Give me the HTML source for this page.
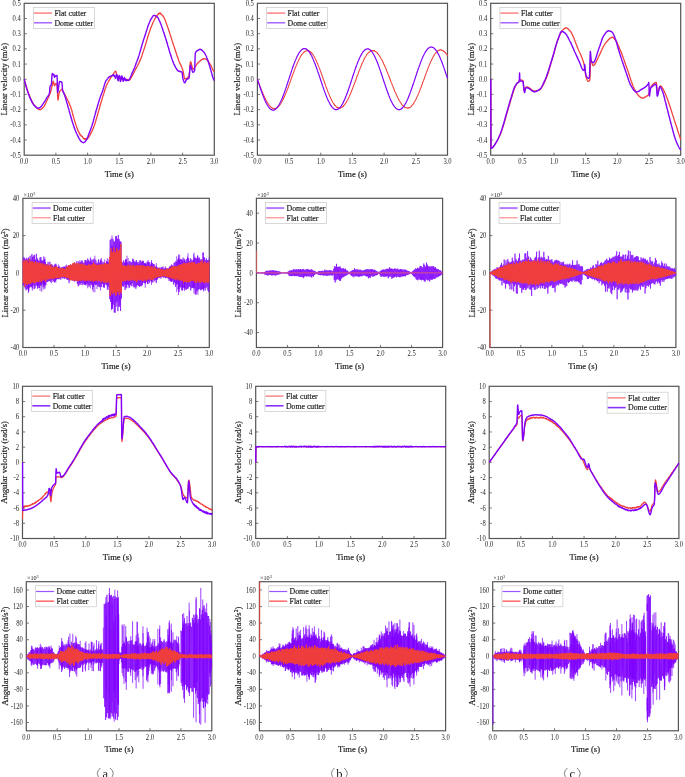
<!DOCTYPE html>
<html><head><meta charset="utf-8"><style>
html,body{margin:0;padding:0;background:#fff;}
svg{display:block;will-change:transform;}
text{font-family:"Liberation Serif", serif;fill:#1e1e1e;}
.tk{font-size:6.6px;}
.al{font-size:8.6px;stroke:#1e1e1e;stroke-width:0.18px;}
.lg{font-size:7.8px;stroke:#1e1e1e;stroke-width:0.18px;}
.mu{font-size:6.2px;}
.pl{font-size:12.5px;}
</style></head><body>
<svg width="685" height="777" viewBox="0 0 685 777">
<defs><clipPath id="c00"><rect x="23.50" y="2.60" width="191.50" height="153.30"/></clipPath><clipPath id="c01"><rect x="256.70" y="2.60" width="191.50" height="153.30"/></clipPath><clipPath id="c02"><rect x="490.00" y="2.60" width="191.40" height="153.30"/></clipPath><clipPath id="c10"><rect x="22.20" y="197.60" width="187.80" height="150.60"/></clipPath><clipPath id="c11"><rect x="255.70" y="197.60" width="187.60" height="150.60"/></clipPath><clipPath id="c12"><rect x="489.10" y="197.60" width="187.50" height="150.60"/></clipPath><clipPath id="c20"><rect x="21.80" y="385.60" width="191.10" height="153.60"/></clipPath><clipPath id="c21"><rect x="255.00" y="385.60" width="191.40" height="153.60"/></clipPath><clipPath id="c22"><rect x="488.50" y="385.60" width="191.10" height="153.60"/></clipPath><clipPath id="c30"><rect x="25.60" y="581.00" width="186.90" height="150.50"/></clipPath><clipPath id="c31"><rect x="258.70" y="581.00" width="187.60" height="150.50"/></clipPath><clipPath id="c32"><rect x="492.00" y="581.00" width="187.10" height="150.50"/></clipPath></defs>
<rect width="685" height="777" fill="#fff"/>
<g>
<rect x="24.20" y="3.30" width="190.10" height="151.90" fill="none" stroke="#555" stroke-width="1.2"/>
<path d="M55.88 155.20V152.60M87.57 155.20V152.60M119.25 155.20V152.60M150.93 155.20V152.60M182.62 155.20V152.60M24.20 140.01H26.80M24.20 124.82H26.80M24.20 109.63H26.80M24.20 94.44H26.80M24.20 79.25H26.80M24.20 64.06H26.80M24.20 48.87H26.80M24.20 33.68H26.80M24.20 18.49H26.80" stroke="#555" stroke-width="0.8" fill="none"/>
<text transform="translate(24.20 163.90) scale(1 1.10)" class="tk" text-anchor="middle">0.0</text>
<text transform="translate(55.88 163.90) scale(1 1.10)" class="tk" text-anchor="middle">0.5</text>
<text transform="translate(87.57 163.90) scale(1 1.10)" class="tk" text-anchor="middle">1.0</text>
<text transform="translate(119.25 163.90) scale(1 1.10)" class="tk" text-anchor="middle">1.5</text>
<text transform="translate(150.93 163.90) scale(1 1.10)" class="tk" text-anchor="middle">2.0</text>
<text transform="translate(182.62 163.90) scale(1 1.10)" class="tk" text-anchor="middle">2.5</text>
<text transform="translate(214.30 163.90) scale(1 1.10)" class="tk" text-anchor="middle">3.0</text>
<text transform="translate(20.70 157.80) scale(1 1.10)" class="tk" text-anchor="end">-0.5</text>
<text transform="translate(20.70 142.61) scale(1 1.10)" class="tk" text-anchor="end">-0.4</text>
<text transform="translate(20.70 127.42) scale(1 1.10)" class="tk" text-anchor="end">-0.3</text>
<text transform="translate(20.70 112.23) scale(1 1.10)" class="tk" text-anchor="end">-0.2</text>
<text transform="translate(20.70 97.04) scale(1 1.10)" class="tk" text-anchor="end">-0.1</text>
<text transform="translate(20.70 81.85) scale(1 1.10)" class="tk" text-anchor="end">0.0</text>
<text transform="translate(20.70 66.66) scale(1 1.10)" class="tk" text-anchor="end">0.1</text>
<text transform="translate(20.70 51.47) scale(1 1.10)" class="tk" text-anchor="end">0.2</text>
<text transform="translate(20.70 36.28) scale(1 1.10)" class="tk" text-anchor="end">0.3</text>
<text transform="translate(20.70 21.09) scale(1 1.10)" class="tk" text-anchor="end">0.4</text>
<text transform="translate(20.70 5.90) scale(1 1.10)" class="tk" text-anchor="end">0.5</text>
<text x="119.25" y="176.80" class="al" text-anchor="middle">Time (s)</text>
<text transform="translate(7.10 79.25) rotate(-90)" class="al" text-anchor="middle">Linear velocity (m/s)</text>
<g clip-path="url(#c00)">
<path d="M24.20 79.25L24.45 80.32L24.71 81.00L24.96 82.15L25.21 82.85L25.47 83.77L25.72 84.75L25.97 85.48L26.23 86.35L26.48 87.01L26.73 88.03L26.99 88.75L27.24 89.46L27.50 90.34L27.75 90.94L28.00 91.72L28.26 92.35L28.51 93.14L28.76 93.78L29.02 94.48L29.27 95.29L29.52 95.80L29.78 96.49L30.03 97.24L30.28 97.82L30.54 98.30L30.79 98.79L31.04 99.25L31.30 99.75L31.55 100.52L31.80 100.90L32.06 101.29L32.31 101.93L32.56 102.45L32.82 102.86L33.07 103.39L33.32 103.54L33.58 104.08L33.83 104.42L34.09 104.64L34.34 105.12L34.59 105.47L34.85 105.68L35.10 105.88L35.35 106.34L35.61 106.53L35.86 106.82L36.11 107.17L36.37 107.26L36.62 107.73L36.87 107.94L37.13 108.21L37.38 108.27L37.63 108.66L37.89 108.68L38.14 108.83L38.39 109.23L38.65 109.37L38.90 109.50L39.15 109.48L39.41 109.49L39.66 109.46L39.91 109.67L40.17 109.68L40.42 109.67L40.68 109.41L40.93 109.27L41.18 109.24L41.44 109.11L41.69 108.96L41.94 108.49L42.20 108.36L42.45 108.23L42.70 107.84L42.96 107.63L43.21 107.21L43.46 107.13L43.72 106.89L43.97 106.50L44.22 106.14L44.48 105.65L44.73 105.08L44.98 104.77L45.24 104.11L45.49 103.80L45.74 103.05L46.00 102.75L46.25 102.02L46.51 101.54L46.76 100.99L47.01 100.57L47.27 99.89L47.52 99.42L47.77 98.77L48.03 98.30L48.28 97.79L48.53 97.13L48.79 96.70L49.04 96.02L49.29 95.51L49.55 94.84L49.80 94.10L50.05 93.54L50.31 92.74L50.56 92.04L50.81 91.10L51.07 90.30L51.32 89.20L51.57 88.35L51.83 86.99L52.08 85.86L52.33 84.70L52.59 83.58L52.84 82.39L53.10 81.43L53.35 81.24L53.60 82.17L53.86 83.48L54.11 84.85L54.36 85.64L54.62 85.74L54.87 85.38L55.12 84.70L55.38 84.01L55.63 83.75L55.88 83.57L56.14 83.37L56.39 83.31L56.64 83.29L56.90 84.31L57.15 87.81L57.40 92.04L57.66 96.37L57.91 100.07L58.16 99.78L58.42 97.94L58.67 95.61L58.92 93.91L59.18 92.99L59.43 92.26L59.69 91.57L59.94 91.22L60.19 90.74L60.45 90.36L60.70 90.11L60.95 89.88L61.21 89.49L61.46 89.51L61.71 89.48L61.97 89.56L62.22 90.11L62.47 90.33L62.73 90.74L62.98 91.38L63.23 91.62L63.49 92.23L63.74 92.47L63.99 92.95L64.25 93.33L64.50 93.96L64.75 94.28L65.01 94.92L65.26 95.30L65.52 95.80L65.77 96.24L66.02 96.67L66.28 97.19L66.53 97.85L66.78 98.13L67.04 98.88L67.29 99.32L67.54 99.72L67.80 100.33L68.05 100.78L68.30 101.32L68.56 101.91L68.81 102.33L69.06 103.04L69.32 103.78L69.57 104.17L69.82 104.93L70.08 105.47L70.33 106.04L70.58 106.92L70.84 107.34L71.09 108.14L71.34 109.13L71.60 109.74L71.85 110.79L72.11 111.63L72.36 112.64L72.61 113.55L72.87 114.45L73.12 115.56L73.37 116.31L73.63 117.41L73.88 118.33L74.13 119.28L74.39 120.06L74.64 120.92L74.89 121.80L75.15 122.50L75.40 123.37L75.65 124.07L75.91 124.90L76.16 125.60L76.41 126.30L76.67 126.92L76.92 127.78L77.17 128.32L77.43 128.94L77.68 129.86L77.93 130.37L78.19 131.29L78.44 131.58L78.70 132.22L78.95 132.05L79.20 132.71L79.46 133.74L79.71 134.02L79.96 133.90L80.22 135.21L80.47 134.59L80.72 135.34L80.98 135.21L81.23 136.20L81.48 135.95L81.74 136.05L81.99 136.20L82.24 136.59L82.50 136.84L82.75 137.47L83.00 137.57L83.26 138.38L83.51 138.58L83.76 138.60L84.02 138.65L84.27 139.06L84.53 139.35L84.78 138.40L85.03 138.65L85.29 139.03L85.54 138.76L85.79 139.36L86.05 138.92L86.30 138.86L86.55 138.79L86.81 138.44L87.06 139.08L87.31 138.82L87.57 138.52L87.82 138.17L88.07 138.06L88.33 137.86L88.58 137.38L88.83 137.09L89.09 136.58L89.34 136.18L89.59 135.77L89.85 135.37L90.10 134.90L90.35 134.53L90.61 133.86L90.86 133.27L91.12 133.01L91.37 132.28L91.62 131.79L91.88 131.53L92.13 130.93L92.38 130.24L92.64 129.60L92.89 129.08L93.14 128.45L93.40 127.97L93.65 127.19L93.90 126.42L94.16 125.99L94.41 125.21L94.66 124.35L94.92 123.60L95.17 122.93L95.42 122.01L95.68 121.35L95.93 120.49L96.18 119.44L96.44 118.78L96.69 117.87L96.94 117.00L97.20 116.01L97.45 115.10L97.71 114.02L97.96 113.06L98.21 112.16L98.47 111.53L98.72 110.54L98.97 109.76L99.23 108.72L99.48 107.97L99.73 106.89L99.99 106.05L100.24 105.20L100.49 104.41L100.75 103.54L101.00 102.64L101.25 101.75L101.51 100.93L101.76 100.18L102.01 99.17L102.27 98.44L102.52 97.36L102.77 96.63L103.03 95.86L103.28 95.07L103.54 94.17L103.79 93.41L104.04 92.77L104.30 91.87L104.55 91.05L104.80 90.10L105.06 89.32L105.31 88.60L105.56 87.84L105.82 87.39L106.07 86.41L106.32 85.88L106.58 85.19L106.83 84.80L107.08 84.08L107.34 83.57L107.59 83.07L107.84 82.63L108.10 82.25L108.35 81.86L108.60 81.25L108.86 80.81L109.11 80.55L109.36 80.10L109.62 79.50L109.87 79.29L110.13 78.89L110.38 78.29L110.63 78.02L110.89 77.50L111.14 77.12L111.39 76.82L111.65 76.46L111.90 76.08L112.15 75.74L112.41 75.29L112.66 75.12L112.91 74.63L113.17 74.46L113.42 73.95L113.67 73.48L113.93 73.02L114.18 72.71L114.43 72.29L114.69 72.02L114.94 71.68L115.19 71.30L115.45 71.38L115.70 71.07L115.95 71.60L116.21 72.65L116.46 73.94L116.72 74.74L116.97 75.06L117.22 75.57L117.48 75.95L117.73 76.35L117.98 76.58L118.24 76.94L118.49 77.04L118.74 77.30L119.00 77.56L119.25 77.71L119.50 77.79L119.76 78.22L120.01 78.31L120.26 78.52L120.52 78.54L120.77 78.86L121.02 78.96L121.28 79.13L121.53 78.99L121.78 79.16L122.04 79.18L122.29 79.28L122.55 79.18L122.80 79.13L123.05 79.24L123.31 79.29L123.56 79.22L123.81 79.40L124.07 79.22L124.32 79.19L124.57 79.34L124.83 79.24L125.08 79.18L125.33 79.19L125.59 79.38L125.84 79.40L126.09 79.33L126.35 79.27L126.60 79.46L126.85 79.38L127.11 79.49L127.36 79.63L127.61 79.67L127.87 79.73L128.12 79.99L128.37 79.81L128.63 79.99L128.88 79.85L129.14 79.89L129.39 79.89L129.64 79.99L129.90 79.67L130.15 79.40L130.40 78.78L130.66 78.55L130.91 78.02L131.16 77.54L131.42 77.16L131.67 76.58L131.92 76.22L132.18 75.72L132.43 75.32L132.68 74.90L132.94 74.31L133.19 73.86L133.44 73.40L133.70 72.91L133.95 72.50L134.20 71.94L134.46 71.41L134.71 70.99L134.96 70.29L135.22 69.77L135.47 69.38L135.73 68.83L135.98 68.49L136.23 68.03L136.49 67.43L136.74 67.15L136.99 66.64L137.25 66.14L137.50 65.82L137.75 65.33L138.01 64.67L138.26 64.17L138.51 63.90L138.77 63.17L139.02 62.84L139.27 62.18L139.53 61.65L139.78 61.15L140.03 60.68L140.29 59.81L140.54 59.24L140.79 58.76L141.05 57.98L141.30 57.26L141.56 56.74L141.81 55.80L142.06 55.19L142.32 54.50L142.57 53.67L142.82 52.88L143.08 52.10L143.33 51.34L143.58 50.39L143.84 49.71L144.09 48.98L144.34 48.23L144.60 47.47L144.85 46.70L145.10 45.68L145.36 44.96L145.61 44.17L145.86 43.48L146.12 42.51L146.37 41.63L146.62 40.72L146.88 39.95L147.13 39.26L147.38 38.19L147.64 37.39L147.89 36.60L148.15 35.83L148.40 34.96L148.65 34.30L148.91 33.30L149.16 32.62L149.41 31.91L149.67 31.20L149.92 30.44L150.17 29.50L150.43 29.01L150.68 28.30L150.93 27.58L151.19 26.83L151.44 26.25L151.69 25.79L151.95 24.97L152.20 24.43L152.45 23.80L152.71 23.35L152.96 22.65L153.21 21.99L153.47 21.51L153.72 20.95L153.97 20.54L154.23 19.91L154.48 19.52L154.74 19.00L154.99 18.65L155.24 18.18L155.50 17.67L155.75 17.32L156.00 16.96L156.26 17.07L156.51 15.85L156.76 15.84L157.02 15.62L157.27 15.16L157.52 15.02L157.78 14.59L158.03 14.19L158.28 14.25L158.54 13.58L158.79 13.70L159.04 13.68L159.30 12.84L159.55 12.99L159.80 13.71L160.06 13.76L160.31 13.87L160.57 12.85L160.82 13.95L161.07 14.28L161.33 14.47L161.58 14.51L161.83 14.75L162.09 15.12L162.34 15.27L162.59 15.87L162.85 15.88L163.10 15.91L163.35 16.12L163.61 17.09L163.86 17.44L164.11 17.73L164.37 18.43L164.62 18.83L164.87 19.54L165.13 20.08L165.38 20.70L165.63 21.37L165.89 22.03L166.14 22.72L166.39 23.42L166.65 24.11L166.90 25.00L167.16 25.59L167.41 26.17L167.66 27.00L167.92 27.73L168.17 28.46L168.42 29.12L168.68 29.94L168.93 30.83L169.18 31.46L169.44 32.27L169.69 33.18L169.94 33.75L170.20 34.68L170.45 35.39L170.70 36.27L170.96 36.93L171.21 37.76L171.46 38.48L171.72 39.40L171.97 40.18L172.22 40.86L172.48 41.74L172.73 42.44L172.98 43.25L173.24 44.06L173.49 44.66L173.75 45.67L174.00 46.28L174.25 47.11L174.51 47.81L174.76 48.79L175.01 49.44L175.27 50.34L175.52 50.98L175.77 51.80L176.03 52.59L176.28 53.32L176.53 54.03L176.79 55.01L177.04 55.81L177.29 56.34L177.55 57.05L177.80 57.83L178.05 58.46L178.31 59.33L178.56 59.94L178.81 60.65L179.07 61.38L179.32 61.97L179.58 62.57L179.83 63.14L180.08 63.59L180.34 64.11L180.59 64.52L180.84 65.10L181.10 65.79L181.35 66.47L181.60 66.94L181.86 67.43L182.11 68.15L182.36 69.01L182.62 69.55L182.87 70.34L183.12 71.21L183.38 72.45L183.63 73.94L183.88 75.27L184.14 76.83L184.39 78.00L184.64 78.74L184.90 78.97L185.15 79.02L185.40 78.80L185.66 78.82L185.91 78.61L186.17 78.62L186.42 78.57L186.67 78.46L186.93 78.11L187.18 77.84L187.43 77.68L187.69 77.35L187.94 76.97L188.19 76.77L188.45 76.49L188.70 76.14L188.95 75.75L189.21 74.31L189.46 71.79L189.71 68.64L189.97 65.62L190.22 63.23L190.47 61.76L190.73 62.01L190.98 62.47L191.23 63.10L191.49 64.23L191.74 65.38L191.99 66.53L192.25 67.33L192.50 68.37L192.76 68.94L193.01 69.00L193.26 68.97L193.52 69.06L193.77 68.70L194.02 68.44L194.28 68.27L194.53 67.76L194.78 67.50L195.04 67.06L195.29 66.69L195.54 66.28L195.80 65.85L196.05 65.35L196.30 65.06L196.56 64.63L196.81 64.27L197.06 63.77L197.32 63.54L197.57 63.19L197.82 62.91L198.08 62.79L198.33 62.65L198.59 62.37L198.84 61.98L199.09 61.72L199.35 61.65L199.60 61.40L199.85 61.22L200.11 60.78L200.36 60.78L200.61 60.44L200.87 60.19L201.12 60.02L201.37 60.03L201.63 59.84L201.88 59.41L202.13 59.33L202.39 59.32L202.64 58.99L202.89 58.88L203.15 58.79L203.40 58.96L203.65 58.75L203.91 58.71L204.16 58.83L204.41 58.70L204.67 58.86L204.92 58.81L205.18 58.87L205.43 59.00L205.68 59.05L205.94 59.16L206.19 59.54L206.44 59.69L206.70 59.72L206.95 59.95L207.20 60.19L207.46 60.28L207.71 60.65L207.96 60.96L208.22 61.08L208.47 61.44L208.72 62.00L208.98 62.37L209.23 62.61L209.48 63.22L209.74 63.63L209.99 63.91L210.24 64.34L210.50 64.69L210.75 65.21L211.00 65.57L211.26 66.21L211.51 66.78L211.77 67.33L212.02 67.76L212.27 68.50L212.53 69.10L212.78 69.45L213.03 70.09L213.29 70.60L213.54 70.79L213.79 71.32L214.05 71.58L214.30 71.72" fill="none" stroke="#f0403c" stroke-width="1.30" stroke-linejoin="round"/>
<path d="M24.20 79.18L24.45 80.21L24.71 81.38L24.96 82.15L25.21 83.27L25.47 84.26L25.72 85.03L25.97 85.90L26.23 86.86L26.48 87.84L26.73 88.66L26.99 89.35L27.24 90.23L27.50 91.08L27.75 91.76L28.00 92.57L28.26 93.39L28.51 94.02L28.76 94.63L29.02 95.25L29.27 95.95L29.52 96.64L29.78 97.38L30.03 97.94L30.28 98.39L30.54 99.12L30.79 99.54L31.04 100.15L31.30 100.51L31.55 101.04L31.80 101.59L32.06 102.30L32.31 102.72L32.56 103.22L32.82 103.59L33.07 103.92L33.32 104.31L33.58 104.65L33.83 105.02L34.09 105.17L34.34 105.58L34.59 105.77L34.85 106.10L35.10 106.27L35.35 106.58L35.61 106.71L35.86 107.00L36.11 107.12L36.37 107.28L36.62 107.44L36.87 107.79L37.13 107.85L37.38 108.09L37.63 108.15L37.89 108.06L38.14 108.25L38.39 108.13L38.65 108.15L38.90 107.99L39.15 107.85L39.41 107.77L39.66 107.68L39.91 107.71L40.17 107.45L40.42 107.25L40.68 107.26L40.93 106.77L41.18 106.57L41.44 106.24L41.69 105.91L41.94 105.50L42.20 105.23L42.45 104.78L42.70 104.33L42.96 103.96L43.21 103.56L43.46 103.33L43.72 102.74L43.97 102.51L44.22 102.09L44.48 101.55L44.73 101.23L44.98 101.02L45.24 100.58L45.49 99.93L45.74 99.60L46.00 99.09L46.25 98.90L46.51 98.25L46.76 97.79L47.01 97.62L47.27 97.06L47.52 96.68L47.77 96.30L48.03 96.11L48.28 95.78L48.53 95.44L48.79 94.80L49.04 94.23L49.29 93.48L49.55 92.57L49.80 88.80L50.05 86.36L50.31 85.72L50.56 85.66L50.81 85.54L51.07 85.11L51.32 84.71L51.57 81.88L51.83 77.58L52.08 74.03L52.33 73.60L52.59 74.09L52.84 74.60L53.10 74.81L53.35 74.63L53.60 74.40L53.86 74.18L54.11 75.76L54.36 77.18L54.62 77.24L54.87 76.87L55.12 76.41L55.38 75.92L55.63 75.80L55.88 75.79L56.14 75.71L56.39 75.55L56.64 75.57L56.90 75.43L57.15 77.35L57.40 86.41L57.66 92.45L57.91 91.55L58.16 90.30L58.42 88.39L58.67 86.83L58.92 84.80L59.18 83.00L59.43 81.66L59.69 81.41L59.94 81.39L60.19 81.69L60.45 81.66L60.70 81.58L60.95 81.68L61.21 81.85L61.46 82.09L61.71 82.04L61.97 82.65L62.22 85.82L62.47 89.20L62.73 90.61L62.98 91.41L63.23 92.19L63.49 92.57L63.74 93.17L63.99 93.70L64.25 94.28L64.50 94.99L64.75 95.80L65.01 96.38L65.26 97.16L65.52 98.04L65.77 98.93L66.02 99.89L66.28 100.67L66.53 101.55L66.78 102.50L67.04 103.17L67.29 104.05L67.54 104.98L67.80 105.83L68.05 106.82L68.30 107.79L68.56 108.44L68.81 109.45L69.06 110.41L69.32 111.28L69.57 112.34L69.82 113.22L70.08 114.19L70.33 114.88L70.58 115.81L70.84 116.67L71.09 117.78L71.34 118.67L71.60 119.22L71.85 120.29L72.11 121.10L72.36 121.98L72.61 122.61L72.87 123.55L73.12 124.20L73.37 124.94L73.63 125.91L73.88 126.45L74.13 127.38L74.39 127.96L74.64 128.71L74.89 129.49L75.15 129.94L75.40 130.63L75.65 131.20L75.91 131.73L76.16 132.39L76.41 132.86L76.67 133.59L76.92 134.07L77.17 134.49L77.43 135.22L77.68 135.53L77.93 136.14L78.19 136.69L78.44 137.07L78.70 137.51L78.95 138.29L79.20 138.80L79.46 139.03L79.71 139.46L79.96 139.95L80.22 140.36L80.47 140.78L80.72 141.04L80.98 141.30L81.23 141.32L81.48 141.67L81.74 141.85L81.99 142.01L82.24 142.15L82.50 142.34L82.75 142.53L83.00 142.55L83.26 142.63L83.51 142.61L83.76 142.73L84.02 142.58L84.27 142.34L84.53 142.22L84.78 141.94L85.03 141.73L85.29 141.50L85.54 141.00L85.79 140.75L86.05 140.27L86.30 140.14L86.55 139.66L86.81 139.07L87.06 138.59L87.31 138.00L87.57 137.39L87.82 136.79L88.07 136.27L88.33 135.48L88.58 134.73L88.83 134.07L89.09 133.34L89.34 132.81L89.59 131.96L89.85 131.39L90.10 130.75L90.35 130.05L90.61 129.56L90.86 128.72L91.12 128.07L91.37 127.30L91.62 126.78L91.88 125.92L92.13 125.24L92.38 124.30L92.64 123.40L92.89 122.62L93.14 121.86L93.40 120.97L93.65 119.89L93.90 119.09L94.16 117.90L94.41 117.08L94.66 116.04L94.92 115.13L95.17 114.11L95.42 113.37L95.68 112.26L95.93 111.53L96.18 110.38L96.44 109.61L96.69 108.75L96.94 107.97L97.20 107.00L97.45 106.18L97.71 105.19L97.96 104.40L98.21 103.67L98.47 102.64L98.72 101.91L98.97 101.01L99.23 100.17L99.48 99.35L99.73 98.76L99.99 97.94L100.24 97.09L100.49 96.35L100.75 95.72L101.00 94.98L101.25 94.40L101.51 93.78L101.76 93.06L102.01 92.53L102.27 91.88L102.52 91.13L102.77 90.41L103.03 89.67L103.28 88.76L103.54 87.89L103.79 86.94L104.04 86.18L104.30 85.24L104.55 84.20L104.80 83.60L105.06 82.89L105.31 82.20L105.56 81.49L105.82 81.03L106.07 80.60L106.32 80.16L106.58 79.92L106.83 79.68L107.08 79.31L107.34 78.95L107.59 78.70L107.84 78.35L108.10 77.94L108.35 77.85L108.60 77.47L108.86 77.39L109.11 77.01L109.36 76.74L109.62 76.76L109.87 76.41L110.13 76.50L110.38 76.24L110.63 76.24L110.89 75.93L111.14 75.97L111.39 75.92L111.65 75.66L111.90 75.72L112.15 75.50L112.41 75.48L112.66 75.43L112.91 75.63L113.17 74.70L113.42 74.77L113.67 75.82L113.93 75.69L114.18 75.33L114.43 75.45L114.69 76.78L114.94 77.00L115.19 77.20L115.45 78.41L115.70 76.80L115.95 76.94L116.21 75.48L116.46 74.59L116.72 74.26L116.97 75.09L117.22 77.03L117.48 79.12L117.73 79.62L117.98 80.16L118.24 80.85L118.49 78.10L118.74 76.33L119.00 75.87L119.25 75.53L119.50 75.98L119.76 76.97L120.01 78.60L120.26 81.29L120.52 81.50L120.77 80.80L121.02 78.48L121.28 77.37L121.53 75.84L121.78 76.94L122.04 76.21L122.29 77.22L122.55 79.31L122.80 79.76L123.05 80.85L123.31 81.26L123.56 80.35L123.81 78.34L124.07 78.80L124.32 77.55L124.57 77.99L124.83 78.17L125.08 80.04L125.33 79.36L125.59 80.44L125.84 80.32L126.09 80.52L126.35 79.54L126.60 80.38L126.85 80.51L127.11 80.42L127.36 80.34L127.61 80.32L127.87 80.41L128.12 80.53L128.37 80.22L128.63 80.06L128.88 79.99L129.14 79.74L129.39 79.22L129.64 78.84L129.90 78.25L130.15 77.73L130.40 77.23L130.66 76.57L130.91 76.03L131.16 75.32L131.42 74.92L131.67 74.21L131.92 73.43L132.18 72.85L132.43 72.46L132.68 71.77L132.94 71.19L133.19 70.56L133.44 70.19L133.70 69.58L133.95 69.07L134.20 68.27L134.46 67.84L134.71 67.24L134.96 66.61L135.22 65.95L135.47 65.21L135.73 64.43L135.98 63.94L136.23 63.09L136.49 62.42L136.74 61.83L136.99 61.05L137.25 60.45L137.50 59.86L137.75 58.93L138.01 58.37L138.26 57.67L138.51 56.60L138.77 55.92L139.02 55.20L139.27 54.39L139.53 53.42L139.78 52.74L140.03 51.76L140.29 50.86L140.54 50.09L140.79 49.26L141.05 48.46L141.30 47.54L141.56 46.50L141.81 45.78L142.06 44.85L142.32 44.10L142.57 43.05L142.82 42.39L143.08 41.59L143.33 40.54L143.58 39.71L143.84 39.17L144.09 38.38L144.34 37.38L144.60 36.84L144.85 35.93L145.10 35.19L145.36 34.39L145.61 33.56L145.86 32.93L146.12 32.05L146.37 31.34L146.62 30.45L146.88 29.75L147.13 28.83L147.38 28.04L147.64 27.30L147.89 26.37L148.15 25.86L148.40 24.94L148.65 24.48L148.91 23.52L149.16 23.06L149.41 22.45L149.67 21.77L149.92 21.07L150.17 20.74L150.43 20.09L150.68 19.61L150.93 19.31L151.19 18.98L151.44 18.30L151.69 17.98L151.95 17.63L152.20 17.12L152.45 16.93L152.71 16.49L152.96 16.03L153.21 15.79L153.47 15.58L153.72 15.53L153.97 15.59L154.23 15.34L154.48 15.38L154.74 15.45L154.99 15.63L155.24 15.68L155.50 15.79L155.75 15.84L156.00 16.18L156.26 16.24L156.51 16.52L156.76 16.45L157.02 16.77L157.27 16.93L157.52 17.31L157.78 17.56L158.03 17.88L158.28 18.19L158.54 18.81L158.79 19.39L159.04 19.89L159.30 20.52L159.55 20.99L159.80 21.50L160.06 22.08L160.31 22.84L160.57 23.44L160.82 24.01L161.07 24.71L161.33 25.31L161.58 26.13L161.83 26.82L162.09 27.44L162.34 28.31L162.59 29.11L162.85 29.75L163.10 30.75L163.35 31.49L163.61 32.05L163.86 32.84L164.11 33.54L164.37 34.59L164.62 35.14L164.87 36.12L165.13 36.81L165.38 37.46L165.63 38.31L165.89 39.12L166.14 40.08L166.39 40.77L166.65 41.52L166.90 42.58L167.16 43.29L167.41 44.01L167.66 45.14L167.92 45.93L168.17 46.73L168.42 47.52L168.68 48.55L168.93 49.24L169.18 50.35L169.44 51.13L169.69 51.93L169.94 52.75L170.20 53.57L170.45 54.25L170.70 55.15L170.96 55.74L171.21 56.72L171.46 57.53L171.72 58.15L171.97 58.88L172.22 59.88L172.48 60.60L172.73 61.07L172.98 61.88L173.24 62.40L173.49 63.01L173.75 63.79L174.00 64.24L174.25 64.77L174.51 65.14L174.76 65.79L175.01 66.25L175.27 66.64L175.52 67.16L175.77 67.55L176.03 68.10L176.28 68.41L176.53 68.89L176.79 69.39L177.04 69.69L177.29 70.00L177.55 70.15L177.80 70.62L178.05 70.78L178.31 71.07L178.56 71.21L178.81 71.32L179.07 71.29L179.32 71.43L179.58 71.28L179.83 71.30L180.08 71.56L180.34 71.56L180.59 71.68L180.84 71.54L181.10 71.67L181.35 71.85L181.60 71.91L181.86 72.13L182.11 72.18L182.36 74.05L182.62 77.08L182.87 78.26L183.12 79.17L183.38 80.25L183.63 80.87L183.88 81.62L184.14 82.26L184.39 82.53L184.64 82.72L184.90 82.69L185.15 82.46L185.40 81.92L185.66 81.29L185.91 80.55L186.17 79.88L186.42 79.46L186.67 79.50L186.93 79.25L187.18 79.01L187.43 78.97L187.69 78.98L187.94 78.78L188.19 78.87L188.45 78.63L188.70 78.49L188.95 78.24L189.21 76.85L189.46 74.44L189.71 71.14L189.97 67.81L190.22 65.73L190.47 65.16L190.73 65.61L190.98 66.59L191.23 67.64L191.49 68.66L191.74 69.36L191.99 70.07L192.25 70.89L192.50 71.53L192.76 72.13L193.01 72.28L193.26 72.19L193.52 72.10L193.77 71.90L194.02 71.44L194.28 70.93L194.53 70.62L194.78 68.11L195.04 59.20L195.29 53.34L195.54 52.81L195.80 52.05L196.05 51.73L196.30 51.55L196.56 51.06L196.81 50.91L197.06 50.86L197.32 50.78L197.57 50.42L197.82 50.36L198.08 50.25L198.33 50.07L198.59 49.91L198.84 49.90L199.09 49.77L199.35 49.42L199.60 49.34L199.85 49.32L200.11 49.21L200.36 49.23L200.61 49.42L200.87 49.65L201.12 49.58L201.37 49.72L201.63 50.04L201.88 50.16L202.13 50.30L202.39 50.56L202.64 51.03L202.89 51.03L203.15 51.43L203.40 51.63L203.65 52.02L203.91 52.25L204.16 52.49L204.41 52.84L204.67 53.22L204.92 53.61L205.18 54.02L205.43 54.47L205.68 55.02L205.94 55.51L206.19 55.93L206.44 56.63L206.70 57.42L206.95 58.09L207.20 58.60L207.46 59.28L207.71 60.06L207.96 60.77L208.22 61.57L208.47 62.55L208.72 63.31L208.98 63.96L209.23 64.76L209.48 65.57L209.74 66.38L209.99 67.22L210.24 68.12L210.50 68.99L210.75 69.78L211.00 70.89L211.26 71.83L211.51 72.62L211.77 73.56L212.02 74.61L212.27 75.42L212.53 76.40L212.78 77.06L213.03 77.94L213.29 78.64L213.54 79.14L213.79 79.76L214.05 80.28L214.30 80.71" fill="none" stroke="#7f00ff" stroke-width="1.40" stroke-linejoin="round"/>
</g>
<rect x="33.40" y="7.40" width="61" height="21" fill="#fff" stroke="#c8c8c8" stroke-width="0.7"/>
<line x1="34.00" y1="13.10" x2="52.00" y2="13.10" stroke="#ff8a8a" stroke-width="1.60"/>
<text x="54.40" y="15.80" class="lg">Flat cutter</text>
<line x1="34.00" y1="22.80" x2="52.00" y2="22.80" stroke="#9a4dff" stroke-width="1.30"/>
<text x="54.40" y="25.50" class="lg">Dome cutter</text>
</g>
<g>
<rect x="257.40" y="3.30" width="190.10" height="151.90" fill="none" stroke="#555" stroke-width="1.2"/>
<path d="M289.08 155.20V152.60M320.77 155.20V152.60M352.45 155.20V152.60M384.13 155.20V152.60M415.82 155.20V152.60M257.40 140.01H260.00M257.40 124.82H260.00M257.40 109.63H260.00M257.40 94.44H260.00M257.40 79.25H260.00M257.40 64.06H260.00M257.40 48.87H260.00M257.40 33.68H260.00M257.40 18.49H260.00" stroke="#555" stroke-width="0.8" fill="none"/>
<text transform="translate(257.40 163.90) scale(1 1.10)" class="tk" text-anchor="middle">0.0</text>
<text transform="translate(289.08 163.90) scale(1 1.10)" class="tk" text-anchor="middle">0.5</text>
<text transform="translate(320.77 163.90) scale(1 1.10)" class="tk" text-anchor="middle">1.0</text>
<text transform="translate(352.45 163.90) scale(1 1.10)" class="tk" text-anchor="middle">1.5</text>
<text transform="translate(384.13 163.90) scale(1 1.10)" class="tk" text-anchor="middle">2.0</text>
<text transform="translate(415.82 163.90) scale(1 1.10)" class="tk" text-anchor="middle">2.5</text>
<text transform="translate(447.50 163.90) scale(1 1.10)" class="tk" text-anchor="middle">3.0</text>
<text transform="translate(253.90 157.80) scale(1 1.10)" class="tk" text-anchor="end">-0.5</text>
<text transform="translate(253.90 142.61) scale(1 1.10)" class="tk" text-anchor="end">-0.4</text>
<text transform="translate(253.90 127.42) scale(1 1.10)" class="tk" text-anchor="end">-0.3</text>
<text transform="translate(253.90 112.23) scale(1 1.10)" class="tk" text-anchor="end">-0.2</text>
<text transform="translate(253.90 97.04) scale(1 1.10)" class="tk" text-anchor="end">-0.1</text>
<text transform="translate(253.90 81.85) scale(1 1.10)" class="tk" text-anchor="end">0.0</text>
<text transform="translate(253.90 66.66) scale(1 1.10)" class="tk" text-anchor="end">0.1</text>
<text transform="translate(253.90 51.47) scale(1 1.10)" class="tk" text-anchor="end">0.2</text>
<text transform="translate(253.90 36.28) scale(1 1.10)" class="tk" text-anchor="end">0.3</text>
<text transform="translate(253.90 21.09) scale(1 1.10)" class="tk" text-anchor="end">0.4</text>
<text transform="translate(253.90 5.90) scale(1 1.10)" class="tk" text-anchor="end">0.5</text>
<text x="352.45" y="176.80" class="al" text-anchor="middle">Time (s)</text>
<text transform="translate(240.30 79.25) rotate(-90)" class="al" text-anchor="middle">Linear velocity (m/s)</text>
<g clip-path="url(#c01)">
<path d="M257.40 79.00L257.65 79.77L257.91 80.79L258.16 81.34L258.41 81.73L258.67 82.61L258.92 83.32L259.17 83.80L259.43 84.82L259.68 85.11L259.93 85.95L260.19 86.68L260.44 87.29L260.70 88.04L260.95 88.78L261.20 89.55L261.46 89.79L261.71 90.64L261.96 91.29L262.22 91.67L262.47 92.11L262.72 93.30L262.98 93.49L263.23 94.09L263.48 95.02L263.74 95.41L263.99 95.91L264.24 96.65L264.50 96.75L264.75 97.69L265.00 98.02L265.26 98.37L265.51 99.22L265.76 99.87L266.02 99.92L266.27 100.65L266.52 100.92L266.78 101.63L267.03 102.06L267.29 102.18L267.54 102.96L267.79 103.26L268.05 103.66L268.30 104.12L268.55 104.25L268.81 104.79L269.06 105.20L269.31 105.05L269.57 105.81L269.82 105.83L270.07 106.16L270.33 106.22L270.58 106.80L270.83 106.79L271.09 107.35L271.34 107.20L271.59 107.56L271.85 107.64L272.10 107.92L272.35 107.81L272.61 107.93L272.86 108.38L273.11 108.48L273.37 108.45L273.62 108.72L273.88 108.34L274.13 108.76L274.38 108.37L274.51 108.85L274.76 108.63L275.02 108.60L275.27 108.77L275.52 108.60L275.78 108.53L276.03 107.99L276.28 108.07L276.54 107.78L276.79 107.70L277.04 107.55L277.30 107.76L277.55 107.13L277.80 107.02L278.06 106.92L278.31 106.89L278.56 106.70L278.82 106.28L279.07 105.69L279.32 105.59L279.58 105.37L279.83 104.64L280.09 104.67L280.34 104.12L280.59 103.88L280.85 103.53L281.10 103.13L281.35 102.62L281.61 102.21L281.86 101.55L282.11 101.27L282.37 100.57L282.62 100.30L282.87 99.84L283.13 99.48L283.38 98.73L283.63 97.97L283.89 97.74L284.14 96.99L284.39 96.75L284.65 95.97L284.90 95.38L285.15 95.11L285.41 94.20L285.66 93.56L285.91 92.95L286.17 92.40L286.42 91.54L286.68 91.17L286.93 90.75L287.18 89.88L287.44 89.33L287.69 88.79L287.94 88.06L288.20 87.32L288.45 86.68L288.70 86.01L288.96 84.98L289.21 84.43L289.46 83.65L289.72 82.91L289.97 82.40L290.22 81.55L290.48 81.03L290.73 80.30L290.98 79.32L291.24 78.82L291.49 78.09L291.74 77.58L292.00 76.51L292.25 75.86L292.51 75.37L292.76 74.61L293.01 74.08L293.27 73.19L293.52 72.43L293.77 72.19L294.03 71.10L294.28 70.38L294.53 69.79L294.79 69.17L295.04 68.45L295.29 67.99L295.55 67.59L295.80 66.47L296.05 66.02L296.31 65.55L296.56 65.08L296.81 64.55L297.07 63.44L297.32 63.09L297.57 62.73L297.83 61.67L298.08 61.44L298.33 60.65L298.59 60.48L298.84 60.06L299.10 59.31L299.35 58.50L299.60 58.05L299.86 57.79L300.11 57.59L300.36 56.78L300.62 56.60L300.87 56.03L301.12 55.54L301.38 55.41L301.63 54.79L301.88 54.47L302.14 54.36L302.39 53.86L302.64 53.72L302.90 53.25L303.15 52.75L303.40 52.65L303.66 52.65L303.91 52.22L304.16 52.24L304.42 51.45L304.67 51.46L304.93 51.55L305.18 51.34L305.43 51.12L305.69 51.05L305.94 51.07L306.19 50.86L306.45 50.70L306.70 50.65L306.95 50.67L307.21 50.44L307.46 50.64L307.71 50.62L307.97 50.75L308.22 50.61L308.47 50.40L308.73 50.79L308.98 51.08L309.23 51.06L309.49 51.20L309.74 51.20L309.99 51.34L310.25 51.75L310.50 51.57L310.75 52.26L311.01 52.50L311.26 52.81L311.52 52.58L311.77 52.86L312.02 53.63L312.28 53.65L312.53 53.91L312.78 54.33L313.04 54.86L313.29 54.94L313.54 55.53L313.80 56.05L314.05 56.51L314.30 56.53L314.56 57.46L314.81 57.70L315.06 58.19L315.32 58.76L315.57 59.10L315.82 59.98L316.08 60.11L316.33 60.85L316.58 61.18L316.84 62.02L317.09 62.76L317.34 63.34L317.60 63.49L317.85 64.39L318.11 65.17L318.36 65.38L318.61 66.14L318.87 66.96L319.12 67.63L319.37 68.12L319.63 68.89L319.88 69.58L320.13 70.07L320.39 70.93L320.64 71.58L320.89 72.34L321.15 72.93L321.40 73.52L321.65 74.29L321.91 75.29L322.16 75.56L322.41 76.25L322.67 76.88L322.92 78.10L323.17 78.90L323.43 79.17L323.68 79.90L323.94 80.58L324.19 81.54L324.44 82.18L324.70 83.10L324.95 83.44L325.20 84.55L325.46 85.01L325.71 85.92L325.96 86.61L326.22 87.37L326.47 87.81L326.72 88.56L326.98 89.21L327.23 89.66L327.48 90.51L327.74 91.42L327.99 92.06L328.24 92.17L328.50 93.19L328.75 93.61L329.00 94.12L329.26 94.73L329.51 95.72L329.76 96.40L330.02 96.72L330.27 97.20L330.53 97.83L330.78 98.57L331.03 99.05L331.29 99.16L331.54 99.76L331.79 100.65L332.05 100.90L332.30 101.47L332.55 102.00L332.81 102.35L333.06 102.84L333.31 103.14L333.57 103.34L333.82 103.70L334.07 104.55L334.33 104.31L334.58 105.06L334.83 105.49L335.09 105.40L335.34 105.58L335.59 106.06L335.85 106.27L336.10 106.59L336.35 106.79L336.61 107.30L336.86 106.99L337.12 107.66L337.37 107.27L337.62 107.94L337.88 107.69L338.13 108.02L338.38 107.67L338.64 108.00L338.89 108.18L339.14 108.18L339.40 108.29L339.65 107.89L339.90 108.02L340.16 108.10L340.41 107.70L340.66 108.11L340.92 107.76L341.17 107.55L341.42 107.42L341.68 107.53L341.93 107.02L342.18 106.96L342.44 106.81L342.69 106.58L342.94 106.64L343.20 106.32L343.45 106.26L343.71 105.87L343.96 105.35L344.21 105.07L344.47 104.64L344.72 104.38L344.97 104.26L345.23 103.98L345.48 103.35L345.73 103.00L345.99 102.88L346.24 102.56L346.49 101.61L346.75 101.17L347.00 101.13L347.25 100.51L347.51 100.00L347.76 99.64L348.01 99.22L348.27 98.29L348.52 98.31L348.77 97.78L349.03 96.91L349.28 96.39L349.54 95.72L349.79 95.33L350.04 94.53L350.30 94.14L350.55 93.76L350.80 92.92L351.06 92.50L351.31 91.49L351.56 91.29L351.82 90.20L352.07 89.61L352.32 89.27L352.58 88.36L352.83 87.60L353.08 86.92L353.34 86.67L353.59 85.54L353.84 84.89L354.10 84.74L354.35 83.96L354.60 83.03L354.86 82.24L355.11 81.96L355.36 81.22L355.62 80.46L355.87 79.69L356.13 79.00L356.38 78.58L356.63 77.61L356.89 76.66L357.14 75.97L357.39 75.60L357.65 75.00L357.90 74.25L358.15 73.64L358.41 72.70L358.66 72.08L358.91 71.35L359.17 70.75L359.42 70.03L359.67 69.72L359.93 68.66L360.18 68.06L360.43 67.73L360.69 66.91L360.94 66.25L361.19 66.02L361.45 65.37L361.70 64.37L361.95 63.74L362.21 63.37L362.46 62.84L362.72 62.15L362.97 61.74L363.22 61.26L363.48 60.81L363.73 59.94L363.98 59.68L364.24 58.83L364.49 58.35L364.74 57.87L365.00 57.44L365.25 57.40L365.50 56.71L365.76 56.36L366.01 55.93L366.26 55.39L366.52 54.91L366.77 54.62L367.02 54.67L367.28 54.02L367.53 53.74L367.78 53.34L368.04 53.33L368.29 53.02L368.55 52.56L368.80 52.39L369.05 52.09L369.31 51.97L369.56 51.78L369.81 51.58L370.07 51.61L370.32 51.48L370.57 50.80L370.83 50.87L371.08 50.56L371.33 50.67L371.59 50.86L371.84 50.72L372.09 50.61L372.35 50.30L372.60 50.73L372.85 50.62L373.11 50.45L373.36 50.78L373.61 50.38L373.87 50.54L374.12 50.98L374.37 50.63L374.63 50.80L374.88 51.14L375.14 51.41L375.39 51.49L375.64 51.33L375.90 51.66L376.15 52.11L376.40 52.11L376.66 52.25L376.91 52.37L377.16 52.78L377.42 53.45L377.67 53.20L377.92 53.80L378.18 54.32L378.43 54.52L378.68 54.60L378.94 55.17L379.19 55.21L379.44 55.81L379.70 56.05L379.95 56.81L380.20 57.22L380.46 57.57L380.71 57.77L380.96 58.47L381.22 59.03L381.47 59.13L381.73 59.69L381.98 59.96L382.23 60.42L382.49 61.29L382.74 61.41L382.99 62.26L383.25 62.49L383.50 63.37L383.75 63.97L384.01 64.63L384.26 64.87L384.51 65.44L384.77 66.02L385.02 66.79L385.27 67.43L385.53 67.63L385.78 68.36L386.03 68.80L386.29 69.53L386.54 70.45L386.79 71.19L387.05 71.85L387.30 71.93L387.56 72.77L387.81 73.69L388.06 74.12L388.32 74.67L388.57 75.58L388.82 76.28L389.08 76.50L389.33 77.37L389.58 77.80L389.84 78.48L390.09 79.34L390.34 79.83L390.60 80.82L390.85 81.21L391.10 81.75L391.36 82.67L391.61 83.10L391.86 83.63L392.12 84.84L392.37 84.99L392.62 85.60L392.88 86.45L393.13 86.79L393.38 87.89L393.64 88.09L393.89 88.69L394.15 89.86L394.40 90.20L394.65 91.05L394.91 91.63L395.16 92.12L395.41 92.29L395.67 93.23L395.92 93.46L396.17 93.99L396.43 95.04L396.68 95.27L396.93 96.07L397.19 96.47L397.44 97.15L397.69 97.58L397.95 98.28L398.20 98.47L398.45 99.19L398.71 99.64L398.96 99.96L399.21 100.37L399.47 100.76L399.72 101.32L399.98 101.47L400.23 102.03L400.48 102.55L400.74 102.73L400.99 103.04L401.24 103.34L401.50 104.10L401.75 104.48L402.00 104.78L402.26 105.01L402.51 105.24L402.76 105.19L403.02 105.96L403.27 105.97L403.52 106.33L403.78 106.22L404.03 106.81L404.28 106.65L404.54 107.32L404.79 107.34L405.04 107.39L405.30 107.60L405.55 107.47L405.80 107.75L406.06 107.59L406.31 107.79L406.57 107.86L406.82 107.84L407.07 108.03L407.33 107.84L407.58 107.83L407.83 108.00L408.09 108.37L408.34 108.17L408.59 107.93L408.85 107.72L409.10 107.58L409.35 107.65L409.61 107.66L409.86 107.62L410.11 107.24L410.37 107.30L410.62 107.08L410.87 106.90L411.13 106.36L411.38 106.20L411.63 105.76L411.89 105.74L412.14 105.13L412.39 105.08L412.65 104.58L412.90 104.43L413.16 103.90L413.41 103.43L413.66 103.31L413.92 102.92L414.17 102.58L414.42 101.91L414.68 101.70L414.93 101.14L415.18 100.54L415.44 100.27L415.69 99.94L415.94 99.22L416.20 98.96L416.45 98.48L416.70 97.49L416.96 97.07L417.21 96.55L417.46 96.18L417.72 95.54L417.97 95.00L418.22 94.11L418.48 93.64L418.73 92.96L418.99 92.69L419.24 92.02L419.49 91.16L419.75 90.86L420.00 89.77L420.25 89.05L420.51 88.60L420.76 88.11L421.01 87.61L421.27 86.67L421.52 85.77L421.77 85.36L422.03 84.32L422.28 84.11L422.53 83.12L422.79 82.29L423.04 81.62L423.29 81.33L423.55 80.67L423.80 79.54L424.05 79.32L424.31 78.54L424.56 77.51L424.81 76.65L425.07 76.01L425.32 75.48L425.58 74.64L425.83 73.93L426.08 73.30L426.34 72.97L426.59 71.78L426.84 71.63L427.10 70.67L427.35 70.18L427.60 69.37L427.86 68.97L428.11 67.86L428.36 67.26L428.62 66.77L428.87 66.13L429.12 65.40L429.38 64.77L429.63 64.03L429.88 63.68L430.14 63.28L430.39 62.72L430.64 61.87L430.90 61.65L431.15 61.09L431.40 60.16L431.66 59.50L431.91 59.41L432.17 58.97L432.42 58.30L432.67 58.00L432.93 57.24L433.18 56.80L433.43 56.09L433.69 55.83L433.94 55.74L434.19 54.84L434.45 54.47L434.70 54.03L434.95 53.95L435.21 53.66L435.46 53.28L435.71 53.17L435.97 52.75L436.22 52.44L436.47 52.14L436.73 51.83L436.98 51.33L437.23 51.12L437.49 51.23L437.74 50.78L438.00 50.73L438.25 50.71L438.50 50.54L438.76 50.20L439.01 50.10L439.26 49.93L439.52 50.17L439.77 50.14L440.02 49.75L440.28 49.80L440.53 49.72L440.78 50.01L441.04 49.84L441.29 50.22L441.54 49.92L441.80 50.21L442.05 50.29L442.30 50.57L442.56 50.56L442.81 50.81L443.06 50.75L443.32 50.56L443.57 50.93L443.82 51.37L444.08 51.33L444.33 51.75L444.59 51.66L444.84 52.23L445.09 52.34L445.35 52.96L445.60 52.73L445.85 53.22L446.11 53.79L446.36 53.91L446.61 54.31L446.87 54.60L447.12 54.85L447.37 55.39L447.50 55.93" fill="none" stroke="#f0403c" stroke-width="1.05" stroke-linejoin="round"/>
<path d="M257.40 79.36L257.65 80.03L257.91 80.93L258.16 81.49L258.41 82.40L258.67 83.12L258.92 83.99L259.17 84.61L259.43 85.55L259.68 86.23L259.93 87.08L260.19 87.73L260.44 88.46L260.70 89.29L260.95 90.08L261.20 90.66L261.46 91.52L261.71 92.23L261.96 92.75L262.22 93.55L262.47 94.26L262.72 95.00L262.98 95.60L263.23 96.13L263.48 96.86L263.74 97.50L263.99 98.12L264.24 98.85L264.50 99.30L264.75 99.86L265.00 100.50L265.26 101.09L265.51 101.70L265.76 102.15L266.02 102.59L266.27 103.25L266.52 103.63L266.78 104.15L267.03 104.55L267.29 104.93L267.54 105.46L267.79 105.89L268.05 106.14L268.30 106.57L268.55 106.90L268.81 107.19L269.06 107.52L269.31 108.00L269.57 108.26L269.82 108.40L270.07 108.73L270.33 108.79L270.58 109.20L270.83 109.30L271.09 109.53L271.34 109.55L271.59 109.70L271.85 109.80L272.10 110.04L272.35 109.98L272.61 110.05L272.86 110.19L273.11 110.18L273.37 110.05L273.62 110.00L273.88 110.07L274.13 109.83L274.38 109.81L274.64 109.82L274.89 109.70L275.14 109.39L275.40 109.18L275.65 109.16L275.90 108.92L276.16 108.60L276.41 108.42L276.66 108.05L276.92 107.92L277.17 107.58L277.42 107.30L277.68 106.82L277.93 106.60L278.18 106.16L278.44 105.80L278.69 105.35L278.94 105.00L279.20 104.55L279.45 104.10L279.71 103.49L279.96 103.05L280.21 102.50L280.47 102.06L280.72 101.55L280.97 100.91L281.23 100.49L281.48 99.87L281.73 99.28L281.99 98.70L282.24 98.17L282.49 97.46L282.75 96.70L283.00 96.07L283.25 95.54L283.51 94.78L283.76 94.20L284.01 93.45L284.27 92.72L284.52 92.10L284.77 91.25L285.03 90.55L285.28 89.82L285.53 89.11L285.79 88.48L286.04 87.71L286.30 86.95L286.55 86.15L286.80 85.23L287.06 84.53L287.31 83.81L287.56 83.13L287.82 82.22L288.07 81.49L288.32 80.78L288.58 79.87L288.83 79.19L289.08 78.37L289.34 77.57L289.59 76.82L289.84 76.00L290.10 75.14L290.35 74.55L290.60 73.80L290.86 73.00L291.11 72.12L291.36 71.43L291.62 70.71L291.87 69.79L292.12 69.22L292.38 68.32L292.63 67.80L292.89 66.91L293.14 66.37L293.39 65.49L293.65 64.87L293.90 64.25L294.15 63.61L294.41 62.88L294.66 62.26L294.91 61.51L295.17 60.96L295.42 60.25L295.67 59.77L295.93 59.14L296.18 58.46L296.43 57.99L296.69 57.26L296.94 56.93L297.19 56.35L297.45 55.75L297.70 55.33L297.95 54.88L298.21 54.38L298.46 53.99L298.72 53.45L298.97 53.01L299.22 52.62L299.48 52.22L299.73 51.90L299.98 51.63L300.24 51.33L300.49 50.96L300.74 50.70L301.00 50.48L301.25 50.15L301.50 49.77L301.76 49.69L302.01 49.34L302.26 49.33L302.52 49.24L302.77 48.98L303.02 48.97L303.28 48.65L303.53 48.80L303.78 48.55L304.04 48.67L304.29 48.52L304.42 48.54L304.67 48.49L304.92 48.49L305.18 48.71L305.43 48.78L305.69 48.71L305.94 48.94L306.19 48.97L306.45 49.27L306.70 49.25L306.95 49.54L307.21 49.81L307.46 49.94L307.71 50.20L307.97 50.49L308.22 50.73L308.47 51.05L308.73 51.21L308.98 51.70L309.23 51.94L309.49 52.40L309.74 52.72L309.99 53.12L310.25 53.58L310.50 53.80L310.75 54.42L311.01 54.73L311.26 55.33L311.52 55.67L311.77 56.23L312.02 56.66L312.28 57.35L312.53 57.76L312.78 58.36L313.04 59.01L313.29 59.48L313.54 60.20L313.80 60.71L314.05 61.43L314.30 62.01L314.56 62.70L314.81 63.28L315.06 63.84L315.32 64.56L315.57 65.33L315.82 66.01L316.08 66.54L316.33 67.25L316.58 67.95L316.84 68.76L317.09 69.37L317.34 70.22L317.60 70.86L317.85 71.72L318.11 72.32L318.36 73.23L318.61 73.84L318.87 74.52L319.12 75.31L319.37 76.22L319.63 76.83L319.88 77.61L320.13 78.55L320.39 79.17L320.64 79.99L320.89 80.73L321.15 81.47L321.40 82.33L321.65 82.89L321.91 83.72L322.16 84.49L322.41 85.30L322.67 86.05L322.92 86.62L323.17 87.38L323.43 88.14L323.68 88.89L323.94 89.71L324.19 90.42L324.44 91.17L324.70 91.74L324.95 92.44L325.20 93.05L325.46 93.91L325.71 94.57L325.96 95.24L326.22 95.83L326.47 96.50L326.72 97.04L326.98 97.72L327.23 98.20L327.48 98.89L327.74 99.47L327.99 100.00L328.24 100.60L328.50 101.10L328.75 101.52L329.00 101.98L329.26 102.54L329.51 102.99L329.76 103.62L330.02 103.98L330.27 104.47L330.53 104.93L330.78 105.30L331.03 105.71L331.29 106.00L331.54 106.40L331.79 106.79L332.05 106.98L332.30 107.35L332.55 107.69L332.81 107.78L333.06 107.99L333.31 108.32L333.57 108.63L333.82 108.73L334.07 108.83L334.33 109.18L334.58 109.19L334.83 109.30L335.09 109.31L335.34 109.48L335.59 109.67L335.85 109.58L336.10 109.69L336.29 109.73L336.54 109.50L336.80 109.64L337.05 109.46L337.31 109.47L337.56 109.47L337.81 109.24L338.07 109.20L338.32 108.95L338.57 108.85L338.83 108.70L339.08 108.45L339.33 108.17L339.59 108.03L339.84 107.62L340.09 107.39L340.35 107.20L340.60 106.81L340.85 106.38L341.11 106.17L341.36 105.85L341.61 105.28L341.87 105.06L342.12 104.42L342.37 104.21L342.63 103.67L342.88 103.12L343.14 102.61L343.39 102.17L343.64 101.65L343.90 101.14L344.15 100.60L344.40 99.94L344.66 99.40L344.91 98.79L345.16 98.35L345.42 97.58L345.67 97.08L345.92 96.31L346.18 95.80L346.43 95.09L346.68 94.44L346.94 93.82L347.19 93.03L347.44 92.43L347.70 91.78L347.95 91.02L348.20 90.27L348.46 89.56L348.71 88.88L348.96 87.93L349.22 87.42L349.47 86.54L349.73 85.89L349.98 84.93L350.23 84.22L350.49 83.52L350.74 82.75L350.99 82.07L351.25 81.14L351.50 80.35L351.75 79.67L352.01 78.78L352.26 78.19L352.51 77.25L352.77 76.42L353.02 75.80L353.27 74.93L353.53 74.33L353.78 73.37L354.03 72.71L354.29 71.97L354.54 71.20L354.79 70.35L355.05 69.72L355.30 68.89L355.55 68.14L355.81 67.63L356.06 66.76L356.32 66.02L356.57 65.31L356.82 64.82L357.08 64.15L357.33 63.45L357.58 62.81L357.84 62.04L358.09 61.48L358.34 60.89L358.60 60.16L358.85 59.68L359.10 59.11L359.36 58.47L359.61 57.94L359.86 57.25L360.12 56.80L360.37 56.27L360.62 55.78L360.88 55.43L361.13 54.96L361.38 54.30L361.64 53.98L361.89 53.47L362.15 53.17L362.40 52.86L362.65 52.29L362.91 52.00L363.16 51.65L363.41 51.42L363.67 51.15L363.92 50.68L364.17 50.46L364.43 50.26L364.68 50.17L364.93 49.92L365.19 49.70L365.44 49.61L365.69 49.33L365.95 49.30L366.20 49.06L366.45 48.97L366.71 49.06L366.96 48.99L367.21 48.91L367.47 48.79L367.72 48.84L367.97 49.01L368.23 48.95L368.48 48.92L368.74 49.05L368.99 49.24L369.24 49.43L369.50 49.48L369.75 49.59L370.00 49.91L370.26 49.99L370.51 50.20L370.76 50.52L371.02 50.76L371.27 51.12L371.52 51.31L371.78 51.67L372.03 51.95L372.28 52.35L372.54 52.77L372.79 52.96L373.04 53.54L373.30 53.96L373.55 54.26L373.80 54.62L374.06 55.19L374.31 55.72L374.56 56.10L374.82 56.60L375.07 57.17L375.33 57.83L375.58 58.31L375.83 58.89L376.09 59.44L376.34 60.05L376.59 60.59L376.85 61.22L377.10 61.75L377.35 62.60L377.61 63.05L377.86 63.86L378.11 64.48L378.37 65.19L378.62 65.82L378.87 66.52L379.13 67.17L379.38 67.81L379.63 68.66L379.89 69.38L380.14 70.04L380.39 70.92L380.65 71.66L380.90 72.27L381.16 73.04L381.41 73.74L381.66 74.62L381.92 75.25L382.17 76.04L382.42 76.96L382.68 77.54L382.93 78.48L383.18 79.17L383.44 79.85L383.69 80.76L383.94 81.48L384.20 82.29L384.45 82.96L384.70 83.70L384.96 84.41L385.21 85.17L385.46 86.01L385.72 86.73L385.97 87.39L386.22 88.16L386.48 88.96L386.73 89.58L386.98 90.29L387.24 91.16L387.49 91.72L387.75 92.50L388.00 93.31L388.25 93.78L388.51 94.52L388.76 95.14L389.01 95.93L389.27 96.50L389.52 97.02L389.77 97.80L390.03 98.44L390.28 99.00L390.53 99.44L390.79 100.19L391.04 100.67L391.29 101.14L391.55 101.59L391.80 102.21L392.05 102.60L392.31 103.09L392.56 103.68L392.81 104.16L393.07 104.56L393.32 104.94L393.57 105.43L393.83 105.82L394.08 105.99L394.34 106.51L394.59 106.86L394.84 107.13L395.10 107.38L395.35 107.75L395.60 107.83L395.86 108.28L396.11 108.42L396.36 108.64L396.62 108.84L396.87 108.96L397.12 109.07L397.38 109.19L397.63 109.28L397.88 109.34L398.14 109.61L398.39 109.69L398.64 109.66L398.90 109.58L398.96 109.61L399.21 109.70L399.47 109.59L399.72 109.52L399.98 109.55L400.23 109.34L400.48 109.19L400.74 109.14L400.99 109.12L401.24 108.98L401.50 108.62L401.75 108.55L402.00 108.18L402.26 108.08L402.51 107.70L402.76 107.45L403.02 107.30L403.27 106.83L403.52 106.61L403.78 106.23L404.03 106.02L404.28 105.60L404.54 105.09L404.79 104.85L405.04 104.35L405.30 103.80L405.55 103.37L405.80 103.03L406.06 102.58L406.31 101.86L406.57 101.48L406.82 100.86L407.07 100.45L407.33 99.72L407.58 99.33L407.83 98.71L408.09 98.14L408.34 97.50L408.59 96.93L408.85 96.34L409.10 95.52L409.35 94.94L409.61 94.24L409.86 93.64L410.11 93.00L410.37 92.26L410.62 91.66L410.87 90.77L411.13 90.10L411.38 89.38L411.63 88.64L411.89 88.03L412.14 87.32L412.39 86.50L412.65 85.83L412.90 85.00L413.16 84.30L413.41 83.41L413.66 82.72L413.92 81.89L414.17 81.29L414.42 80.50L414.68 79.77L414.93 79.01L415.18 78.16L415.44 77.29L415.69 76.56L415.94 75.87L416.20 75.11L416.45 74.35L416.70 73.44L416.96 72.69L417.21 72.08L417.46 71.17L417.72 70.52L417.97 69.76L418.22 69.11L418.48 68.20L418.73 67.63L418.99 66.82L419.24 66.18L419.49 65.35L419.75 64.77L420.00 64.11L420.25 63.41L420.51 62.76L420.76 62.06L421.01 61.38L421.27 60.78L421.52 60.01L421.77 59.52L422.03 58.79L422.28 58.27L422.53 57.68L422.79 57.02L423.04 56.49L423.29 56.06L423.55 55.51L423.80 54.95L424.05 54.49L424.31 53.93L424.56 53.48L424.81 53.00L425.07 52.64L425.32 52.04L425.58 51.81L425.83 51.22L426.08 50.91L426.34 50.70L426.59 50.18L426.84 49.88L427.10 49.52L427.35 49.38L427.60 48.95L427.86 48.74L428.11 48.48L428.36 48.23L428.62 48.10L428.87 47.87L429.12 47.84L429.38 47.57L429.63 47.50L429.88 47.22L430.14 47.32L430.39 47.19L430.64 47.06L430.90 47.08L431.15 46.93L431.28 46.96L431.53 47.11L431.79 47.08L432.04 47.23L432.29 47.25L432.55 47.39L432.80 47.47L433.05 47.42L433.31 47.73L433.56 47.85L433.81 47.91L434.07 48.09L434.32 48.35L434.57 48.70L434.83 48.85L435.08 49.15L435.33 49.42L435.59 49.76L435.84 50.03L436.09 50.28L436.35 50.85L436.60 51.12L436.85 51.38L437.11 51.82L437.36 52.42L437.61 52.86L437.87 53.20L438.12 53.63L438.38 54.13L438.63 54.60L438.88 55.15L439.14 55.70L439.39 56.12L439.64 56.87L439.90 57.25L440.15 57.80L440.40 58.51L440.66 59.05L440.91 59.76L441.16 60.25L441.42 60.97L441.67 61.51L441.92 62.34L442.18 62.86L442.43 63.71L442.68 64.22L442.94 65.00L443.19 65.66L443.44 66.50L443.70 67.07L443.95 67.85L444.20 68.66L444.46 69.20L444.71 70.04L444.97 70.88L445.22 71.49L445.47 72.21L445.73 73.09L445.98 73.91L446.23 74.69L446.49 75.37L446.74 76.07L446.99 76.80L447.25 77.67L447.50 78.39" fill="none" stroke="#7f00ff" stroke-width="1.20" stroke-linejoin="round"/>
</g>
<rect x="266.60" y="7.40" width="61" height="21" fill="#fff" stroke="#c8c8c8" stroke-width="0.7"/>
<line x1="267.20" y1="13.10" x2="285.20" y2="13.10" stroke="#ff8a8a" stroke-width="1.60"/>
<text x="287.60" y="15.80" class="lg">Flat cutter</text>
<line x1="267.20" y1="22.80" x2="285.20" y2="22.80" stroke="#9a4dff" stroke-width="1.30"/>
<text x="287.60" y="25.50" class="lg">Dome cutter</text>
</g>
<g>
<rect x="490.70" y="3.30" width="190.00" height="151.90" fill="none" stroke="#555" stroke-width="1.2"/>
<path d="M522.37 155.20V152.60M554.03 155.20V152.60M585.70 155.20V152.60M617.37 155.20V152.60M649.03 155.20V152.60M490.70 140.01H493.30M490.70 124.82H493.30M490.70 109.63H493.30M490.70 94.44H493.30M490.70 79.25H493.30M490.70 64.06H493.30M490.70 48.87H493.30M490.70 33.68H493.30M490.70 18.49H493.30" stroke="#555" stroke-width="0.8" fill="none"/>
<text transform="translate(490.70 163.90) scale(1 1.10)" class="tk" text-anchor="middle">0.0</text>
<text transform="translate(522.37 163.90) scale(1 1.10)" class="tk" text-anchor="middle">0.5</text>
<text transform="translate(554.03 163.90) scale(1 1.10)" class="tk" text-anchor="middle">1.0</text>
<text transform="translate(585.70 163.90) scale(1 1.10)" class="tk" text-anchor="middle">1.5</text>
<text transform="translate(617.37 163.90) scale(1 1.10)" class="tk" text-anchor="middle">2.0</text>
<text transform="translate(649.03 163.90) scale(1 1.10)" class="tk" text-anchor="middle">2.5</text>
<text transform="translate(680.70 163.90) scale(1 1.10)" class="tk" text-anchor="middle">3.0</text>
<text transform="translate(487.20 157.80) scale(1 1.10)" class="tk" text-anchor="end">-0.5</text>
<text transform="translate(487.20 142.61) scale(1 1.10)" class="tk" text-anchor="end">-0.4</text>
<text transform="translate(487.20 127.42) scale(1 1.10)" class="tk" text-anchor="end">-0.3</text>
<text transform="translate(487.20 112.23) scale(1 1.10)" class="tk" text-anchor="end">-0.2</text>
<text transform="translate(487.20 97.04) scale(1 1.10)" class="tk" text-anchor="end">-0.1</text>
<text transform="translate(487.20 81.85) scale(1 1.10)" class="tk" text-anchor="end">0.0</text>
<text transform="translate(487.20 66.66) scale(1 1.10)" class="tk" text-anchor="end">0.1</text>
<text transform="translate(487.20 51.47) scale(1 1.10)" class="tk" text-anchor="end">0.2</text>
<text transform="translate(487.20 36.28) scale(1 1.10)" class="tk" text-anchor="end">0.3</text>
<text transform="translate(487.20 21.09) scale(1 1.10)" class="tk" text-anchor="end">0.4</text>
<text transform="translate(487.20 5.90) scale(1 1.10)" class="tk" text-anchor="end">0.5</text>
<text x="585.70" y="176.80" class="al" text-anchor="middle">Time (s)</text>
<text transform="translate(473.60 79.25) rotate(-90)" class="al" text-anchor="middle">Linear velocity (m/s)</text>
<g clip-path="url(#c02)">
<path d="M490.70 79.34L490.95 148.43L491.21 148.27L491.46 148.10L491.71 147.91L491.97 147.87L492.22 147.73L492.47 147.43L492.73 147.20L492.98 147.23L493.23 146.83L493.49 146.39L493.74 146.11L493.99 145.92L494.25 145.52L494.50 145.12L494.75 144.59L495.01 144.23L495.26 143.88L495.51 143.30L495.77 143.06L496.02 142.59L496.27 142.38L496.53 141.72L496.78 141.49L497.03 141.12L497.29 140.49L497.54 140.24L497.79 139.78L498.05 139.05L498.30 138.78L498.55 138.07L498.81 137.72L499.06 137.18L499.31 136.57L499.57 136.07L499.82 135.65L500.07 134.93L500.33 134.29L500.58 133.84L500.83 133.13L501.09 132.57L501.34 131.71L501.59 131.03L501.85 130.44L502.10 129.61L502.35 128.84L502.61 127.98L502.86 127.11L503.11 126.57L503.37 125.49L503.62 124.88L503.87 123.89L504.13 123.20L504.38 122.17L504.63 121.45L504.89 120.45L505.14 119.47L505.39 118.73L505.65 117.82L505.90 116.92L506.15 115.96L506.41 115.00L506.66 114.23L506.91 113.18L507.17 112.47L507.42 111.58L507.67 110.63L507.93 109.90L508.18 108.86L508.43 108.08L508.69 107.36L508.94 106.39L509.19 105.63L509.45 104.74L509.70 103.98L509.95 103.13L510.21 102.19L510.46 101.36L510.71 100.30L510.97 99.62L511.22 98.82L511.47 97.86L511.73 97.08L511.98 96.22L512.23 95.51L512.49 94.45L512.74 93.61L512.99 92.64L513.25 91.92L513.50 91.17L513.75 90.47L514.01 89.71L514.26 88.82L514.51 88.35L514.77 87.51L515.02 87.14L515.27 86.39L515.53 85.95L515.78 85.35L516.03 85.11L516.29 84.65L516.54 84.02L516.79 83.74L517.05 83.30L517.30 83.05L517.55 82.78L517.81 82.42L518.06 82.44L518.31 82.05L518.57 81.87L518.82 81.48L519.07 81.04L519.33 80.68L519.58 80.53L519.83 80.55L520.09 80.39L520.34 80.16L520.59 80.07L520.85 80.08L521.10 80.12L521.35 79.97L521.61 80.14L521.86 80.08L522.11 80.23L522.37 80.39L522.62 80.47L522.87 80.72L523.13 81.32L523.38 83.50L523.63 85.95L523.89 87.84L524.14 89.67L524.39 90.97L524.65 91.22L524.90 90.41L525.15 89.12L525.41 88.01L525.66 87.43L525.91 87.20L526.17 87.03L526.42 86.98L526.67 86.94L526.93 86.98L527.18 86.86L527.43 87.04L527.69 87.04L527.94 87.31L528.19 87.26L528.45 87.59L528.70 87.61L528.95 87.80L529.21 87.89L529.46 87.99L529.71 88.22L529.97 88.27L530.22 88.46L530.47 88.81L530.73 89.00L530.98 89.32L531.23 89.28L531.49 89.65L531.74 89.83L531.99 90.06L532.25 90.28L532.50 90.40L532.75 90.57L533.01 90.69L533.26 90.85L533.51 90.85L533.77 91.02L534.02 91.12L534.27 91.00L534.53 91.24L534.78 91.16L535.03 91.21L535.29 90.99L535.54 91.01L535.79 90.91L536.05 90.81L536.30 90.75L536.55 90.77L536.81 90.89L537.06 90.62L537.31 90.70L537.57 90.50L537.82 90.36L538.07 90.31L538.33 90.37L538.58 90.23L538.83 90.15L539.09 90.02L539.34 89.87L539.59 89.82L539.85 89.81L540.10 89.41L540.35 89.35L540.61 88.95L540.86 88.65L541.11 88.37L541.37 87.95L541.62 87.83L541.87 87.26L542.13 86.78L542.38 86.29L542.63 85.84L542.89 85.40L543.14 84.97L543.39 84.51L543.65 84.10L543.90 83.53L544.15 82.79L544.41 82.35L544.66 81.89L544.91 81.09L545.17 80.75L545.42 80.05L545.67 79.61L545.93 78.92L546.18 78.42L546.43 77.76L546.69 76.99L546.94 76.51L547.19 75.82L547.45 74.99L547.70 74.21L547.95 73.60L548.21 72.64L548.46 71.98L548.71 71.02L548.97 70.17L549.22 69.32L549.47 68.37L549.73 67.58L549.98 66.70L550.23 65.78L550.49 65.05L550.74 64.15L550.99 63.16L551.25 62.34L551.50 61.72L551.75 60.64L552.01 59.88L552.26 59.23L552.51 58.13L552.77 57.36L553.02 56.59L553.27 55.46L553.53 54.57L553.78 53.90L554.03 52.90L554.29 51.84L554.54 50.97L554.79 49.97L555.05 49.23L555.30 48.33L555.55 47.15L555.81 46.38L556.06 45.38L556.31 44.58L556.57 43.82L556.82 42.98L557.07 42.02L557.33 41.28L557.58 40.56L557.83 39.83L558.09 39.24L558.34 38.63L558.59 37.89L558.85 37.32L559.10 36.61L559.35 36.12L559.61 35.71L559.86 35.01L560.11 34.48L560.37 33.96L560.62 33.43L560.87 33.00L561.13 32.36L561.38 31.92L561.63 31.66L561.89 31.15L562.14 30.92L562.39 30.34L562.65 30.23L562.90 29.87L563.15 29.63L563.41 29.50L563.66 29.04L563.91 28.92L564.17 28.62L564.42 28.45L564.67 28.41L564.93 28.13L565.18 28.13L565.43 27.81L565.69 28.06L565.94 28.05L566.19 28.00L566.45 27.91L566.70 28.14L566.95 28.11L567.21 28.31L567.46 28.36L567.71 28.55L567.97 28.77L568.22 28.99L568.47 29.41L568.73 29.47L568.98 29.88L569.23 29.88L569.49 30.15L569.74 30.41L569.99 30.92L570.25 31.16L570.50 31.23L570.75 31.85L571.01 32.01L571.26 32.43L571.51 32.96L571.77 33.31L572.02 34.03L572.27 34.36L572.53 34.96L572.78 35.52L573.03 36.01L573.29 36.73L573.54 37.42L573.79 37.93L574.05 38.41L574.30 39.27L574.55 39.88L574.81 40.49L575.06 41.21L575.31 41.77L575.57 42.46L575.82 43.20L576.07 43.74L576.33 44.56L576.58 45.11L576.83 45.79L577.09 46.64L577.34 47.19L577.59 47.72L577.85 48.48L578.10 49.17L578.35 49.72L578.61 50.26L578.86 50.68L579.11 51.30L579.37 51.84L579.62 52.23L579.87 52.96L580.13 53.45L580.38 54.00L580.63 54.62L580.89 55.00L581.14 55.62L581.39 56.46L581.65 56.88L581.90 57.52L582.15 58.14L582.41 58.92L582.66 59.73L582.91 60.35L583.17 61.24L583.42 62.09L583.67 62.96L583.93 64.10L584.18 65.15L584.43 66.19L584.69 67.36L584.94 69.13L585.19 71.38L585.45 73.56L585.70 75.28L585.95 76.50L586.21 77.36L586.46 78.21L586.71 78.84L586.97 79.45L587.22 80.24L587.47 80.73L587.73 80.89L587.98 81.17L588.23 81.42L588.49 81.45L588.74 81.40L588.99 80.96L589.25 80.76L589.50 80.51L589.75 80.14L590.01 77.75L590.26 70.63L590.51 63.14L590.77 59.58L591.02 59.88L591.27 60.36L591.53 61.19L591.78 61.83L592.03 62.74L592.29 63.72L592.54 64.51L592.79 65.17L593.05 65.43L593.30 65.63L593.55 65.60L593.81 65.22L594.06 65.30L594.31 64.81L594.57 64.58L594.82 64.30L595.07 63.89L595.33 63.41L595.58 63.11L595.83 62.66L596.09 61.97L596.34 61.42L596.59 60.99L596.85 60.32L597.10 60.00L597.35 59.40L597.61 58.84L597.86 58.15L598.11 57.72L598.37 57.07L598.62 56.57L598.87 55.97L599.13 55.48L599.38 55.19L599.63 54.54L599.89 54.25L600.14 53.60L600.39 53.05L600.65 52.59L600.90 51.85L601.15 51.20L601.41 50.69L601.66 50.19L601.91 49.53L602.17 49.01L602.42 48.60L602.67 47.95L602.93 47.41L603.18 46.86L603.43 46.45L603.69 46.12L603.94 45.41L604.19 45.19L604.45 44.77L604.70 44.34L604.95 43.97L605.21 43.62L605.46 43.15L605.71 42.95L605.97 42.75L606.22 42.35L606.47 41.95L606.73 41.63L606.98 41.46L607.23 40.90L607.49 40.67L607.74 40.62L607.99 40.26L608.25 40.05L608.50 39.71L608.75 39.32L609.01 39.24L609.26 39.05L609.51 38.68L609.77 38.60L610.02 38.55L610.27 38.11L610.53 37.95L610.78 37.81L611.03 37.82L611.29 37.73L611.54 37.36L611.79 37.44L612.05 37.16L612.30 37.20L612.55 37.26L612.81 37.12L613.06 37.34L613.31 37.63L613.57 37.70L613.82 38.09L614.07 38.28L614.33 38.73L614.58 38.88L614.83 39.32L615.09 39.40L615.34 39.81L615.59 40.10L615.85 40.56L616.10 40.97L616.35 41.36L616.61 41.87L616.86 42.43L617.11 42.90L617.37 43.32L617.62 43.99L617.87 44.54L618.13 45.01L618.38 45.60L618.63 46.10L618.89 46.89L619.14 47.34L619.39 47.92L619.65 48.72L619.90 49.14L620.15 49.71L620.41 50.37L620.66 51.00L620.91 51.63L621.17 52.18L621.42 52.90L621.67 53.34L621.93 54.27L622.18 54.79L622.43 55.47L622.69 56.15L622.94 56.80L623.19 57.67L623.45 58.27L623.70 58.88L623.95 59.68L624.21 60.45L624.46 61.14L624.71 61.80L624.97 62.77L625.22 63.29L625.47 64.20L625.73 64.85L625.98 65.61L626.23 66.39L626.49 66.93L626.74 67.79L626.99 68.50L627.25 69.21L627.50 69.79L627.75 70.49L628.01 71.35L628.26 72.06L628.51 72.77L628.77 73.45L629.02 74.27L629.27 75.12L629.53 75.93L629.78 76.68L630.03 77.22L630.29 78.09L630.54 78.89L630.79 79.75L631.05 80.43L631.30 81.25L631.55 81.95L631.81 82.49L632.06 83.48L632.31 84.05L632.57 84.75L632.82 85.31L633.07 86.15L633.33 86.81L633.58 87.22L633.83 87.84L634.09 88.27L634.34 89.01L634.59 89.47L634.85 89.83L635.10 90.48L635.35 90.87L635.61 91.45L635.86 91.87L636.11 92.09L636.37 92.56L636.62 93.16L636.87 93.32L637.13 93.73L637.38 94.34L637.63 94.65L637.89 94.81L638.14 95.14L638.39 95.33L638.65 95.62L638.90 95.81L639.15 96.20L639.41 96.43L639.66 96.51L639.91 96.93L640.17 97.03L640.42 97.26L640.67 97.47L640.93 97.50L641.18 97.82L641.43 97.83L641.69 97.96L641.94 97.92L642.19 98.00L642.45 98.07L642.70 98.14L642.95 98.02L643.21 97.99L643.46 97.98L643.71 97.78L643.97 97.56L644.22 97.62L644.47 97.61L644.73 97.21L644.98 97.20L645.23 97.12L645.49 96.93L645.74 96.67L645.99 96.65L646.25 96.38L646.50 96.23L646.75 96.15L647.01 95.92L647.26 95.83L647.51 95.74L647.77 95.28L648.02 95.24L648.27 94.74L648.53 94.54L648.78 93.89L649.03 93.11L649.29 92.10L649.54 90.98L649.79 89.70L650.05 89.00L650.30 88.11L650.55 87.75L650.81 87.02L651.06 86.61L651.31 86.10L651.57 85.83L651.82 85.36L652.07 85.08L652.33 84.67L652.58 84.46L652.83 84.38L653.09 84.09L653.34 83.86L653.59 83.73L653.85 83.63L654.10 83.25L654.35 83.02L654.61 82.90L654.86 82.74L655.11 82.69L655.37 82.69L655.62 82.62L655.87 82.36L656.13 82.35L656.38 82.48L656.63 84.34L656.89 87.26L657.14 90.46L657.39 92.53L657.65 92.90L657.90 92.66L658.15 92.12L658.41 91.57L658.66 90.86L658.91 89.92L659.17 89.09L659.42 88.16L659.67 87.42L659.93 86.69L660.18 86.19L660.43 85.88L660.69 86.06L660.94 86.07L661.19 86.18L661.45 86.48L661.70 86.58L661.95 86.99L662.21 87.46L662.46 87.99L662.71 88.37L662.97 88.74L663.22 89.23L663.47 89.75L663.73 90.48L663.98 91.03L664.23 91.30L664.49 91.99L664.74 92.28L664.99 93.07L665.25 93.60L665.50 94.13L665.75 94.75L666.01 95.31L666.26 96.18L666.51 96.64L666.77 97.31L667.02 98.14L667.27 98.76L667.53 99.42L667.78 100.12L668.03 100.67L668.29 101.37L668.54 102.35L668.79 102.99L669.05 103.70L669.30 104.43L669.55 105.09L669.81 105.83L670.06 106.72L670.31 107.33L670.57 108.11L670.82 108.99L671.07 109.86L671.33 110.75L671.58 111.41L671.83 112.16L672.09 113.16L672.34 113.76L672.59 114.62L672.85 115.42L673.10 116.09L673.35 116.91L673.61 117.67L673.86 118.70L674.11 119.36L674.37 120.23L674.62 120.94L674.87 121.73L675.13 122.62L675.38 123.25L675.63 123.94L675.89 124.89L676.14 125.48L676.39 126.40L676.65 127.14L676.90 127.94L677.15 128.81L677.41 129.62L677.66 130.44L677.91 131.17L678.17 131.96L678.42 132.78L678.67 133.39L678.93 134.17L679.18 134.85L679.43 135.77L679.69 136.43L679.94 137.26L680.19 138.11L680.45 138.89L680.70 139.79" fill="none" stroke="#f0403c" stroke-width="1.30" stroke-linejoin="round"/>
<path d="M490.70 79.26L490.95 148.29L491.21 148.23L491.46 148.13L491.71 148.19L491.97 147.95L492.22 147.81L492.47 147.52L492.73 147.40L492.98 146.97L493.23 146.67L493.49 146.59L493.74 146.01L493.99 145.94L494.25 145.53L494.50 145.13L494.75 144.52L495.01 144.17L495.26 143.96L495.51 143.43L495.77 143.09L496.02 142.53L496.27 142.13L496.53 141.79L496.78 141.41L497.03 140.88L497.29 140.27L497.54 140.00L497.79 139.28L498.05 138.85L498.30 138.36L498.55 137.73L498.81 137.20L499.06 136.77L499.31 136.05L499.57 135.48L499.82 135.01L500.07 134.18L500.33 133.73L500.58 132.92L500.83 132.23L501.09 131.70L501.34 130.73L501.59 130.23L501.85 129.45L502.10 128.69L502.35 127.65L502.61 126.89L502.86 126.22L503.11 125.28L503.37 124.29L503.62 123.63L503.87 122.79L504.13 121.96L504.38 120.82L504.63 119.95L504.89 119.23L505.14 118.10L505.39 117.24L505.65 116.38L505.90 115.46L506.15 114.58L506.41 113.77L506.66 112.80L506.91 111.90L507.17 110.98L507.42 109.98L507.67 109.17L507.93 108.45L508.18 107.57L508.43 106.67L508.69 105.75L508.94 104.99L509.19 104.06L509.45 103.12L509.70 102.29L509.95 101.33L510.21 100.58L510.46 99.64L510.71 98.93L510.97 98.10L511.22 97.32L511.47 96.46L511.73 95.42L511.98 94.80L512.23 93.98L512.49 93.15L512.74 92.19L512.99 91.35L513.25 90.54L513.50 89.64L513.75 89.13L514.01 88.43L514.26 87.57L514.51 87.19L514.77 86.45L515.02 85.96L515.27 85.72L515.53 85.33L515.78 84.76L516.03 84.62L516.29 84.12L516.54 83.74L516.79 83.49L517.05 83.17L517.30 83.13L517.55 82.80L517.81 82.80L518.06 82.63L518.31 82.40L518.57 82.37L518.82 82.21L519.07 81.21L519.33 79.39L519.58 73.06L519.83 78.79L520.09 80.74L520.34 81.08L520.59 81.00L520.85 81.13L521.10 81.14L521.35 81.11L521.61 81.09L521.86 81.31L522.11 81.36L522.37 81.38L522.62 81.45L522.87 81.33L523.13 81.90L523.38 84.37L523.63 86.72L523.89 88.86L524.14 90.94L524.39 92.19L524.65 92.62L524.90 91.50L525.15 90.10L525.41 88.79L525.66 88.32L525.91 87.98L526.17 87.76L526.42 87.56L526.67 87.72L526.93 87.73L527.18 87.67L527.43 87.82L527.69 87.76L527.94 88.05L528.19 88.03L528.45 88.31L528.70 88.22L528.95 88.46L529.21 88.55L529.46 88.65L529.71 88.89L529.97 89.26L530.22 89.27L530.47 89.41L530.73 89.77L530.98 90.00L531.23 90.07L531.49 90.44L531.74 90.57L531.99 90.70L532.25 90.99L532.50 91.13L532.75 91.22L533.01 91.25L533.26 91.45L533.51 91.58L533.77 91.74L534.02 91.81L534.27 91.57L534.53 91.71L534.78 91.82L535.03 91.64L535.29 91.70L535.54 91.48L535.79 91.61L536.05 91.32L536.30 91.26L536.55 91.16L536.81 91.02L537.06 91.06L537.31 90.98L537.57 90.65L537.82 90.52L538.07 90.43L538.33 90.25L538.58 90.20L538.83 89.88L539.09 89.86L539.34 89.66L539.59 89.37L539.85 89.27L540.10 89.00L540.35 88.63L540.61 88.39L540.86 88.15L541.11 87.84L541.37 87.47L541.62 86.98L541.87 86.43L542.13 85.89L542.38 85.56L542.63 85.02L542.89 84.58L543.14 83.86L543.39 83.43L543.65 82.70L543.90 82.20L544.15 81.66L544.41 81.19L544.66 80.47L544.91 79.97L545.17 79.50L545.42 78.90L545.67 78.19L545.93 77.51L546.18 77.02L546.43 76.43L546.69 75.70L546.94 75.07L547.19 74.20L547.45 73.51L547.70 72.73L547.95 71.95L548.21 71.31L548.46 70.62L548.71 69.72L548.97 69.10L549.22 68.11L549.47 67.31L549.73 66.64L549.98 65.76L550.23 64.90L550.49 63.99L550.74 63.13L550.99 62.33L551.25 61.52L551.50 60.79L551.75 59.96L552.01 59.22L552.26 58.31L552.51 57.59L552.77 56.81L553.02 55.89L553.27 54.93L553.53 53.94L553.78 53.20L554.03 52.30L554.29 51.17L554.54 50.49L554.79 49.60L555.05 48.48L555.30 47.58L555.55 46.86L555.81 45.91L556.06 44.93L556.31 44.25L556.57 43.49L556.82 42.66L557.07 41.67L557.33 40.92L557.58 40.34L557.83 39.69L558.09 39.11L558.34 38.37L558.59 37.65L558.85 36.98L559.10 36.11L559.35 35.31L559.61 34.59L559.86 34.00L560.11 33.53L560.37 32.87L560.62 32.23L560.87 32.09L561.13 31.76L561.38 31.34L561.63 31.49L561.89 31.32L562.14 31.32L562.39 31.49L562.65 31.67L562.90 31.65L563.15 31.83L563.41 32.09L563.66 32.03L563.91 32.35L564.17 32.42L564.42 32.52L564.67 32.91L564.93 33.07L565.18 33.22L565.43 33.47L565.69 33.73L565.94 34.13L566.19 34.27L566.45 34.67L566.70 35.05L566.95 35.47L567.21 36.03L567.46 36.43L567.71 36.96L567.97 37.39L568.22 37.95L568.47 38.41L568.73 38.70L568.98 39.21L569.23 39.87L569.49 40.42L569.74 40.90L569.99 41.15L570.25 41.79L570.50 42.15L570.75 42.71L571.01 43.40L571.26 43.88L571.51 44.49L571.77 44.99L572.02 45.65L572.27 46.04L572.53 46.68L572.78 47.40L573.03 47.94L573.29 48.31L573.54 48.95L573.79 49.58L574.05 50.24L574.30 50.72L574.55 51.45L574.81 52.00L575.06 52.44L575.31 52.95L575.57 53.50L575.82 54.06L576.07 54.70L576.33 55.27L576.58 55.93L576.83 56.37L577.09 56.95L577.34 57.41L577.59 58.19L577.85 58.59L578.10 59.04L578.35 59.64L578.61 60.32L578.86 60.72L579.11 61.48L579.37 61.89L579.62 62.50L579.87 62.99L580.13 63.62L580.38 64.17L580.63 64.97L580.89 65.65L581.14 66.34L581.39 66.96L581.65 67.66L581.90 68.27L582.15 68.66L582.41 69.10L582.66 69.77L582.91 69.94L583.17 70.06L583.42 70.39L583.67 70.38L583.93 70.28L584.18 70.06L584.43 68.77L584.69 64.51L584.94 66.42L585.19 70.23L585.45 72.48L585.70 73.87L585.95 74.87L586.21 75.70L586.46 76.18L586.71 76.77L586.97 77.16L587.22 77.38L587.47 77.56L587.73 77.82L587.98 78.03L588.23 78.31L588.49 78.41L588.74 78.35L588.99 78.16L589.25 77.45L589.50 76.26L589.75 69.82L590.01 58.96L590.26 51.41L590.51 51.94L590.77 55.44L591.02 59.15L591.27 60.73L591.53 61.27L591.78 61.67L592.03 62.03L592.29 62.26L592.54 62.31L592.79 62.49L593.05 62.40L593.30 62.66L593.55 62.45L593.81 62.09L594.06 62.05L594.31 61.62L594.57 61.25L594.82 60.47L595.07 59.98L595.33 59.25L595.58 58.81L595.83 57.84L596.09 57.25L596.34 56.44L596.59 55.61L596.85 54.74L597.10 53.89L597.35 53.17L597.61 52.28L597.86 51.38L598.11 50.70L598.37 49.92L598.62 49.11L598.87 48.50L599.13 47.68L599.38 47.08L599.63 46.48L599.89 45.76L600.14 45.00L600.39 44.32L600.65 43.37L600.90 42.77L601.15 41.96L601.41 41.21L601.66 40.34L601.91 39.56L602.17 39.07L602.42 38.20L602.67 37.76L602.93 36.98L603.18 36.50L603.43 36.10L603.69 35.79L603.94 35.26L604.19 35.09L604.45 34.73L604.70 34.32L604.95 33.84L605.21 33.53L605.46 33.35L605.71 32.91L605.97 32.61L606.22 32.31L606.47 31.92L606.73 31.92L606.98 31.57L607.23 31.39L607.49 31.26L607.74 31.02L607.99 30.84L608.25 30.97L608.50 30.70L608.75 30.76L609.01 30.87L609.26 30.83L609.51 30.93L609.77 30.88L610.02 31.14L610.27 31.24L610.53 31.21L610.78 31.47L611.03 31.58L611.29 31.65L611.54 31.66L611.79 31.75L612.05 32.18L612.30 32.41L612.55 32.62L612.81 32.99L613.06 33.50L613.31 33.91L613.57 34.44L613.82 35.04L614.07 35.65L614.33 36.35L614.58 36.83L614.83 37.53L615.09 38.26L615.34 39.02L615.59 39.62L615.85 40.31L616.10 41.30L616.35 42.10L616.61 42.77L616.86 43.86L617.11 44.66L617.37 45.43L617.62 46.43L617.87 47.25L618.13 48.31L618.38 49.10L618.63 49.78L618.89 50.75L619.14 51.56L619.39 52.44L619.65 53.27L619.90 53.98L620.15 54.75L620.41 55.52L620.66 56.20L620.91 57.15L621.17 57.86L621.42 58.61L621.67 59.49L621.93 60.15L622.18 61.02L622.43 61.68L622.69 62.40L622.94 63.27L623.19 64.14L623.45 64.68L623.70 65.42L623.95 66.22L624.21 67.13L624.46 67.75L624.71 68.46L624.97 69.20L625.22 69.92L625.47 70.71L625.73 71.39L625.98 72.03L626.23 72.94L626.49 73.51L626.74 74.39L626.99 75.14L627.25 75.77L627.50 76.61L627.75 77.55L628.01 78.33L628.26 79.10L628.51 79.63L628.77 80.54L629.02 81.14L629.27 81.79L629.53 82.45L629.78 83.29L630.03 83.93L630.29 84.37L630.54 85.02L630.79 85.27L631.05 85.68L631.30 86.23L631.55 86.78L631.81 87.08L632.06 87.42L632.31 88.03L632.57 88.35L632.82 88.66L633.07 89.11L633.33 89.51L633.58 89.69L633.83 90.18L634.09 90.51L634.34 90.65L634.59 90.95L634.85 91.14L635.10 91.41L635.35 91.53L635.61 91.84L635.86 92.02L636.11 91.87L636.37 92.12L636.62 91.92L636.87 91.82L637.13 91.89L637.38 91.78L637.63 91.71L637.89 91.60L638.14 91.62L638.39 91.37L638.65 91.37L638.90 91.17L639.15 91.01L639.41 90.88L639.66 90.53L639.91 90.58L640.17 90.30L640.42 89.96L640.67 89.84L640.93 89.88L641.18 89.63L641.43 89.28L641.69 89.15L641.94 89.26L642.19 88.89L642.45 88.81L642.70 88.70L642.95 88.40L643.21 88.38L643.46 88.28L643.71 87.98L643.97 87.96L644.22 87.89L644.47 87.70L644.73 87.40L644.98 87.29L645.23 87.03L645.49 86.90L645.74 86.68L645.99 86.48L646.25 86.33L646.50 85.92L646.75 85.88L647.01 85.55L647.26 85.31L647.51 84.81L647.77 84.55L648.02 84.20L648.27 83.90L648.53 83.41L648.78 82.39L649.03 86.61L649.29 95.75L649.54 95.95L649.79 94.27L650.05 92.06L650.30 89.79L650.55 88.68L650.81 88.13L651.06 87.69L651.31 87.34L651.57 87.14L651.82 86.97L652.07 86.62L652.33 86.37L652.58 86.25L652.83 85.97L653.09 85.85L653.34 85.70L653.59 85.34L653.85 85.12L654.10 84.81L654.35 84.84L654.61 84.43L654.86 84.50L655.11 84.22L655.37 84.38L655.62 84.24L655.87 84.62L656.13 84.99L656.38 85.47L656.63 88.48L656.89 92.61L657.14 95.88L657.39 96.07L657.65 95.69L657.90 94.65L658.15 93.71L658.41 92.13L658.66 90.96L658.91 89.57L659.17 88.45L659.42 87.43L659.67 86.80L659.93 86.93L660.18 86.85L660.43 87.11L660.69 87.50L660.94 87.97L661.19 88.32L661.45 88.97L661.70 89.43L661.95 90.03L662.21 90.80L662.46 91.26L662.71 92.02L662.97 92.66L663.22 93.35L663.47 94.34L663.73 95.20L663.98 96.03L664.23 97.02L664.49 98.03L664.74 99.05L664.99 100.22L665.25 101.20L665.50 101.90L665.75 102.97L666.01 103.86L666.26 105.05L666.51 105.96L666.77 106.96L667.02 108.08L667.27 109.13L667.53 109.91L667.78 110.99L668.03 111.99L668.29 113.27L668.54 114.10L668.79 115.08L669.05 116.06L669.30 116.97L669.55 117.93L669.81 118.95L670.06 120.08L670.31 120.91L670.57 121.79L670.82 122.86L671.07 123.87L671.33 124.96L671.58 125.92L671.83 126.85L672.09 127.75L672.34 128.66L672.59 129.64L672.85 130.64L673.10 131.73L673.35 132.39L673.61 133.41L673.86 134.37L674.11 135.07L674.37 136.03L674.62 136.95L674.87 137.67L675.13 138.38L675.38 139.29L675.63 139.89L675.89 140.59L676.14 141.17L676.39 141.92L676.65 142.39L676.90 143.05L677.15 143.58L677.41 144.15L677.66 144.64L677.91 145.19L678.17 145.79L678.42 146.30L678.67 146.69L678.93 147.29L679.18 147.82L679.43 148.18L679.69 148.59L679.94 149.05L680.19 149.37L680.45 149.62L680.70 149.92" fill="none" stroke="#7f00ff" stroke-width="1.40" stroke-linejoin="round"/>
</g>
<rect x="499.90" y="7.40" width="61" height="21" fill="#fff" stroke="#c8c8c8" stroke-width="0.7"/>
<line x1="500.50" y1="13.10" x2="518.50" y2="13.10" stroke="#ff8a8a" stroke-width="1.60"/>
<text x="520.90" y="15.80" class="lg">Flat cutter</text>
<line x1="500.50" y1="22.80" x2="518.50" y2="22.80" stroke="#9a4dff" stroke-width="1.30"/>
<text x="520.90" y="25.50" class="lg">Dome cutter</text>
</g>
<g>
<rect x="22.90" y="198.30" width="186.40" height="149.20" fill="none" stroke="#555" stroke-width="1.2"/>
<path d="M53.97 347.50V344.90M85.03 347.50V344.90M116.10 347.50V344.90M147.17 347.50V344.90M178.23 347.50V344.90M22.90 310.20H25.50M22.90 272.90H25.50M22.90 235.60H25.50" stroke="#555" stroke-width="0.8" fill="none"/>
<text transform="translate(22.90 356.20) scale(1 1.10)" class="tk" text-anchor="middle">0.0</text>
<text transform="translate(53.97 356.20) scale(1 1.10)" class="tk" text-anchor="middle">0.5</text>
<text transform="translate(85.03 356.20) scale(1 1.10)" class="tk" text-anchor="middle">1.0</text>
<text transform="translate(116.10 356.20) scale(1 1.10)" class="tk" text-anchor="middle">1.5</text>
<text transform="translate(147.17 356.20) scale(1 1.10)" class="tk" text-anchor="middle">2.0</text>
<text transform="translate(178.23 356.20) scale(1 1.10)" class="tk" text-anchor="middle">2.5</text>
<text transform="translate(209.30 356.20) scale(1 1.10)" class="tk" text-anchor="middle">3.0</text>
<text transform="translate(19.40 350.10) scale(1 1.10)" class="tk" text-anchor="end">-40</text>
<text transform="translate(19.40 312.80) scale(1 1.10)" class="tk" text-anchor="end">-20</text>
<text transform="translate(19.40 275.50) scale(1 1.10)" class="tk" text-anchor="end">0</text>
<text transform="translate(19.40 238.20) scale(1 1.10)" class="tk" text-anchor="end">20</text>
<text transform="translate(19.40 200.90) scale(1 1.10)" class="tk" text-anchor="end">40</text>
<text x="116.10" y="369.10" class="al" text-anchor="middle">Time (s)</text>
<text transform="translate(7.70 272.90) rotate(-90)" class="al" text-anchor="middle">Linear acceleration (m/s<tspan dy="-3" font-size="5.5">2</tspan><tspan dy="3">)</tspan></text>
<text x="23.50" y="196.90" class="mu">&#215;10<tspan dy="-2.4" font-size="4.2">3</tspan></text>
<g clip-path="url(#c10)">
<path d="M22.90 259.59L23.35 285.20L23.80 256.88L24.25 285.98L24.70 258.02L25.15 288.42L25.60 259.48L26.05 290.30L26.50 257.95L26.95 289.10L27.40 259.69L27.85 288.93L28.30 257.50L28.75 291.14L29.20 260.12L29.65 287.83L30.10 255.77L30.55 286.83L31.00 259.71L31.45 287.05L31.90 254.01L32.35 288.35L32.80 257.00L33.25 285.47L33.70 255.50L34.15 289.18L34.60 254.82L35.05 288.35L35.50 259.57L35.95 285.79L36.40 253.77L36.85 285.34L37.30 260.50L37.75 287.71L38.20 261.52L38.65 285.29L39.10 261.69L39.55 287.91L40.00 257.50L40.45 285.53L40.90 257.03L41.35 285.45L41.80 260.67L42.25 283.54L42.70 260.72L43.15 286.91L43.60 260.57L44.05 285.63L44.50 259.41L44.95 284.78L45.40 262.06L45.85 285.34L46.30 264.21L46.75 281.87L47.20 264.23L47.65 282.14L48.10 261.97L48.55 281.09L49.00 265.14L49.45 281.04L49.90 261.70L50.35 282.09L50.80 263.87L51.25 280.11L51.70 265.01L52.15 279.77L52.60 264.84L53.05 281.81L53.50 266.60L53.95 280.78L54.40 265.81L54.85 282.32L55.30 265.28L55.75 278.95L56.20 267.06L56.65 278.92L57.10 267.30L57.55 279.05L58.00 266.90L58.45 278.95L58.90 266.92L59.35 278.20L59.80 267.86L60.25 278.65L60.70 268.31L61.15 276.98L61.60 267.29L62.05 278.26L62.50 267.25L62.95 278.39L63.40 267.14L63.85 277.52L64.30 267.13L64.75 278.46L65.20 267.52L65.65 277.52L66.10 266.63L66.55 279.26L67.00 266.16L67.45 279.83L67.90 267.63L68.35 279.22L68.80 265.40L69.25 279.99L69.70 265.85L70.15 279.06L70.60 264.55L71.05 279.02L71.50 265.32L71.95 279.41L72.40 264.73L72.85 280.88L73.30 263.89L73.75 280.79L74.20 263.13L74.65 281.62L75.10 263.29L75.55 280.70L76.00 264.32L76.45 280.96L76.90 261.07L77.35 283.79L77.80 265.07L78.25 286.33L78.70 261.57L79.15 285.15L79.60 263.23L80.05 283.36L80.50 262.34L80.95 284.98L81.40 260.73L81.85 282.91L82.30 260.71L82.75 285.14L83.20 262.66L83.65 283.85L84.10 262.79L84.55 284.88L85.00 260.05L85.45 284.89L85.90 260.08L86.35 284.25L86.80 261.44L87.25 283.36L87.70 258.50L88.15 285.26L88.60 259.93L89.05 286.66L89.50 261.51L89.95 284.85L90.40 257.63L90.85 283.16L91.30 260.51L91.75 284.81L92.20 262.93L92.65 289.54L93.10 259.87L93.55 286.96L94.00 258.63L94.45 284.31L94.90 263.09L95.35 284.90L95.80 259.78L96.25 284.20L96.70 263.63L97.15 284.91L97.60 263.42L98.05 286.47L98.50 259.47L98.95 286.69L99.40 262.71L99.85 287.20L100.30 260.06L100.75 284.17L101.20 258.39L101.65 287.03L102.10 261.41L102.55 283.98L103.00 263.43L103.45 287.33L103.90 261.88L104.35 287.88L104.80 263.51L105.25 283.79L105.70 263.11L106.15 284.76L106.60 261.09L107.05 285.60L107.50 261.95L107.95 289.84L108.40 262.42L108.85 287.13L109.30 262.35L109.75 299.17L110.20 240.13L110.65 301.97L111.10 238.77L111.55 309.77L112.00 245.49L112.45 308.94L112.90 238.58L113.35 304.66L113.80 240.79L114.25 312.55L114.70 241.75L115.15 312.69L115.60 236.38L116.05 306.71L116.50 236.26L116.95 302.59L117.40 238.79L117.85 311.16L118.30 234.98L118.75 306.90L119.20 239.19L119.65 306.47L120.10 241.14L120.55 310.98L121.00 241.75L121.45 298.63L121.90 261.98L122.35 285.96L122.80 262.65L123.25 286.93L123.70 260.22L124.15 285.46L124.60 262.37L125.05 290.06L125.50 259.34L125.95 287.50L126.40 259.37L126.85 284.32L127.30 262.37L127.75 284.19L128.20 263.31L128.65 285.50L129.10 261.40L129.55 287.62L130.00 261.12L130.45 284.91L130.90 262.20L131.35 286.23L131.80 262.20L132.25 283.36L132.70 258.66L133.15 286.28L133.60 259.63L134.05 287.54L134.50 261.60L134.95 286.82L135.40 261.85L135.85 288.76L136.30 260.13L136.75 286.52L137.20 262.62L137.65 284.83L138.10 261.87L138.55 285.84L139.00 263.97L139.45 286.76L139.90 260.21L140.35 286.12L140.80 260.63L141.25 286.24L141.70 261.90L142.15 285.22L142.60 260.73L143.05 282.35L143.50 261.00L143.95 282.99L144.40 263.14L144.85 283.39L145.30 263.97L145.75 282.42L146.20 263.86L146.65 281.69L147.10 261.96L147.55 284.02L148.00 260.39L148.45 281.31L148.90 262.16L149.35 283.11L149.80 262.39L150.25 280.73L150.70 264.56L151.15 281.70L151.60 262.30L152.05 281.74L152.50 263.13L152.95 282.56L153.40 264.04L153.85 279.57L154.30 264.39L154.75 281.27L155.20 266.94L155.65 279.89L156.10 266.59L156.55 279.25L157.00 267.18L157.45 279.51L157.90 267.65L158.35 278.15L158.80 267.88L159.25 277.84L159.70 267.58L160.15 277.79L160.60 268.71L161.05 277.12L161.50 267.48L161.95 277.05L162.40 267.13L162.85 277.20L163.30 269.14L163.75 277.61L164.20 268.55L164.65 276.53L165.10 268.61L165.55 277.77L166.00 268.61L166.45 277.73L166.90 268.21L167.35 277.71L167.80 268.94L168.25 279.04L168.70 268.08L169.15 278.39L169.60 266.57L170.05 280.89L170.50 266.48L170.95 280.45L171.40 266.47L171.85 280.47L172.30 265.46L172.75 281.52L173.20 265.69L173.65 284.60L174.10 262.82L174.55 282.62L175.00 262.36L175.45 286.82L175.90 261.17L176.35 284.34L176.80 261.91L177.25 284.35L177.70 259.52L178.15 289.62L178.60 257.79L179.05 291.97L179.50 259.77L179.95 287.29L180.40 259.04L180.85 287.32L181.30 259.38L181.75 290.39L182.20 259.67L182.65 290.44L183.10 257.72L183.55 287.75L184.00 260.54L184.45 288.40L184.90 259.82L185.35 289.24L185.80 261.58L186.25 289.86L186.70 258.86L187.15 288.76L187.60 256.83L188.05 288.78L188.50 258.50L188.95 286.20L189.40 261.31L189.85 287.00L190.30 258.39L190.75 290.49L191.20 259.36L191.65 288.14L192.10 261.05L192.55 288.02L193.00 259.84L193.45 287.13L193.90 258.75L194.35 288.49L194.80 256.76L195.25 294.34L195.70 258.05L196.15 294.58L196.60 258.17L197.05 291.48L197.50 255.65L197.95 290.02L198.40 258.24L198.85 289.39L199.30 257.47L199.75 289.01L200.20 259.81L200.65 290.25L201.10 259.28L201.55 289.86L202.00 259.61L202.45 289.01L202.90 252.64L203.35 290.04L203.80 257.47L204.25 288.21L204.70 257.53L205.15 290.53L205.60 260.33L206.05 288.26L206.50 258.50L206.95 286.83L207.40 260.23L207.85 290.53L208.30 259.95L208.75 292.11L209.20 257.00" fill="none" stroke="#7f00ff" stroke-width="0.65"/>
<path d="M28.31 258.83V289.38M28.37 258.10V293.06M28.61 259.01V291.58M32.29 256.74V290.79M37.41 259.37V286.51M37.63 257.86V289.12M38.29 260.02V288.01M40.04 260.18V290.97M41.69 260.14V291.78M43.26 261.29V289.64M43.59 256.24V284.30M44.83 257.07V288.80M44.89 258.97V288.45M51.54 264.22V283.31M54.46 264.28V282.32M55.54 264.11V280.96M55.84 263.39V282.41M56.40 264.59V280.06M58.39 264.40V279.33M59.72 265.76V279.45M60.90 268.22V280.03M64.04 265.94V277.92M64.49 266.94V279.07M65.97 265.49V278.27M66.40 264.60V278.45M68.93 265.06V279.79M69.07 266.14V283.25M69.15 265.14V282.58M69.88 265.20V280.30M79.83 260.15V283.30M85.95 260.20V285.66M87.72 262.45V288.28M90.33 261.15V288.34M91.95 258.98V285.38M93.20 260.75V292.24M94.89 255.72V292.27M97.04 261.51V289.13M100.44 260.71V290.54M104.75 259.37V285.21M107.25 258.12V289.42M108.22 259.32V284.24M111.97 235.41V307.46M112.40 247.29V305.57M115.75 245.39V301.37M117.21 247.21V299.87M119.63 242.23V300.98M125.35 261.81V284.34M126.46 262.23V284.57M126.50 262.31V288.41M127.01 255.68V284.90M128.17 258.09V288.14M136.41 261.54V284.83M139.31 262.72V284.93M142.20 262.29V285.19M145.21 263.71V287.79M145.45 262.91V283.47M145.57 263.32V282.90M148.13 261.92V284.24M151.50 264.89V280.99M151.51 260.01V284.83M156.25 265.62V283.07M156.29 263.19V282.67M160.92 267.41V278.95M163.17 266.18V277.31M165.17 267.21V278.08M165.45 266.54V278.25M165.98 268.80V278.01M168.92 267.88V281.06M169.68 267.21V279.49M170.62 266.65V281.80M170.65 265.70V279.63M171.47 264.32V281.92M171.57 265.45V281.72M176.72 256.27V292.14M178.52 254.34V295.01M179.67 254.73V289.42M182.27 260.16V289.32M184.56 258.65V290.96M188.02 253.21V287.49M193.77 254.19V288.23M193.93 252.52V293.50M197.90 255.51V294.74M203.47 252.38V291.50" fill="none" stroke="#7f00ff" stroke-width="0.70"/>
<path d="M22.90 260.02L23.25 283.21L23.60 262.41L23.95 282.88L24.30 260.43L24.65 286.85L25.00 262.42L25.35 283.70L25.70 260.33L26.05 282.74L26.40 260.33L26.75 284.72L27.10 260.42L27.45 284.54L27.80 262.75L28.15 283.77L28.50 262.86L28.85 283.92L29.20 258.61L29.55 283.30L29.90 262.58L30.25 283.67L30.60 261.38L30.95 283.33L31.30 261.96L31.65 282.00L32.00 260.83L32.35 282.40L32.70 261.51L33.05 281.20L33.40 262.30L33.75 282.68L34.10 262.55L34.45 283.14L34.80 263.61L35.15 282.59L35.50 261.13L35.85 282.77L36.20 263.94L36.55 280.86L36.90 262.31L37.25 281.97L37.60 261.98L37.95 282.04L38.30 263.32L38.65 282.27L39.00 263.31L39.35 280.17L39.70 262.51L40.05 281.62L40.40 263.63L40.75 280.34L41.10 264.70L41.45 282.24L41.80 263.05L42.15 281.01L42.50 263.80L42.85 280.36L43.20 265.04L43.55 279.61L43.90 263.57L44.25 279.49L44.60 265.91L44.95 280.83L45.30 265.16L45.65 281.88L46.00 264.33L46.35 278.88L46.70 264.66L47.05 278.90L47.40 265.97L47.75 279.98L48.10 264.61L48.45 278.92L48.80 265.92L49.15 279.05L49.50 265.18L49.85 279.12L50.20 266.99L50.55 278.45L50.90 264.43L51.25 278.51L51.60 267.27L51.95 279.20L52.30 266.30L52.65 278.06L53.00 267.30L53.35 278.17L53.70 267.26L54.05 278.99L54.40 267.09L54.75 278.23L55.10 267.40L55.45 277.53L55.80 266.16L56.15 277.51L56.50 266.83L56.85 278.14L57.20 266.91L57.55 277.93L57.90 268.21L58.25 278.01L58.60 267.98L58.95 277.75L59.30 268.68L59.65 277.39L60.00 267.72L60.35 277.48L60.70 268.75L61.05 276.36L61.40 268.66L61.75 277.09L62.10 268.00L62.45 276.90L62.80 268.81L63.15 276.43L63.50 268.41L63.85 276.70L64.20 269.17L64.55 277.06L64.90 268.91L65.25 276.98L65.60 268.51L65.95 277.65L66.30 268.04L66.65 277.80L67.00 266.45L67.35 278.13L67.70 266.17L68.05 277.87L68.40 265.38L68.75 278.37L69.10 265.46L69.45 279.34L69.80 265.12L70.15 279.66L70.50 264.37L70.85 280.37L71.20 265.69L71.55 280.18L71.90 264.81L72.25 279.39L72.60 263.61L72.95 280.33L73.30 262.97L73.65 280.44L74.00 265.17L74.35 280.28L74.70 262.19L75.05 280.77L75.40 264.55L75.75 280.42L76.10 265.32L76.45 280.59L76.80 263.15L77.15 279.26L77.50 263.99L77.85 281.25L78.20 263.31L78.55 281.05L78.90 263.48L79.25 280.38L79.60 264.65L79.95 279.78L80.30 264.38L80.65 281.03L81.00 263.79L81.35 279.94L81.70 263.76L82.05 280.21L82.40 265.14L82.75 280.55L83.10 263.95L83.45 279.84L83.80 263.57L84.15 279.31L84.50 265.55L84.85 281.22L85.20 265.66L85.55 279.68L85.90 265.27L86.25 280.87L86.60 265.62L86.95 281.14L87.30 265.58L87.65 279.94L88.00 265.36L88.35 280.47L88.70 263.97L89.05 280.58L89.40 265.03L89.75 280.25L90.10 265.25L90.45 280.95L90.80 264.64L91.15 281.35L91.50 265.13L91.85 280.05L92.20 264.42L92.55 279.93L92.90 264.35L93.25 281.95L93.60 262.17L93.95 281.34L94.30 264.24L94.65 281.11L95.00 263.78L95.35 280.48L95.70 264.61L96.05 280.80L96.40 264.96L96.75 279.96L97.10 264.87L97.45 281.60L97.80 265.19L98.15 280.45L98.50 265.43L98.85 280.63L99.20 264.40L99.55 280.91L99.90 265.26L100.25 280.92L100.60 264.88L100.95 282.55L101.30 264.16L101.65 281.36L102.00 264.07L102.35 280.77L102.70 263.85L103.05 281.51L103.40 264.82L103.75 282.70L104.10 264.90L104.45 282.37L104.80 263.15L105.15 280.47L105.50 263.24L105.85 282.80L106.20 263.61L106.55 282.51L106.90 264.28L107.25 281.92L107.60 264.37L107.95 282.74L108.30 263.54L108.65 280.92L109.00 264.28L109.35 282.92L109.70 256.88L110.05 295.97L110.40 251.65L110.75 295.16L111.10 248.26L111.45 290.43L111.80 252.32L112.15 292.53L112.50 252.29L112.85 294.22L113.20 252.33L113.55 291.89L113.90 247.44L114.25 292.85L114.60 252.74L114.95 291.59L115.30 253.02L115.65 295.88L116.00 251.52L116.35 294.55L116.70 247.80L117.05 292.23L117.40 249.88L117.75 290.90L118.10 250.83L118.45 291.87L118.80 251.77L119.15 295.01L119.50 250.11L119.85 290.92L120.20 248.47L120.55 292.00L120.90 243.93L121.25 293.52L121.60 261.29L121.95 281.04L122.30 265.34L122.65 281.26L123.00 266.61L123.35 281.28L123.70 265.12L124.05 280.87L124.40 266.05L124.75 279.24L125.10 265.62L125.45 281.28L125.80 266.02L126.15 281.05L126.50 266.06L126.85 280.00L127.20 266.56L127.55 279.75L127.90 264.75L128.25 281.06L128.60 264.72L128.95 280.40L129.30 266.72L129.65 280.24L130.00 266.04L130.35 279.25L130.70 264.84L131.05 280.87L131.40 266.35L131.75 279.37L132.10 265.17L132.45 279.70L132.80 265.76L133.15 279.50L133.50 265.37L133.85 280.26L134.20 266.83L134.55 280.97L134.90 265.59L135.25 280.13L135.60 266.86L135.95 280.91L136.30 265.31L136.65 282.45L137.00 265.95L137.35 280.75L137.70 265.27L138.05 279.79L138.40 265.35L138.75 279.77L139.10 265.39L139.45 280.56L139.80 266.91L140.15 279.37L140.50 265.76L140.85 279.80L141.20 265.62L141.55 279.53L141.90 265.44L142.25 281.01L142.60 266.40L142.95 280.29L143.30 265.48L143.65 280.73L144.00 266.70L144.35 279.24L144.70 265.90L145.05 280.46L145.40 266.63L145.75 279.77L146.10 266.87L146.45 281.26L146.80 266.09L147.15 279.14L147.50 265.78L147.85 279.86L148.20 265.96L148.55 279.19L148.90 266.43L149.25 279.00L149.60 266.50L149.95 279.38L150.30 266.90L150.65 279.40L151.00 266.84L151.35 280.13L151.70 266.41L152.05 279.29L152.40 266.81L152.75 280.10L153.10 267.75L153.45 278.42L153.80 268.05L154.15 278.51L154.50 266.36L154.85 277.75L155.20 268.21L155.55 277.46L155.90 267.68L156.25 277.77L156.60 268.90L156.95 277.12L157.30 268.99L157.65 277.05L158.00 268.97L158.35 276.70L158.70 268.38L159.05 277.18L159.40 268.70L159.75 276.19L160.10 269.48L160.45 276.44L160.80 269.65L161.15 276.59L161.50 269.28L161.85 276.27L162.20 269.60L162.55 276.52L162.90 269.42L163.25 275.92L163.60 269.83L163.95 275.85L164.30 269.93L164.65 276.32L165.00 269.95L165.35 276.32L165.70 269.44L166.05 276.95L166.40 269.56L166.75 276.95L167.10 268.60L167.45 276.57L167.80 268.59L168.15 277.48L168.50 268.99L168.85 276.89L169.20 268.83L169.55 277.47L169.90 268.16L170.25 277.23L170.60 267.75L170.95 278.71L171.30 266.81L171.65 277.75L172.00 266.52L172.35 278.17L172.70 266.99L173.05 278.90L173.40 266.35L173.75 278.59L174.10 266.55L174.45 278.49L174.80 266.20L175.15 279.94L175.50 266.54L175.85 279.03L176.20 266.70L176.55 278.79L176.90 266.23L177.25 280.09L177.60 266.19L177.95 279.63L178.30 265.39L178.65 279.44L179.00 265.03L179.35 280.54L179.70 264.62L180.05 279.66L180.40 265.21L180.75 280.39L181.10 264.72L181.45 280.43L181.80 263.96L182.15 279.69L182.50 264.54L182.85 281.08L183.20 263.45L183.55 283.38L183.90 262.96L184.25 281.87L184.60 262.98L184.95 282.03L185.30 264.88L185.65 281.55L186.00 262.90L186.35 282.30L186.70 264.19L187.05 282.06L187.40 263.16L187.75 281.85L188.10 264.77L188.45 282.43L188.80 262.36L189.15 282.14L189.50 262.77L189.85 281.86L190.20 263.86L190.55 280.26L190.90 262.73L191.25 280.96L191.60 262.18L191.95 280.44L192.30 262.18L192.65 280.52L193.00 263.53L193.35 281.03L193.70 262.44L194.05 281.02L194.40 262.64L194.75 282.57L195.10 264.41L195.45 281.13L195.80 263.63L196.15 283.06L196.50 264.40L196.85 282.44L197.20 264.17L197.55 280.79L197.90 263.00L198.25 281.57L198.60 262.69L198.95 282.47L199.30 263.30L199.65 282.23L200.00 263.26L200.35 283.18L200.70 261.48L201.05 280.85L201.40 262.33L201.75 281.95L202.10 259.84L202.45 282.08L202.80 263.24L203.15 280.98L203.50 263.66L203.85 283.16L204.20 261.96L204.55 281.82L204.90 261.53L205.25 283.18L205.60 263.31L205.95 282.39L206.30 263.10L206.65 281.49L207.00 262.56L207.35 282.66L207.70 262.81L208.05 282.76L208.40 263.55L208.75 282.28L209.10 261.33" fill="none" stroke="#f0403c" stroke-width="0.90"/>
</g>
<rect x="32.10" y="202.40" width="61" height="21" fill="#fff" stroke="#c8c8c8" stroke-width="0.7"/>
<line x1="32.70" y1="208.10" x2="50.70" y2="208.10" stroke="#b47aff" stroke-width="2.00"/>
<text x="53.10" y="210.80" class="lg">Dome cutter</text>
<line x1="32.70" y1="217.80" x2="50.70" y2="217.80" stroke="#ff8080" stroke-width="1.10"/>
<text x="53.10" y="220.50" class="lg">Flat cutter</text>
</g>
<g>
<rect x="256.40" y="198.30" width="186.20" height="149.20" fill="none" stroke="#555" stroke-width="1.2"/>
<path d="M287.43 347.50V344.90M318.47 347.50V344.90M349.50 347.50V344.90M380.53 347.50V344.90M411.57 347.50V344.90M256.40 332.58H259.00M256.40 302.74H259.00M256.40 272.90H259.00M256.40 243.06H259.00M256.40 213.22H259.00" stroke="#555" stroke-width="0.8" fill="none"/>
<text transform="translate(256.40 356.20) scale(1 1.10)" class="tk" text-anchor="middle">0.0</text>
<text transform="translate(287.43 356.20) scale(1 1.10)" class="tk" text-anchor="middle">0.5</text>
<text transform="translate(318.47 356.20) scale(1 1.10)" class="tk" text-anchor="middle">1.0</text>
<text transform="translate(349.50 356.20) scale(1 1.10)" class="tk" text-anchor="middle">1.5</text>
<text transform="translate(380.53 356.20) scale(1 1.10)" class="tk" text-anchor="middle">2.0</text>
<text transform="translate(411.57 356.20) scale(1 1.10)" class="tk" text-anchor="middle">2.5</text>
<text transform="translate(442.60 356.20) scale(1 1.10)" class="tk" text-anchor="middle">3.0</text>
<text transform="translate(252.90 335.18) scale(1 1.10)" class="tk" text-anchor="end">-40</text>
<text transform="translate(252.90 305.34) scale(1 1.10)" class="tk" text-anchor="end">-20</text>
<text transform="translate(252.90 275.50) scale(1 1.10)" class="tk" text-anchor="end">0</text>
<text transform="translate(252.90 245.66) scale(1 1.10)" class="tk" text-anchor="end">20</text>
<text transform="translate(252.90 215.82) scale(1 1.10)" class="tk" text-anchor="end">40</text>
<text x="349.50" y="369.10" class="al" text-anchor="middle">Time (s)</text>
<text transform="translate(241.20 272.90) rotate(-90)" class="al" text-anchor="middle">Linear acceleration (m/s<tspan dy="-3" font-size="5.5">2</tspan><tspan dy="3">)</tspan></text>
<text x="257.00" y="196.90" class="mu">&#215;10<tspan dy="-2.4" font-size="4.2">3</tspan></text>
<g clip-path="url(#c11)">
<path d="M256.40 272.47L256.85 273.28L257.30 272.30L257.75 273.27L258.20 272.38L258.65 273.43L259.10 272.44L259.55 273.40L260.00 272.46L260.45 273.44L260.90 272.31L261.35 273.48L261.80 272.24L262.25 273.74L262.70 272.39L263.15 273.55L263.60 272.26L264.05 273.55L264.50 271.99L264.95 274.74L265.40 271.50L265.85 274.63L266.30 270.94L266.75 275.12L267.20 270.61L267.65 275.32L268.10 270.99L268.55 275.26L269.00 270.68L269.45 274.82L269.90 270.71L270.35 274.95L270.80 270.20L271.25 275.15L271.70 270.74L272.15 275.68L272.60 270.41L273.05 275.06L273.50 270.24L273.95 274.98L274.40 270.76L274.85 275.59L275.30 270.78L275.75 275.36L276.20 270.73L276.65 275.07L277.10 270.94L277.55 274.63L278.00 271.21L278.45 274.59L278.90 271.20L279.35 274.24L279.80 271.73L280.25 274.12L280.70 272.13L281.15 273.51L281.60 272.35L282.05 273.41L282.50 272.39L282.95 273.55L283.40 272.41L283.85 273.44L284.30 272.36L284.75 273.49L285.20 272.29L285.65 273.63L286.10 272.04L286.55 273.45L287.00 272.22L287.45 273.65L287.90 271.79L288.35 274.50L288.80 271.21L289.25 275.91L289.70 270.51L290.15 276.09L290.60 270.62L291.05 276.09L291.50 270.45L291.95 276.13L292.40 270.43L292.85 276.03L293.30 269.23L293.75 275.78L294.20 269.56L294.65 276.18L295.10 269.55L295.55 275.94L296.00 269.50L296.45 276.18L296.90 269.23L297.35 275.77L297.80 269.65L298.25 276.22L298.70 269.24L299.15 276.86L299.60 269.45L300.05 276.65L300.50 269.07L300.95 277.05L301.40 269.88L301.85 276.97L302.30 269.07L302.75 277.27L303.20 268.95L303.65 278.06L304.10 269.71L304.55 276.41L305.00 269.85L305.45 276.00L305.90 269.42L306.35 276.47L306.80 269.48L307.25 276.09L307.70 268.95L308.15 276.66L308.60 269.56L309.05 276.00L309.50 269.92L309.95 276.62L310.40 269.84L310.85 276.56L311.30 269.28L311.75 277.62L312.20 269.71L312.65 275.95L313.10 270.59L313.55 276.65L314.00 270.77L314.45 274.95L314.90 270.96L315.35 274.22L315.80 271.77L316.25 274.10L316.70 272.15L317.15 273.57L317.60 271.91L318.05 274.64L318.50 271.26L318.95 274.94L319.40 271.03L319.85 275.02L320.30 271.13L320.75 275.34L321.20 270.97L321.65 274.83L322.10 270.65L322.55 275.26L323.00 271.07L323.45 275.48L323.90 270.92L324.35 275.48L324.80 269.62L325.25 275.28L325.70 270.52L326.15 275.83L326.60 270.30L327.05 275.86L327.50 270.60L327.95 275.90L328.40 270.63L328.85 274.99L329.30 270.15L329.75 275.71L330.20 270.39L330.65 274.96L331.10 270.39L331.55 275.27L332.00 270.67L332.45 275.68L332.90 271.25L333.35 274.57L333.80 268.63L334.25 280.05L334.70 266.10L335.15 282.45L335.60 266.87L336.05 280.31L336.50 263.87L336.95 279.25L337.40 266.93L337.85 279.30L338.30 266.80L338.75 279.66L339.20 266.76L339.65 280.66L340.10 266.49L340.55 280.82L341.00 268.14L341.45 278.72L341.90 268.47L342.35 277.36L342.80 268.75L343.25 277.27L343.70 268.00L344.15 276.44L344.60 269.37L345.05 276.16L345.50 268.73L345.95 275.51L346.40 270.34L346.85 275.22L347.30 270.54L347.75 274.47L348.20 271.50L348.65 274.09L349.10 272.05L349.55 273.58L350.00 271.70L350.45 274.75L350.90 271.20L351.35 275.72L351.80 270.73L352.25 275.92L352.70 270.17L353.15 277.28L353.60 270.04L354.05 275.67L354.50 268.14L354.95 276.79L355.40 269.58L355.85 276.02L356.30 269.56L356.75 276.23L357.20 269.24L357.65 276.35L358.10 269.87L358.55 276.63L359.00 269.90L359.45 276.62L359.90 269.61L360.35 276.09L360.80 269.87L361.25 276.35L361.70 270.47L362.15 276.14L362.60 270.69L363.05 275.37L363.50 270.48L363.95 275.49L364.40 270.14L364.85 275.59L365.30 269.68L365.75 276.04L366.20 269.31L366.65 276.58L367.10 269.12L367.55 276.41L368.00 269.37L368.45 278.28L368.90 269.28L369.35 277.31L369.80 269.67L370.25 277.94L370.70 269.27L371.15 276.04L371.60 269.14L372.05 276.29L372.50 269.38L372.95 276.92L373.40 269.96L373.85 276.00L374.30 269.59L374.75 276.17L375.20 270.13L375.65 275.19L376.10 270.90L376.55 275.20L377.00 271.19L377.45 274.79L377.90 271.77L378.35 273.84L378.80 272.35L379.25 273.98L379.70 271.53L380.15 275.37L380.60 270.77L381.05 276.92L381.50 270.48L381.95 276.18L382.40 269.83L382.85 276.45L383.30 269.44L383.75 276.69L384.20 269.81L384.65 276.60L385.10 269.62L385.55 276.50L386.00 268.99L386.45 276.38L386.90 268.75L387.35 276.25L387.80 268.77L388.25 278.24L388.70 268.86L389.15 276.74L389.60 267.28L390.05 276.63L390.50 268.66L390.95 276.43L391.40 268.67L391.85 278.87L392.30 268.83L392.75 277.64L393.20 269.27L393.65 277.64L394.10 268.83L394.55 277.10L395.00 268.23L395.45 276.40L395.90 269.20L396.35 277.40L396.80 268.94L397.25 276.47L397.70 268.57L398.15 277.01L398.60 269.75L399.05 276.88L399.50 269.60L399.95 277.42L400.40 269.02L400.85 276.73L401.30 269.32L401.75 276.61L402.20 269.43L402.65 276.37L403.10 270.11L403.55 276.26L404.00 269.41L404.45 276.09L404.90 269.69L405.35 276.32L405.80 269.82L406.25 275.31L406.70 270.02L407.15 275.07L407.60 271.16L408.05 274.70L408.50 271.07L408.95 274.45L409.40 271.38L409.85 273.79L410.30 272.17L410.75 273.43L411.20 272.23L411.65 273.95L412.10 271.56L412.55 275.14L413.00 270.91L413.45 276.18L413.90 270.13L414.35 276.82L414.80 269.27L415.25 277.46L415.70 268.34L416.15 279.26L416.60 268.91L417.05 279.99L417.50 267.83L417.95 280.28L418.40 268.48L418.85 278.59L419.30 267.57L419.75 279.62L420.20 265.95L420.65 279.70L421.10 266.09L421.55 280.32L422.00 267.42L422.45 279.62L422.90 267.27L423.35 279.96L423.80 263.55L424.25 281.29L424.70 265.25L425.15 281.64L425.60 266.80L426.05 279.43L426.50 262.65L426.95 279.72L427.40 264.71L427.85 280.58L428.30 266.30L428.75 279.82L429.20 266.35L429.65 281.52L430.10 266.95L430.55 279.29L431.00 266.23L431.45 279.82L431.90 266.45L432.35 279.71L432.80 266.25L433.25 278.64L433.70 266.37L434.15 279.05L434.60 267.61L435.05 278.86L435.50 267.20L435.95 277.47L436.40 268.71L436.85 277.64L437.30 269.03L437.75 276.72L438.20 268.98L438.65 276.58L439.10 270.34L439.55 275.97L440.00 270.12L440.45 275.43L440.90 270.76L441.35 274.80L441.80 271.87L442.25 274.01" fill="none" stroke="#7f00ff" stroke-width="0.70"/>
<path d="M256.70 250.52V272.90H442.60" stroke="#f06060" stroke-width="0.9" fill="none" opacity="0.9"/>
</g>
<rect x="265.60" y="202.40" width="61" height="21" fill="#fff" stroke="#c8c8c8" stroke-width="0.7"/>
<line x1="266.20" y1="208.10" x2="284.20" y2="208.10" stroke="#b47aff" stroke-width="2.00"/>
<text x="286.60" y="210.80" class="lg">Dome cutter</text>
<line x1="266.20" y1="217.80" x2="284.20" y2="217.80" stroke="#ff8080" stroke-width="1.10"/>
<text x="286.60" y="220.50" class="lg">Flat cutter</text>
</g>
<g>
<rect x="489.80" y="198.30" width="186.10" height="149.20" fill="none" stroke="#555" stroke-width="1.2"/>
<path d="M520.82 347.50V344.90M551.83 347.50V344.90M582.85 347.50V344.90M613.87 347.50V344.90M644.88 347.50V344.90M489.80 310.20H492.40M489.80 272.90H492.40M489.80 235.60H492.40" stroke="#555" stroke-width="0.8" fill="none"/>
<text transform="translate(489.80 356.20) scale(1 1.10)" class="tk" text-anchor="middle">0.0</text>
<text transform="translate(520.82 356.20) scale(1 1.10)" class="tk" text-anchor="middle">0.5</text>
<text transform="translate(551.83 356.20) scale(1 1.10)" class="tk" text-anchor="middle">1.0</text>
<text transform="translate(582.85 356.20) scale(1 1.10)" class="tk" text-anchor="middle">1.5</text>
<text transform="translate(613.87 356.20) scale(1 1.10)" class="tk" text-anchor="middle">2.0</text>
<text transform="translate(644.88 356.20) scale(1 1.10)" class="tk" text-anchor="middle">2.5</text>
<text transform="translate(675.90 356.20) scale(1 1.10)" class="tk" text-anchor="middle">3.0</text>
<text transform="translate(486.30 350.10) scale(1 1.10)" class="tk" text-anchor="end">-40</text>
<text transform="translate(486.30 312.80) scale(1 1.10)" class="tk" text-anchor="end">-20</text>
<text transform="translate(486.30 275.50) scale(1 1.10)" class="tk" text-anchor="end">0</text>
<text transform="translate(486.30 238.20) scale(1 1.10)" class="tk" text-anchor="end">20</text>
<text transform="translate(486.30 200.90) scale(1 1.10)" class="tk" text-anchor="end">40</text>
<text x="582.85" y="369.10" class="al" text-anchor="middle">Time (s)</text>
<text transform="translate(474.60 272.90) rotate(-90)" class="al" text-anchor="middle">Linear acceleration (m/s<tspan dy="-3" font-size="5.5">2</tspan><tspan dy="3">)</tspan></text>
<text x="490.40" y="196.90" class="mu">&#215;10<tspan dy="-2.4" font-size="4.2">3</tspan></text>
<g clip-path="url(#c12)">
<path d="M489.80 272.90L490.25 273.32L490.70 272.19L491.15 274.11L491.60 271.47L492.05 274.52L492.50 270.64L492.95 275.54L493.40 269.97L493.85 276.07L494.30 268.96L494.75 276.94L495.20 269.35L495.65 278.39L496.10 268.79L496.55 278.81L497.00 267.19L497.45 278.50L497.90 267.85L498.35 279.72L498.80 267.45L499.25 280.39L499.70 266.88L500.15 280.56L500.60 264.90L501.05 280.39L501.50 262.93L501.95 285.36L502.40 265.91L502.85 280.95L503.30 264.57L503.75 283.04L504.20 259.51L504.65 283.25L505.10 264.99L505.55 288.51L506.00 260.38L506.45 283.86L506.90 263.30L507.35 283.51L507.80 259.03L508.25 284.07L508.70 261.64L509.15 285.37L509.60 262.54L510.05 289.36L510.50 262.47L510.95 283.56L511.40 261.70L511.85 289.64L512.30 257.55L512.75 283.65L513.20 260.73L513.65 291.45L514.10 262.19L514.55 286.16L515.00 253.61L515.45 284.30L515.90 258.73L516.35 293.20L516.80 260.53L517.25 293.90L517.70 260.90L518.15 284.63L518.60 258.11L519.05 285.15L519.50 253.54L519.95 287.44L520.40 260.51L520.85 288.01L521.30 261.34L521.75 292.75L522.20 259.78L522.65 289.52L523.10 259.85L523.55 289.61L524.00 259.51L524.45 287.94L524.90 253.44L525.35 289.99L525.80 253.32L526.25 289.67L526.70 258.16L527.15 287.59L527.60 251.25L528.05 288.43L528.50 256.52L528.95 285.73L529.40 260.14L529.85 289.56L530.30 257.33L530.75 289.44L531.20 258.79L531.65 295.96L532.10 260.23L532.55 287.50L533.00 260.74L533.45 287.28L533.90 260.34L534.35 289.84L534.80 257.99L535.25 289.78L535.70 256.86L536.15 286.28L536.60 251.66L537.05 289.07L537.50 261.03L537.95 287.50L538.40 257.48L538.85 287.80L539.30 250.75L539.75 285.69L540.20 258.14L540.65 288.49L541.10 256.71L541.55 285.70L542.00 257.46L542.45 288.13L542.90 258.06L543.35 285.91L543.80 251.86L544.25 288.93L544.70 257.42L545.15 288.96L545.60 259.82L546.05 287.12L546.50 259.17L546.95 287.95L547.40 259.67L547.85 293.64L548.30 255.84L548.75 287.23L549.20 259.67L549.65 285.64L550.10 260.08L550.55 286.22L551.00 259.75L551.45 285.01L551.90 259.33L552.35 287.79L552.80 261.67L553.25 288.07L553.70 262.49L554.15 287.72L554.60 260.56L555.05 292.26L555.50 260.49L555.95 286.08L556.40 259.75L556.85 285.08L557.30 260.69L557.75 284.53L558.20 260.12L558.65 285.42L559.10 261.13L559.55 283.38L560.00 261.63L560.45 283.79L560.90 263.74L561.35 283.73L561.80 262.06L562.25 283.48L562.70 262.47L563.15 284.92L563.60 261.72L564.05 284.77L564.50 264.63L564.95 287.58L565.40 264.31L565.85 286.37L566.30 265.14L566.75 285.85L567.20 263.81L567.65 281.89L568.10 264.94L568.55 283.06L569.00 264.31L569.45 282.14L569.90 263.60L570.35 281.01L570.80 265.58L571.25 281.19L571.70 264.82L572.15 281.76L572.60 260.32L573.05 280.16L573.50 264.99L573.95 280.58L574.40 264.93L574.85 281.60L575.30 265.19L575.75 281.32L576.20 264.53L576.65 281.54L577.10 260.46L577.55 281.06L578.00 265.26L578.45 282.30L578.90 263.91L579.35 282.34L579.80 265.67L580.25 284.30L580.70 266.64L581.15 284.34L581.60 266.05L582.05 279.92L582.50 266.61L582.95 273.77L583.40 271.65L583.85 274.65L584.30 270.85L584.75 275.18L585.20 270.42L585.65 275.94L586.10 269.88L586.55 276.46L587.00 269.20L587.45 279.06L587.90 268.79L588.35 278.97L588.80 269.15L589.25 277.48L589.70 268.86L590.15 277.74L590.60 267.46L591.05 278.13L591.50 268.40L591.95 278.91L592.40 266.67L592.85 279.32L593.30 265.03L593.75 278.71L594.20 267.83L594.65 280.30L595.10 267.53L595.55 279.29L596.00 264.03L596.45 280.23L596.90 265.16L597.35 281.21L597.80 260.75L598.25 281.12L598.70 265.36L599.15 283.21L599.60 264.73L600.05 281.22L600.50 263.01L600.95 281.48L601.40 262.15L601.85 285.23L602.30 263.55L602.75 283.49L603.20 263.11L603.65 283.62L604.10 262.16L604.55 285.74L605.00 260.65L605.45 291.83L605.90 260.04L606.35 284.37L606.80 258.65L607.25 291.64L607.70 260.38L608.15 287.99L608.60 260.32L609.05 288.69L609.50 257.62L609.95 286.85L610.40 259.12L610.85 292.81L611.30 258.40L611.75 294.16L612.20 257.88L612.65 290.16L613.10 256.76L613.55 286.18L614.00 257.29L614.45 289.87L614.90 256.37L615.35 287.80L615.80 255.60L616.25 286.76L616.70 251.30L617.15 299.19L617.60 256.28L618.05 289.56L618.50 255.02L618.95 289.56L619.40 251.87L619.85 287.97L620.30 256.67L620.75 292.64L621.20 256.74L621.65 291.76L622.10 256.47L622.55 290.56L623.00 254.57L623.45 288.48L623.90 254.98L624.35 287.55L624.80 258.98L625.25 292.29L625.70 254.43L626.15 288.93L626.60 258.74L627.05 292.81L627.50 255.57L627.95 299.54L628.40 250.57L628.85 292.60L629.30 258.83L629.75 288.33L630.20 251.18L630.65 289.47L631.10 255.34L631.55 289.34L632.00 254.80L632.45 292.44L632.90 255.29L633.35 290.18L633.80 258.36L634.25 290.55L634.70 257.34L635.15 289.50L635.60 256.76L636.05 290.64L636.50 256.11L636.95 289.78L637.40 256.25L637.85 290.68L638.30 256.74L638.75 288.53L639.20 260.07L639.65 286.39L640.10 260.59L640.55 289.73L641.00 257.29L641.45 285.46L641.90 259.04L642.35 286.77L642.80 258.41L643.25 286.92L643.70 257.83L644.15 285.09L644.60 259.47L645.05 293.50L645.50 258.79L645.95 288.25L646.40 260.60L646.85 285.70L647.30 259.88L647.75 285.47L648.20 261.79L648.65 286.56L649.10 263.13L649.55 284.70L650.00 257.10L650.45 288.55L650.90 260.58L651.35 283.73L651.80 261.82L652.25 282.93L652.70 261.31L653.15 283.25L653.60 264.48L654.05 284.14L654.50 262.64L654.95 284.43L655.40 257.96L655.85 282.23L656.30 260.08L656.75 281.09L657.20 264.02L657.65 283.51L658.10 264.77L658.55 281.66L659.00 263.37L659.45 283.26L659.90 265.20L660.35 285.70L660.80 265.90L661.25 280.07L661.70 261.41L662.15 281.97L662.60 263.12L663.05 280.23L663.50 265.91L663.95 281.74L664.40 263.56L664.85 279.91L665.30 266.64L665.75 279.28L666.20 263.58L666.65 278.94L667.10 266.18L667.55 279.06L668.00 266.31L668.45 278.33L668.90 267.16L669.35 278.33L669.80 266.53L670.25 278.31L670.70 268.40L671.15 278.72L671.60 268.27L672.05 278.78L672.50 268.33L672.95 277.01L673.40 269.01L673.85 277.45L674.30 267.82L674.75 276.29L675.20 269.61L675.65 276.02" fill="none" stroke="#7f00ff" stroke-width="0.65"/>
<path d="M489.80 272.90L490.15 273.05L490.50 272.57L490.85 273.39L491.20 272.06L491.55 273.84L491.90 271.66L492.25 274.40L492.60 271.54L492.95 274.64L493.30 270.84L493.65 275.04L494.00 270.51L494.35 275.18L494.70 270.10L495.05 275.60L495.40 270.17L495.75 275.54L496.10 269.88L496.45 275.96L496.80 269.41L497.15 275.95L497.50 269.21L497.85 277.50L498.20 268.21L498.55 277.29L498.90 268.70L499.25 277.02L499.60 267.66L499.95 277.67L500.30 267.24L500.65 277.24L501.00 267.84L501.35 278.17L501.70 267.44L502.05 278.01L502.40 267.26L502.75 277.94L503.10 267.17L503.45 278.31L503.80 265.91L504.15 280.22L504.50 266.33L504.85 278.65L505.20 265.03L505.55 279.60L505.90 265.38L506.25 279.69L506.60 265.33L506.95 279.37L507.30 264.67L507.65 279.51L508.00 265.00L508.35 280.99L508.70 263.09L509.05 280.99L509.40 263.96L509.75 280.34L510.10 264.11L510.45 281.81L510.80 264.10L511.15 282.85L511.50 263.78L511.85 280.74L512.20 264.52L512.55 281.23L512.90 265.08L513.25 281.25L513.60 262.52L513.95 281.96L514.30 264.38L514.65 280.82L515.00 263.60L515.35 280.91L515.70 264.41L516.05 282.70L516.40 262.30L516.75 282.01L517.10 263.38L517.45 281.58L517.80 263.63L518.15 281.94L518.50 263.77L518.85 281.95L519.20 263.60L519.55 282.88L519.90 261.41L520.25 282.49L520.60 262.25L520.95 282.48L521.30 263.20L521.65 282.68L522.00 262.98L522.35 282.96L522.70 262.23L523.05 283.72L523.40 260.96L523.75 283.44L524.10 262.95L524.45 282.78L524.80 261.75L525.15 282.91L525.50 260.71L525.85 283.38L526.20 261.84L526.55 282.89L526.90 260.93L527.25 282.27L527.60 262.30L527.95 284.31L528.30 258.99L528.65 284.51L529.00 262.73L529.35 284.44L529.70 261.59L530.05 282.93L530.40 261.78L530.75 284.26L531.10 262.84L531.45 282.31L531.80 261.27L532.15 284.55L532.50 261.58L532.85 284.26L533.20 262.05L533.55 282.55L533.90 260.09L534.25 284.36L534.60 261.70L534.95 282.83L535.30 260.82L535.65 285.51L536.00 262.50L536.35 283.71L536.70 261.08L537.05 282.55L537.40 262.84L537.75 284.59L538.10 259.27L538.45 284.50L538.80 262.49L539.15 283.58L539.50 263.00L539.85 283.75L540.20 261.16L540.55 281.94L540.90 259.38L541.25 282.09L541.60 262.79L541.95 283.27L542.30 261.79L542.65 282.51L543.00 261.22L543.35 282.24L543.70 262.00L544.05 283.71L544.40 263.69L544.75 282.00L545.10 260.93L545.45 281.67L545.80 263.46L546.15 281.78L546.50 262.78L546.85 281.43L547.20 261.14L547.55 281.62L547.90 261.40L548.25 282.09L548.60 263.88L548.95 282.52L549.30 260.56L549.65 281.94L550.00 263.01L550.35 281.04L550.70 263.12L551.05 280.64L551.40 263.72L551.75 281.05L552.10 264.67L552.45 280.53L552.80 264.71L553.15 280.30L553.50 265.13L553.85 281.67L554.20 264.71L554.55 282.00L554.90 263.84L555.25 281.15L555.60 263.56L555.95 281.45L556.30 263.43L556.65 280.53L557.00 264.50L557.35 280.37L557.70 264.74L558.05 279.63L558.40 263.69L558.75 279.95L559.10 265.19L559.45 280.34L559.80 266.24L560.15 279.96L560.50 265.15L560.85 279.92L561.20 266.18L561.55 279.33L561.90 265.56L562.25 279.00L562.60 266.75L562.95 279.25L563.30 266.76L563.65 278.40L564.00 266.14L564.35 279.26L564.70 265.80L565.05 278.73L565.40 266.29L565.75 278.09L566.10 267.44L566.45 279.07L566.80 267.84L567.15 277.76L567.50 267.36L567.85 278.24L568.20 267.96L568.55 278.46L568.90 268.16L569.25 277.61L569.60 267.19L569.95 277.06L570.30 268.25L570.65 277.64L571.00 267.99L571.35 276.64L571.70 268.47L572.05 276.85L572.40 268.48L572.75 277.01L573.10 269.22L573.45 276.47L573.80 268.83L574.15 276.52L574.50 269.16L574.85 276.06L575.20 269.37L575.55 276.14L575.90 269.83L576.25 275.45L576.60 270.09L576.95 275.61L577.30 270.37L577.65 275.31L578.00 270.36L578.35 274.62L578.70 271.10L579.05 274.58L579.40 271.06L579.75 274.62L580.10 271.44L580.45 274.29L580.80 271.58L581.15 273.76L581.50 272.00L581.85 273.65L582.20 272.29L582.55 273.34L582.90 272.56L583.25 273.31L583.60 272.27L583.95 273.62L584.30 272.05L584.65 273.83L585.00 271.75L585.35 274.00L585.70 271.44L586.05 274.61L586.40 271.24L586.75 274.55L587.10 270.69L587.45 275.36L587.80 270.89L588.15 275.31L588.50 270.21L588.85 275.54L589.20 269.97L589.55 275.53L589.90 269.72L590.25 275.40L590.60 269.90L590.95 276.43L591.30 269.38L591.65 276.12L592.00 269.23L592.35 276.64L592.70 269.12L593.05 276.80L593.40 268.27L593.75 276.43L594.10 268.88L594.45 277.48L594.80 268.48L595.15 277.90L595.50 268.11L595.85 277.52L596.20 268.02L596.55 277.16L596.90 267.52L597.25 278.72L597.60 267.90L597.95 277.60L598.30 266.24L598.65 277.69L599.00 266.88L599.35 279.11L599.70 266.10L600.05 278.25L600.40 266.80L600.75 279.08L601.10 265.43L601.45 279.85L601.80 265.78L602.15 279.22L602.50 266.12L602.85 280.20L603.20 266.21L603.55 280.95L603.90 265.39L604.25 281.20L604.60 264.17L604.95 281.30L605.30 264.81L605.65 280.62L606.00 264.04L606.35 279.79L606.70 265.09L607.05 281.26L607.40 264.05L607.75 281.70L608.10 262.71L608.45 283.40L608.80 263.12L609.15 280.58L609.50 263.10L609.85 281.53L610.20 263.04L610.55 280.91L610.90 262.96L611.25 282.51L611.60 264.58L611.95 282.42L612.30 261.96L612.65 281.18L613.00 262.21L613.35 281.06L613.70 261.66L614.05 281.21L614.40 261.88L614.75 281.70L615.10 262.88L615.45 281.14L615.80 263.78L616.15 281.30L616.50 263.36L616.85 282.41L617.20 263.56L617.55 284.77L617.90 263.65L618.25 282.35L618.60 261.48L618.95 284.17L619.30 261.41L619.65 283.15L620.00 263.38L620.35 282.21L620.70 259.17L621.05 283.64L621.40 260.29L621.75 282.32L622.10 261.73L622.45 282.13L622.80 262.09L623.15 284.69L623.50 261.86L623.85 284.01L624.20 260.83L624.55 283.55L624.90 261.31L625.25 282.83L625.60 262.48L625.95 283.70L626.30 260.79L626.65 282.16L627.00 261.30L627.35 283.35L627.70 261.89L628.05 284.17L628.40 260.30L628.75 284.33L629.10 263.14L629.45 284.28L629.80 260.54L630.15 283.35L630.50 262.94L630.85 282.21L631.20 262.73L631.55 284.08L631.90 261.08L632.25 281.70L632.60 262.77L632.95 283.54L633.30 262.26L633.65 283.72L634.00 263.04L634.35 283.44L634.70 261.36L635.05 283.33L635.40 261.70L635.75 283.32L636.10 262.90L636.45 281.74L636.80 261.95L637.15 283.75L637.50 262.02L637.85 283.74L638.20 262.16L638.55 282.49L638.90 263.19L639.25 283.82L639.60 262.51L639.95 281.62L640.30 261.38L640.65 282.65L641.00 262.96L641.35 281.45L641.70 261.97L642.05 283.14L642.40 262.86L642.75 281.01L643.10 262.73L643.45 281.68L643.80 262.57L644.15 280.28L644.50 264.16L644.85 281.82L645.20 263.36L645.55 280.26L645.90 264.26L646.25 281.07L646.60 265.21L646.95 279.91L647.30 264.79L647.65 279.97L648.00 264.35L648.35 280.23L648.70 265.57L649.05 279.59L649.40 263.52L649.75 279.48L650.10 265.34L650.45 279.18L650.80 264.74L651.15 278.86L651.50 266.37L651.85 279.00L652.20 266.83L652.55 279.33L652.90 266.48L653.25 278.68L653.60 265.69L653.95 278.64L654.30 266.29L654.65 279.29L655.00 267.38L655.35 278.79L655.70 267.13L656.05 277.92L656.40 267.38L656.75 278.95L657.10 267.70L657.45 277.59L657.80 266.63L658.15 278.39L658.50 267.08L658.85 277.45L659.20 267.15L659.55 278.02L659.90 267.84L660.25 278.08L660.60 268.53L660.95 277.40L661.30 268.36L661.65 277.63L662.00 268.11L662.35 277.49L662.70 268.03L663.05 276.57L663.40 268.83L663.75 276.82L664.10 268.53L664.45 276.90L664.80 268.89L665.15 275.84L665.50 269.68L665.85 276.06L666.20 269.20L666.55 276.57L666.90 270.23L667.25 276.02L667.60 269.66L667.95 275.62L668.30 270.25L668.65 275.41L669.00 270.13L669.35 275.27L669.70 270.10L670.05 275.12L670.40 271.08L670.75 275.00L671.10 270.81L671.45 274.55L671.80 271.12L672.15 274.50L672.50 271.28L672.85 274.15L673.20 271.72L673.55 274.14L673.90 271.94L674.25 273.88L674.60 272.06L674.95 273.51L675.30 272.30L675.65 273.49" fill="none" stroke="#f0403c" stroke-width="0.90"/>
<path d="M490.10 272.90V347.50" stroke="#f0403c" stroke-width="0.9" fill="none"/>
</g>
<rect x="499.00" y="202.40" width="61" height="21" fill="#fff" stroke="#c8c8c8" stroke-width="0.7"/>
<line x1="499.60" y1="208.10" x2="517.60" y2="208.10" stroke="#b47aff" stroke-width="2.00"/>
<text x="520.00" y="210.80" class="lg">Dome cutter</text>
<line x1="499.60" y1="217.80" x2="517.60" y2="217.80" stroke="#ff8080" stroke-width="1.10"/>
<text x="520.00" y="220.50" class="lg">Flat cutter</text>
</g>
<g>
<rect x="22.50" y="386.30" width="189.70" height="152.20" fill="none" stroke="#555" stroke-width="1.2"/>
<path d="M54.12 538.50V535.90M85.73 538.50V535.90M117.35 538.50V535.90M148.97 538.50V535.90M180.58 538.50V535.90M22.50 523.28H25.10M22.50 508.06H25.10M22.50 492.84H25.10M22.50 477.62H25.10M22.50 462.40H25.10M22.50 447.18H25.10M22.50 431.96H25.10M22.50 416.74H25.10M22.50 401.52H25.10" stroke="#555" stroke-width="0.8" fill="none"/>
<text transform="translate(22.50 547.20) scale(1 1.10)" class="tk" text-anchor="middle">0.0</text>
<text transform="translate(54.12 547.20) scale(1 1.10)" class="tk" text-anchor="middle">0.5</text>
<text transform="translate(85.73 547.20) scale(1 1.10)" class="tk" text-anchor="middle">1.0</text>
<text transform="translate(117.35 547.20) scale(1 1.10)" class="tk" text-anchor="middle">1.5</text>
<text transform="translate(148.97 547.20) scale(1 1.10)" class="tk" text-anchor="middle">2.0</text>
<text transform="translate(180.58 547.20) scale(1 1.10)" class="tk" text-anchor="middle">2.5</text>
<text transform="translate(212.20 547.20) scale(1 1.10)" class="tk" text-anchor="middle">3.0</text>
<text transform="translate(19.00 541.10) scale(1 1.10)" class="tk" text-anchor="end">-10</text>
<text transform="translate(19.00 525.88) scale(1 1.10)" class="tk" text-anchor="end">-8</text>
<text transform="translate(19.00 510.66) scale(1 1.10)" class="tk" text-anchor="end">-6</text>
<text transform="translate(19.00 495.44) scale(1 1.10)" class="tk" text-anchor="end">-4</text>
<text transform="translate(19.00 480.22) scale(1 1.10)" class="tk" text-anchor="end">-2</text>
<text transform="translate(19.00 465.00) scale(1 1.10)" class="tk" text-anchor="end">0</text>
<text transform="translate(19.00 449.78) scale(1 1.10)" class="tk" text-anchor="end">2</text>
<text transform="translate(19.00 434.56) scale(1 1.10)" class="tk" text-anchor="end">4</text>
<text transform="translate(19.00 419.34) scale(1 1.10)" class="tk" text-anchor="end">6</text>
<text transform="translate(19.00 404.12) scale(1 1.10)" class="tk" text-anchor="end">8</text>
<text transform="translate(19.00 388.90) scale(1 1.10)" class="tk" text-anchor="end">10</text>
<text x="117.35" y="560.10" class="al" text-anchor="middle">Time (s)</text>
<text transform="translate(7.30 462.40) rotate(-90)" class="al" text-anchor="middle">Angular velocity (rad/s)</text>
<g clip-path="url(#c20)">
<path d="M22.50 519.00L22.75 507.24L23.01 507.19L23.26 506.43L23.51 506.86L23.76 507.10L24.02 506.46L24.27 506.07L24.52 506.86L24.78 506.52L25.03 506.00L25.28 506.44L25.54 506.73L25.79 505.92L26.04 506.54L26.29 506.37L26.55 505.87L26.80 505.81L27.05 506.56L27.31 505.92L27.56 505.99L27.81 506.17L28.06 505.91L28.32 505.42L28.57 505.61L28.82 505.75L29.08 505.95L29.33 505.71L29.58 505.44L29.84 505.11L30.09 505.60L30.34 504.90L30.59 505.33L30.85 504.99L31.10 504.93L31.35 504.65L31.61 504.35L31.86 504.19L32.11 504.54L32.36 504.04L32.62 503.65L32.87 503.70L33.12 504.29L33.38 503.94L33.63 503.67L33.88 503.35L34.13 503.63L34.39 502.93L34.64 503.16L34.89 502.39L35.15 502.88L35.40 503.06L35.65 502.64L35.91 501.85L36.16 502.21L36.41 501.77L36.66 502.21L36.92 501.14L37.17 500.96L37.42 500.87L37.68 500.94L37.93 501.30L38.18 500.80L38.43 500.72L38.69 499.91L38.94 499.85L39.19 499.86L39.45 499.92L39.70 499.84L39.95 499.47L40.21 498.97L40.46 498.67L40.71 498.71L40.96 498.34L41.22 498.64L41.47 498.56L41.72 498.25L41.98 497.32L42.23 497.73L42.48 496.68L42.73 496.50L42.99 496.76L43.24 496.07L43.49 496.25L43.75 495.79L44.00 495.41L44.25 495.05L44.51 495.04L44.76 494.65L45.01 493.54L45.26 494.21L45.52 493.38L45.77 492.98L46.02 493.32L46.28 493.15L46.53 492.82L46.78 492.60L47.03 491.77L47.29 491.94L47.54 492.41L47.79 492.23L48.05 492.03L48.30 492.21L48.55 492.08L48.81 492.37L49.06 492.37L49.31 492.44L49.56 492.64L49.82 493.20L50.07 494.95L50.32 497.59L50.58 500.02L50.83 501.75L51.08 501.34L51.33 498.13L51.59 494.97L51.84 493.81L52.09 492.63L52.35 491.45L52.60 490.77L52.85 489.94L53.10 489.33L53.36 488.45L53.61 487.91L53.86 487.46L54.12 486.89L54.37 486.32L54.62 485.89L54.88 485.73L55.13 485.29L55.38 484.79L55.63 484.02L55.89 479.27L56.14 476.71L56.39 476.92L56.65 476.98L56.90 476.82L57.15 476.78L57.40 476.88L57.66 476.72L57.91 476.95L58.16 476.86L58.42 476.91L58.67 476.94L58.92 476.71L59.18 476.77L59.43 476.83L59.68 476.89L59.93 476.82L60.19 476.79L60.44 476.72L60.69 477.11L60.95 477.67L61.20 477.47L61.45 477.61L61.70 477.43L61.96 477.57L62.21 477.40L62.46 477.07L62.72 477.12L62.97 476.72L63.22 476.61L63.48 476.24L63.73 475.98L63.98 475.62L64.23 475.39L64.49 475.10L64.74 474.65L64.99 474.29L65.25 473.93L65.50 473.81L65.75 473.28L66.00 473.04L66.26 472.50L66.51 472.12L66.76 471.64L67.02 471.35L67.27 470.79L67.52 470.51L67.78 469.96L68.03 469.46L68.28 469.12L68.53 468.59L68.79 468.29L69.04 467.88L69.29 467.58L69.55 467.28L69.80 466.65L70.05 466.42L70.30 466.13L70.56 465.72L70.81 465.22L71.06 464.91L71.32 464.69L71.57 464.18L71.82 463.85L72.07 463.35L72.33 463.10L72.58 462.63L72.83 462.30L73.09 461.74L73.34 461.31L73.59 460.89L73.85 460.59L74.10 460.02L74.35 459.68L74.60 459.35L74.86 458.80L75.11 458.37L75.36 457.93L75.62 457.56L75.87 457.21L76.12 456.63L76.37 456.27L76.63 455.97L76.88 455.38L77.13 454.86L77.39 454.59L77.64 454.17L77.89 453.67L78.15 453.10L78.40 452.71L78.65 452.21L78.90 451.95L79.16 451.23L79.41 451.04L79.66 450.42L79.92 449.94L80.17 449.71L80.42 449.25L80.67 448.59L80.93 448.23L81.18 447.74L81.43 447.50L81.69 447.12L81.94 446.51L82.19 446.10L82.45 445.58L82.70 445.18L82.95 444.76L83.20 444.54L83.46 443.98L83.71 443.65L83.96 443.19L84.22 442.87L84.47 442.49L84.72 442.03L84.97 441.63L85.23 441.44L85.48 441.07L85.73 440.56L85.99 440.18L86.24 439.86L86.49 439.51L86.75 439.29L87.00 438.79L87.25 438.42L87.50 438.27L87.76 437.84L88.01 437.35L88.26 437.13L88.52 436.88L88.77 436.46L89.02 436.04L89.27 435.73L89.53 435.51L89.78 435.12L90.03 434.62L90.29 434.38L90.54 434.18L90.79 433.65L91.04 433.42L91.30 433.14L91.55 432.74L91.80 432.53L92.06 432.03L92.31 431.97L92.56 431.60L92.82 431.32L93.07 430.91L93.32 430.58L93.57 430.23L93.83 429.86L94.08 429.69L94.33 429.33L94.59 429.20L94.84 428.70L95.09 428.38L95.34 428.32L95.60 428.10L95.85 427.66L96.10 427.52L96.36 427.20L96.61 426.96L96.86 426.64L97.12 426.36L97.37 426.15L97.62 425.95L97.87 425.76L98.13 425.50L98.38 425.22L98.63 425.06L98.89 424.56L99.14 424.34L99.39 424.21L99.64 423.93L99.90 423.89L100.15 423.59L100.40 423.61L100.66 423.19L100.91 423.21L101.16 422.81L101.42 422.90L101.67 422.55L101.92 422.35L102.17 422.19L102.43 422.13L102.68 422.02L102.93 421.79L103.19 421.47L103.44 421.38L103.69 421.25L103.94 421.03L104.20 421.08L104.45 420.86L104.70 420.71L104.96 420.43L105.21 420.37L105.46 420.14L105.72 420.03L105.97 420.03L106.22 419.74L106.47 419.74L106.73 419.48L106.98 419.52L107.23 419.21L107.49 419.31L107.74 418.94L107.99 418.88L108.24 418.90L108.50 418.70L108.75 418.54L109.00 418.44L109.26 418.45L109.51 418.29L109.76 418.38L110.01 418.25L110.27 418.10L110.52 418.08L110.77 417.89L111.03 417.90L111.28 417.96L111.53 417.94L111.79 417.66L112.04 417.67L112.29 417.76L112.54 417.57L112.80 417.54L113.05 417.42L113.30 417.59L113.56 417.31L113.81 417.42L114.06 417.17L114.31 417.15L114.57 417.26L114.82 416.92L115.07 417.01L115.33 416.72L115.58 416.76L115.83 416.38L116.09 415.99L116.34 409.43L116.59 399.44L116.84 397.68L117.10 397.84L117.35 397.64L117.60 397.74L117.86 397.84L118.11 397.78L118.36 397.84L118.61 397.73L118.87 397.77L119.12 397.58L119.37 397.85L119.63 397.69L119.88 397.73L120.13 397.72L120.39 397.66L120.64 397.85L120.89 397.76L121.14 397.72L121.40 397.61L121.65 430.48L121.90 441.73L122.16 440.64L122.41 438.41L122.66 435.54L122.91 432.42L123.17 428.92L123.42 425.69L123.67 422.92L123.93 420.69L124.18 419.43L124.43 418.78L124.69 418.84L124.94 418.53L125.19 418.29L125.44 418.30L125.70 418.30L125.95 418.22L126.20 418.22L126.46 418.38L126.71 418.29L126.96 418.48L127.21 418.31L127.47 418.31L127.72 418.49L127.97 418.63L128.23 418.59L128.48 418.64L128.73 418.83L128.98 419.00L129.24 419.03L129.49 419.15L129.74 419.21L130.00 419.41L130.25 419.57L130.50 419.51L130.76 419.92L131.01 419.91L131.26 420.07L131.51 420.24L131.77 420.48L132.02 420.58L132.27 420.79L132.53 420.89L132.78 421.06L133.03 421.33L133.28 421.41L133.54 421.59L133.79 422.00L134.04 422.04L134.30 422.39L134.55 422.70L134.80 422.90L135.06 422.90L135.31 423.24L135.56 423.50L135.81 423.67L136.07 423.91L136.32 424.33L136.57 424.33L136.83 424.79L137.08 425.01L137.33 425.08L137.58 425.39L137.84 425.69L138.09 426.06L138.34 426.04L138.60 426.56L138.85 426.57L139.10 426.90L139.36 427.07L139.61 427.62L139.86 427.88L140.11 427.98L140.37 428.32L140.62 428.38L140.87 428.80L141.13 428.99L141.38 429.31L141.63 429.50L141.88 429.86L142.14 430.06L142.39 430.32L142.64 430.57L142.90 430.78L143.15 431.08L143.40 431.39L143.66 431.62L143.91 431.73L144.16 432.15L144.41 432.28L144.67 432.69L144.92 433.00L145.17 433.26L145.43 433.59L145.68 433.77L145.93 434.25L146.18 434.52L146.44 434.72L146.69 434.97L146.94 435.48L147.20 435.69L147.45 435.89L147.70 436.30L147.95 436.55L148.21 437.00L148.46 437.27L148.71 437.59L148.97 438.12L149.22 438.34L149.47 438.88L149.73 439.16L149.98 439.43L150.23 439.77L150.48 440.09L150.74 440.53L150.99 440.96L151.24 441.18L151.50 441.72L151.75 441.99L152.00 442.36L152.25 442.74L152.51 443.17L152.76 443.65L153.01 443.94L153.27 444.45L153.52 444.79L153.77 445.14L154.03 445.72L154.28 446.11L154.53 446.29L154.78 446.77L155.04 447.19L155.29 447.53L155.54 447.94L155.80 448.52L156.05 448.81L156.30 449.31L156.55 449.54L156.81 450.03L157.06 450.40L157.31 450.88L157.57 451.10L157.82 451.45L158.07 452.08L158.33 452.51L158.58 452.65L158.83 453.30L159.08 453.58L159.34 453.85L159.59 454.30L159.84 454.67L160.10 455.17L160.35 455.70L160.60 455.91L160.85 456.40L161.11 456.68L161.36 457.04L161.61 457.70L161.87 458.09L162.12 458.27L162.37 458.73L162.63 459.24L162.88 459.73L163.13 460.02L163.38 460.38L163.64 460.87L163.89 461.39L164.14 461.92L164.40 462.10L164.65 462.74L164.90 463.14L165.15 463.50L165.41 463.97L165.66 464.28L165.91 464.85L166.17 465.36L166.42 465.66L166.67 466.16L166.92 466.62L167.18 466.88L167.43 467.39L167.68 467.77L167.94 468.17L168.19 468.69L168.44 468.94L168.70 469.48L168.95 469.95L169.20 470.19L169.45 470.53L169.71 471.17L169.96 471.54L170.21 471.76L170.47 472.28L170.72 472.45L170.97 472.78L171.22 473.27L171.48 473.43L171.73 473.82L171.98 474.22L172.24 474.41L172.49 474.64L172.74 475.21L173.00 475.33L173.25 475.60L173.50 475.97L173.75 476.35L174.01 476.52L174.26 476.84L174.51 477.20L174.77 477.54L175.02 477.73L175.27 478.08L175.52 478.20L175.78 478.50L176.03 478.77L176.28 479.13L176.54 479.43L176.79 479.92L177.04 480.29L177.30 480.38L177.55 480.89L177.80 481.34L178.05 481.68L178.31 481.84L178.56 482.34L178.81 482.77L179.07 482.98L179.32 483.42L179.57 484.05L179.82 484.44L180.08 484.96L180.33 485.27L180.58 485.80L180.84 486.58L181.09 487.18L181.34 488.02L181.60 488.98L181.85 489.69L182.10 490.63L182.35 491.67L182.61 492.60L182.86 493.34L183.11 494.15L183.37 494.86L183.62 495.41L183.87 495.58L184.12 496.04L184.38 496.18L184.63 496.55L184.88 496.91L185.14 497.04L185.39 497.36L185.64 497.47L185.89 497.77L186.15 497.88L186.40 497.99L186.65 497.99L186.91 498.12L187.16 498.17L187.41 496.30L187.67 493.20L187.92 489.13L188.17 485.08L188.42 481.68L188.68 479.99L188.93 480.10L189.18 480.95L189.44 482.40L189.69 484.08L189.94 486.13L190.19 488.55L190.45 490.43L190.70 492.38L190.95 495.06L191.21 496.27L191.46 497.54L191.71 498.14L191.97 498.61L192.22 498.47L192.47 498.73L192.72 498.93L192.98 499.51L193.23 499.45L193.48 500.06L193.74 500.11L193.99 500.31L194.24 499.83L194.49 499.94L194.75 500.49L195.00 500.50L195.25 500.32L195.51 500.48L195.76 500.28L196.01 501.15L196.27 500.55L196.52 501.21L196.77 501.05L197.02 501.38L197.28 501.00L197.53 501.50L197.78 501.61L198.04 501.95L198.29 501.66L198.54 502.46L198.79 502.66L199.05 502.20L199.30 502.27L199.55 502.80L199.81 502.89L200.06 503.22L200.31 503.66L200.57 503.62L200.82 503.79L201.07 504.10L201.32 504.05L201.58 503.99L201.83 504.01L202.08 504.28L202.34 504.71L202.59 504.58L202.84 504.77L203.09 505.27L203.35 505.52L203.60 505.27L203.85 505.94L204.11 505.96L204.36 505.77L204.61 506.01L204.86 505.89L205.12 506.56L205.37 506.81L205.62 506.86L205.88 506.44L206.13 507.27L206.38 506.94L206.64 507.28L206.89 507.18L207.14 507.36L207.39 507.47L207.65 507.37L207.90 507.95L208.15 508.03L208.41 508.30L208.66 508.22L208.91 508.83L209.16 508.76L209.42 508.91L209.67 508.68L209.92 509.31L210.18 509.32L210.43 509.40L210.68 509.00L210.94 509.52L211.19 509.24L211.44 509.48L211.69 510.02L211.95 509.90L212.20 510.37" fill="none" stroke="#f0403c" stroke-width="1.20" stroke-linejoin="round"/>
<path d="M22.50 462.36L22.75 510.25L23.01 510.21L23.26 510.37L23.51 510.29L23.76 510.43L24.02 510.36L24.27 510.33L24.52 510.06L24.78 510.17L25.03 510.15L25.28 509.94L25.54 510.02L25.79 509.92L26.04 509.84L26.29 509.95L26.55 509.78L26.80 509.63L27.05 509.64L27.31 509.74L27.56 509.52L27.81 509.39L28.06 509.28L28.32 509.34L28.57 509.32L28.82 509.17L29.08 509.23L29.33 509.05L29.58 509.06L29.84 508.92L30.09 508.85L30.34 508.72L30.59 508.54L30.85 508.62L31.10 508.57L31.35 508.42L31.61 508.22L31.86 508.00L32.11 507.91L32.36 507.89L32.62 507.79L32.87 507.46L33.12 507.59L33.38 507.38L33.63 507.23L33.88 507.16L34.13 506.90L34.39 506.70L34.64 506.46L34.89 506.44L35.15 506.28L35.40 506.19L35.65 506.02L35.91 505.72L36.16 505.67L36.41 505.53L36.66 505.21L36.92 505.09L37.17 504.92L37.42 504.71L37.68 504.52L37.93 504.27L38.18 504.07L38.43 503.92L38.69 503.81L38.94 503.64L39.19 503.49L39.45 503.13L39.70 502.99L39.95 502.77L40.21 502.47L40.46 502.50L40.71 502.09L40.96 501.98L41.22 501.76L41.47 501.56L41.72 501.35L41.98 501.15L42.23 500.73L42.48 500.59L42.73 500.25L42.99 500.00L43.24 499.90L43.49 499.64L43.75 499.41L44.00 499.02L44.25 499.08L44.51 498.79L44.76 498.55L45.01 498.51L45.26 498.08L45.52 497.94L45.77 497.68L46.02 497.51L46.28 497.39L46.53 496.92L46.78 496.79L47.03 496.40L47.29 495.93L47.54 495.65L47.79 494.92L48.05 494.44L48.30 493.92L48.55 492.81L48.81 489.96L49.06 488.42L49.31 488.41L49.56 488.80L49.82 489.27L50.07 490.02L50.32 492.95L50.58 495.81L50.83 495.25L51.08 492.92L51.33 489.92L51.59 488.24L51.84 487.58L52.09 487.08L52.35 486.45L52.60 486.27L52.85 485.91L53.10 485.42L53.36 485.33L53.61 484.96L53.86 484.73L54.12 484.38L54.37 484.30L54.62 484.12L54.88 483.83L55.13 483.70L55.38 483.60L55.63 482.98L55.89 473.49L56.14 468.76L56.39 470.00L56.65 471.87L56.90 472.97L57.15 472.93L57.40 473.08L57.66 472.79L57.91 472.91L58.16 472.65L58.42 472.55L58.67 472.40L58.92 472.50L59.18 472.47L59.43 472.20L59.68 472.51L59.93 473.03L60.19 474.14L60.44 475.17L60.69 476.24L60.95 476.69L61.20 476.89L61.45 476.96L61.70 476.68L61.96 476.55L62.21 476.65L62.46 476.25L62.72 476.28L62.97 476.12L63.22 475.67L63.48 475.53L63.73 475.40L63.98 474.86L64.23 474.76L64.49 474.38L64.74 473.86L64.99 473.53L65.25 473.39L65.50 472.75L65.75 472.44L66.00 471.95L66.26 471.60L66.51 471.17L66.76 470.93L67.02 470.29L67.27 469.87L67.52 469.57L67.78 469.03L68.03 468.70L68.28 468.14L68.53 467.75L68.79 467.38L69.04 467.09L69.29 466.72L69.55 466.13L69.80 465.85L70.05 465.58L70.30 465.12L70.56 464.84L70.81 464.49L71.06 463.96L71.32 463.66L71.57 463.26L71.82 462.77L72.07 462.53L72.33 462.18L72.58 461.53L72.83 461.40L73.09 460.72L73.34 460.41L73.59 459.90L73.85 459.57L74.10 459.20L74.35 458.76L74.60 458.28L74.86 457.90L75.11 457.52L75.36 457.08L75.62 456.49L75.87 456.17L76.12 455.58L76.37 455.31L76.63 454.69L76.88 454.40L77.13 453.86L77.39 453.36L77.64 453.04L77.89 452.54L78.15 452.02L78.40 451.79L78.65 451.17L78.90 450.86L79.16 450.34L79.41 450.00L79.66 449.41L79.92 448.91L80.17 448.53L80.42 448.19L80.67 447.64L80.93 447.36L81.18 446.78L81.43 446.29L81.69 445.98L81.94 445.54L82.19 445.12L82.45 444.53L82.70 444.25L82.95 443.85L83.20 443.30L83.46 442.86L83.71 442.58L83.96 442.22L84.22 441.64L84.47 441.47L84.72 440.94L84.97 440.53L85.23 440.24L85.48 439.71L85.73 439.55L85.99 439.21L86.24 438.58L86.49 438.32L86.75 437.89L87.00 437.55L87.25 437.41L87.50 437.04L87.76 436.55L88.01 436.14L88.26 435.99L88.52 435.60L88.77 435.33L89.02 435.01L89.27 434.68L89.53 434.23L89.78 433.94L90.03 433.70L90.29 433.21L90.54 432.90L90.79 432.53L91.04 432.29L91.30 431.94L91.55 431.66L91.80 431.34L92.06 430.82L92.31 430.73L92.56 430.37L92.82 429.86L93.07 429.63L93.32 429.29L93.57 429.10L93.83 428.88L94.08 428.40L94.33 428.08L94.59 427.82L94.84 427.64L95.09 427.14L95.34 427.01L95.60 426.61L95.85 426.44L96.10 426.21L96.36 425.78L96.61 425.66L96.86 425.32L97.12 425.04L97.37 424.79L97.62 424.39L97.87 424.15L98.13 424.04L98.38 423.87L98.63 423.39L98.89 423.30L99.14 423.18L99.39 422.88L99.64 422.68L99.90 422.49L100.15 422.17L100.40 421.98L100.66 421.88L100.91 421.42L101.16 421.41L101.42 421.23L101.67 421.64L101.92 420.83L102.17 421.19L102.43 421.22L102.68 419.26L102.93 419.00L103.19 419.08L103.44 419.99L103.69 418.74L103.94 418.29L104.20 419.33L104.45 418.29L104.70 418.12L104.96 418.90L105.21 418.46L105.46 418.59L105.72 417.73L105.97 418.13L106.22 418.01L106.47 416.59L106.73 417.61L106.98 417.23L107.23 417.16L107.49 416.87L107.74 417.86L107.99 416.86L108.24 416.03L108.50 417.39L108.75 415.47L109.00 415.86L109.26 416.75L109.51 416.42L109.76 415.36L110.01 416.37L110.27 415.42L110.52 415.94L110.77 415.47L111.03 415.58L111.28 415.82L111.53 414.68L111.79 415.98L112.04 414.99L112.29 414.51L112.54 414.77L112.80 414.52L113.05 414.47L113.30 415.65L113.56 414.38L113.81 415.30L114.06 415.71L114.31 414.00L114.57 414.58L114.82 415.41L115.07 414.37L115.33 414.52L115.58 414.10L115.83 414.62L116.09 413.77L116.34 406.76L116.59 396.45L116.84 394.78L117.10 394.59L117.35 394.73L117.60 394.78L117.86 394.63L118.11 394.56L118.36 394.64L118.61 394.57L118.87 394.58L119.12 394.80L119.37 394.77L119.63 394.58L119.88 394.68L120.13 394.67L120.39 394.53L120.64 394.82L120.89 394.57L121.14 394.54L121.40 394.80L121.65 427.39L121.90 438.80L122.16 437.35L122.41 435.36L122.66 432.74L122.91 429.53L123.17 426.42L123.42 423.00L123.67 420.42L123.93 418.21L124.18 416.84L124.43 416.64L124.69 416.52L124.94 416.60L125.19 416.39L125.44 416.45L125.70 416.45L125.95 416.49L126.20 416.32L126.46 416.35L126.71 416.54L126.96 416.33L127.21 416.43L127.47 416.66L127.72 416.53L127.97 416.65L128.23 416.62L128.48 416.93L128.73 416.88L128.98 417.02L129.24 417.03L129.49 417.13L129.74 417.30L130.00 417.49L130.25 417.60L130.50 417.77L130.76 417.90L131.01 418.26L131.26 418.22L131.51 418.51L131.77 418.65L132.02 418.89L132.27 419.13L132.53 419.30L132.78 419.35L133.03 419.60L133.28 419.77L133.54 420.13L133.79 420.19L134.04 420.48L134.30 420.79L134.55 420.93L134.80 421.24L135.06 421.45L135.31 421.60L135.56 421.87L135.81 422.18L136.07 422.40L136.32 422.73L136.57 422.98L136.83 423.07L137.08 423.34L137.33 423.58L137.58 423.92L137.84 424.09L138.09 424.51L138.34 424.73L138.60 424.93L138.85 425.42L139.10 425.46L139.36 425.92L139.61 426.06L139.86 426.48L140.11 426.80L140.37 426.90L140.62 427.30L140.87 427.50L141.13 427.86L141.38 427.94L141.63 428.18L141.88 428.62L142.14 428.88L142.39 429.00L142.64 429.42L142.90 429.68L143.15 429.81L143.40 430.22L143.66 430.37L143.91 430.85L144.16 431.03L144.41 431.25L144.67 431.56L144.92 431.84L145.17 432.16L145.43 432.52L145.68 432.86L145.93 433.07L146.18 433.51L146.44 433.83L146.69 434.20L146.94 434.42L147.20 434.75L147.45 434.94L147.70 435.28L147.95 435.88L148.21 436.11L148.46 436.54L148.71 436.87L148.97 437.32L149.22 437.49L149.47 437.97L149.73 438.35L149.98 438.51L150.23 439.09L150.48 439.31L150.74 439.76L150.99 440.09L151.24 440.43L151.50 440.88L151.75 441.35L152.00 441.83L152.25 442.15L152.51 442.64L152.76 442.86L153.01 443.22L153.27 443.83L153.52 444.09L153.77 444.46L154.03 444.85L154.28 445.24L154.53 445.84L154.78 446.08L155.04 446.69L155.29 447.02L155.54 447.28L155.80 447.82L156.05 448.18L156.30 448.67L156.55 449.19L156.81 449.50L157.06 450.03L157.31 450.35L157.57 450.79L157.82 451.22L158.07 451.49L158.33 451.96L158.58 452.31L158.83 452.86L159.08 453.26L159.34 453.60L159.59 453.99L159.84 454.30L160.10 454.74L160.35 455.09L160.60 455.62L160.85 455.86L161.11 456.29L161.36 456.85L161.61 457.21L161.87 457.66L162.12 457.92L162.37 458.44L162.63 459.05L162.88 459.32L163.13 459.85L163.38 460.13L163.64 460.74L163.89 461.03L164.14 461.43L164.40 461.80L164.65 462.25L164.90 462.78L165.15 463.38L165.41 463.61L165.66 464.11L165.91 464.68L166.17 465.14L166.42 465.51L166.67 465.82L166.92 466.34L167.18 466.64L167.43 467.18L167.68 467.59L167.94 468.09L168.19 468.38L168.44 468.80L168.70 469.19L168.95 469.75L169.20 470.16L169.45 470.34L169.71 470.93L169.96 471.13L170.21 471.65L170.47 471.95L170.72 472.43L170.97 472.53L171.22 472.83L171.48 473.37L171.73 473.50L171.98 473.78L172.24 474.10L172.49 474.34L172.74 474.73L173.00 474.96L173.25 475.32L173.50 475.53L173.75 475.83L174.01 476.03L174.26 476.09L174.51 476.33L174.77 476.59L175.02 476.92L175.27 477.22L175.52 477.45L175.78 477.68L176.03 477.95L176.28 478.28L176.54 478.71L176.79 478.90L177.04 479.36L177.30 479.82L177.55 480.14L177.80 480.41L178.05 480.90L178.31 481.12L178.56 481.80L178.81 482.19L179.07 482.67L179.32 482.93L179.57 483.61L179.82 484.19L180.08 484.84L180.33 485.38L180.58 485.86L180.84 487.06L181.09 488.43L181.34 489.99L181.60 491.85L181.85 493.66L182.10 495.46L182.35 497.07L182.61 498.37L182.86 499.36L183.11 499.55L183.37 499.32L183.62 498.85L183.87 498.22L184.12 497.89L184.38 497.53L184.63 497.43L184.88 497.59L185.14 498.10L185.39 498.50L185.64 499.16L185.89 499.97L186.15 500.54L186.40 501.24L186.65 501.71L186.91 502.42L187.16 502.57L187.41 502.75L187.67 500.65L187.92 495.72L188.17 489.78L188.42 484.30L188.68 481.29L188.93 481.60L189.18 483.75L189.44 486.95L189.69 490.55L189.94 493.85L190.19 496.43L190.45 497.88L190.70 498.46L190.95 499.16L191.21 499.95L191.46 500.57L191.71 500.94L191.97 501.46L192.22 502.11L192.47 502.63L192.72 503.02L192.98 503.33L193.23 503.70L193.48 504.58L193.74 504.18L193.99 504.86L194.24 505.15L194.49 504.55L194.75 505.95L195.00 505.82L195.25 506.28L195.51 506.65L195.76 505.61L196.01 506.61L196.27 506.74L196.52 506.33L196.77 507.69L197.02 507.96L197.28 507.06L197.53 507.69L197.78 508.26L198.04 507.67L198.29 508.27L198.54 508.62L198.79 508.35L199.05 509.78L199.30 509.68L199.55 509.58L199.81 509.44L200.06 510.23L200.31 509.31L200.57 510.35L200.82 510.15L201.07 509.84L201.32 510.88L201.58 510.25L201.83 510.82L202.08 510.96L202.34 511.18L202.59 511.18L202.84 511.01L203.09 511.94L203.35 511.02L203.60 511.63L203.85 512.05L204.11 512.52L204.36 512.57L204.61 511.83L204.86 511.60L205.12 512.89L205.37 512.98L205.62 512.89L205.88 513.11L206.13 512.02L206.38 512.92L206.64 512.27L206.89 513.52L207.14 513.66L207.39 512.48L207.65 513.71L207.90 513.07L208.15 513.56L208.41 513.35L208.66 513.26L208.91 513.87L209.16 513.50L209.42 514.03L209.67 513.74L209.92 513.82L210.18 514.13L210.43 513.54L210.68 513.52L210.94 513.74L211.19 513.74L211.44 514.54L211.69 513.61L211.95 513.54L212.20 514.06" fill="none" stroke="#7f00ff" stroke-width="1.40" stroke-linejoin="round"/>
</g>
<rect x="31.70" y="390.40" width="61" height="21" fill="#fff" stroke="#c8c8c8" stroke-width="0.7"/>
<line x1="32.30" y1="396.10" x2="50.30" y2="396.10" stroke="#f55050" stroke-width="1.00"/>
<text x="52.70" y="398.80" class="lg">Flat cutter</text>
<line x1="32.30" y1="405.80" x2="50.30" y2="405.80" stroke="#8a33ff" stroke-width="1.60"/>
<text x="52.70" y="408.50" class="lg">Dome cutter</text>
</g>
<g>
<rect x="255.70" y="386.30" width="190.00" height="152.20" fill="none" stroke="#555" stroke-width="1.2"/>
<path d="M287.37 538.50V535.90M319.03 538.50V535.90M350.70 538.50V535.90M382.37 538.50V535.90M414.03 538.50V535.90M255.70 523.28H258.30M255.70 508.06H258.30M255.70 492.84H258.30M255.70 477.62H258.30M255.70 462.40H258.30M255.70 447.18H258.30M255.70 431.96H258.30M255.70 416.74H258.30M255.70 401.52H258.30" stroke="#555" stroke-width="0.8" fill="none"/>
<text transform="translate(255.70 547.20) scale(1 1.10)" class="tk" text-anchor="middle">0.0</text>
<text transform="translate(287.37 547.20) scale(1 1.10)" class="tk" text-anchor="middle">0.5</text>
<text transform="translate(319.03 547.20) scale(1 1.10)" class="tk" text-anchor="middle">1.0</text>
<text transform="translate(350.70 547.20) scale(1 1.10)" class="tk" text-anchor="middle">1.5</text>
<text transform="translate(382.37 547.20) scale(1 1.10)" class="tk" text-anchor="middle">2.0</text>
<text transform="translate(414.03 547.20) scale(1 1.10)" class="tk" text-anchor="middle">2.5</text>
<text transform="translate(445.70 547.20) scale(1 1.10)" class="tk" text-anchor="middle">3.0</text>
<text transform="translate(252.20 541.10) scale(1 1.10)" class="tk" text-anchor="end">-10</text>
<text transform="translate(252.20 525.88) scale(1 1.10)" class="tk" text-anchor="end">-8</text>
<text transform="translate(252.20 510.66) scale(1 1.10)" class="tk" text-anchor="end">-6</text>
<text transform="translate(252.20 495.44) scale(1 1.10)" class="tk" text-anchor="end">-4</text>
<text transform="translate(252.20 480.22) scale(1 1.10)" class="tk" text-anchor="end">-2</text>
<text transform="translate(252.20 465.00) scale(1 1.10)" class="tk" text-anchor="end">0</text>
<text transform="translate(252.20 449.78) scale(1 1.10)" class="tk" text-anchor="end">2</text>
<text transform="translate(252.20 434.56) scale(1 1.10)" class="tk" text-anchor="end">4</text>
<text transform="translate(252.20 419.34) scale(1 1.10)" class="tk" text-anchor="end">6</text>
<text transform="translate(252.20 404.12) scale(1 1.10)" class="tk" text-anchor="end">8</text>
<text transform="translate(252.20 388.90) scale(1 1.10)" class="tk" text-anchor="end">10</text>
<text x="350.70" y="560.10" class="al" text-anchor="middle">Time (s)</text>
<text transform="translate(240.50 462.40) rotate(-90)" class="al" text-anchor="middle">Angular velocity (rad/s)</text>
<g clip-path="url(#c21)">
<path d="M255.70 462.44L255.95 446.68L256.21 446.57L256.46 446.57L256.71 446.68L256.97 446.72L257.22 446.59L257.47 446.59L257.73 446.69L257.98 446.64L258.23 446.63L258.49 446.62L258.74 446.56L258.99 446.64L259.25 446.61L259.50 446.63L259.75 446.66L260.01 446.68L260.26 446.67L260.51 446.70L260.77 446.55L261.02 446.68L261.27 446.66L261.53 446.72L261.78 446.74L262.03 446.55L262.29 446.71L262.54 446.60L262.79 446.67L263.05 446.70L263.30 446.72L263.55 446.74L263.81 446.67L264.06 446.72L264.31 446.65L264.57 446.59L264.82 446.58L265.07 446.65L265.33 446.70L265.58 446.64L265.83 446.68L266.09 446.57L266.34 446.74L266.59 446.64L266.85 446.71L267.10 446.69L267.35 446.70L267.61 446.62L267.86 446.57L268.11 446.64L268.37 446.61L268.62 446.63L268.87 446.75L269.13 446.61L269.38 446.70L269.63 446.58L269.89 446.67L270.14 446.62L270.39 446.60L270.65 446.63L270.90 446.73L271.15 446.66L271.41 446.65L271.66 446.71L271.91 446.65L272.17 446.57L272.42 446.57L272.67 446.69L272.93 446.64L273.18 446.59L273.43 446.74L273.69 446.60L273.94 446.70L274.19 446.61L274.45 446.70L274.70 446.65L274.95 446.55L275.21 446.69L275.46 446.61L275.71 446.63L275.97 446.69L276.22 446.75L276.47 446.64L276.73 446.68L276.98 446.64L277.23 446.68L277.49 446.58L277.74 446.75L277.99 446.58L278.25 446.68L278.50 446.56L278.75 446.56L279.01 446.72L279.26 446.70L279.51 446.57L279.77 446.60L280.02 446.56L280.27 446.73L280.53 446.72L280.78 446.70L281.03 446.69L281.29 446.68L281.54 446.55L281.79 446.56L282.05 446.61L282.30 446.66L282.55 446.71L282.81 446.64L283.06 446.60L283.31 446.67L283.57 446.74L283.82 446.64L284.07 446.66L284.33 446.61L284.58 446.70L284.83 446.58L285.09 446.68L285.34 446.59L285.59 446.68L285.85 446.65L286.10 446.71L286.35 446.66L286.61 446.73L286.86 446.64L287.11 446.55L287.37 446.74L287.62 446.70L287.87 446.71L288.13 446.71L288.38 446.57L288.63 446.72L288.89 446.56L289.14 446.61L289.39 446.58L289.65 446.64L289.90 446.59L290.15 446.59L290.41 446.66L290.66 446.58L290.91 446.64L291.17 446.69L291.42 446.55L291.67 446.72L291.93 446.70L292.18 446.70L292.43 446.69L292.69 446.74L292.94 446.58L293.19 446.56L293.45 446.70L293.70 446.55L293.95 446.67L294.21 446.67L294.46 446.73L294.71 446.57L294.97 446.62L295.22 446.70L295.47 446.62L295.73 446.61L295.98 446.58L296.23 446.55L296.49 446.65L296.74 446.56L296.99 446.64L297.25 446.69L297.50 446.63L297.75 446.67L298.01 446.74L298.26 446.58L298.51 446.68L298.77 446.68L299.02 446.65L299.27 446.62L299.53 446.58L299.78 446.62L300.03 446.66L300.29 446.74L300.54 446.60L300.79 446.72L301.05 446.70L301.30 446.62L301.55 446.66L301.81 446.55L302.06 446.74L302.31 446.65L302.57 446.58L302.82 446.71L303.07 446.72L303.33 446.69L303.58 446.74L303.83 446.60L304.09 446.66L304.34 446.64L304.59 446.67L304.85 446.60L305.10 446.68L305.35 446.64L305.61 446.62L305.86 446.69L306.11 446.60L306.37 446.61L306.62 446.75L306.87 446.63L307.13 446.61L307.38 446.74L307.63 446.73L307.89 446.73L308.14 446.57L308.39 446.71L308.65 446.59L308.90 446.68L309.15 446.72L309.41 446.70L309.66 446.56L309.91 446.67L310.17 446.58L310.42 446.71L310.67 446.59L310.93 446.59L311.18 446.62L311.43 446.66L311.69 446.73L311.94 446.58L312.19 446.72L312.45 446.63L312.70 446.75L312.95 446.67L313.21 446.59L313.46 446.65L313.71 446.70L313.97 446.71L314.22 446.64L314.47 446.62L314.73 446.69L314.98 446.57L315.23 446.69L315.49 446.63L315.74 446.69L315.99 446.56L316.25 446.60L316.50 446.60L316.75 446.61L317.01 446.74L317.26 446.72L317.51 446.56L317.77 446.66L318.02 446.74L318.27 446.71L318.53 446.56L318.78 446.70L319.03 446.70L319.29 446.73L319.54 446.66L319.79 446.63L320.05 446.58L320.30 446.67L320.55 446.60L320.81 446.60L321.06 446.65L321.31 446.56L321.57 446.64L321.82 446.60L322.07 446.64L322.33 446.58L322.58 446.70L322.83 446.72L323.09 446.69L323.34 446.73L323.59 446.72L323.85 446.67L324.10 446.70L324.35 446.58L324.61 446.66L324.86 446.74L325.11 446.70L325.37 446.74L325.62 446.61L325.87 446.58L326.13 446.56L326.38 446.55L326.63 446.67L326.89 446.69L327.14 446.58L327.39 446.74L327.65 446.60L327.90 446.59L328.15 446.69L328.41 446.55L328.66 446.64L328.91 446.68L329.17 446.66L329.42 446.59L329.67 446.71L329.93 446.66L330.18 446.66L330.43 446.62L330.69 446.74L330.94 446.56L331.19 446.60L331.45 446.69L331.70 446.61L331.95 446.70L332.21 446.70L332.46 446.63L332.71 446.72L332.97 446.69L333.22 446.68L333.47 446.66L333.73 446.66L333.98 446.73L334.23 446.71L334.49 446.60L334.74 446.73L334.99 446.67L335.25 446.64L335.50 446.65L335.75 446.66L336.01 446.64L336.26 446.74L336.51 446.70L336.77 446.57L337.02 446.60L337.27 446.62L337.53 446.74L337.78 446.66L338.03 446.67L338.29 446.74L338.54 446.71L338.79 446.59L339.05 446.60L339.30 446.67L339.55 446.65L339.81 446.55L340.06 446.66L340.31 446.74L340.57 446.68L340.82 446.57L341.07 446.69L341.33 446.58L341.58 446.74L341.83 446.66L342.09 446.73L342.34 446.70L342.59 446.74L342.85 446.65L343.10 446.65L343.35 446.56L343.61 446.68L343.86 446.60L344.11 446.60L344.37 446.67L344.62 446.68L344.87 446.57L345.13 446.65L345.38 446.55L345.63 446.55L345.89 446.66L346.14 446.69L346.39 446.63L346.65 446.67L346.90 446.71L347.15 446.66L347.41 446.72L347.66 446.64L347.91 446.71L348.17 446.68L348.42 446.67L348.67 446.65L348.93 446.71L349.18 446.67L349.43 446.72L349.69 446.72L349.94 446.68L350.19 446.62L350.45 446.74L350.70 446.67L350.95 446.60L351.21 446.71L351.46 446.59L351.71 446.55L351.97 446.73L352.22 446.60L352.47 446.62L352.73 446.64L352.98 446.57L353.23 446.65L353.49 446.62L353.74 446.56L353.99 446.62L354.25 446.68L354.50 446.73L354.75 446.67L355.01 446.74L355.26 446.67L355.51 446.63L355.77 446.67L356.02 446.67L356.27 446.71L356.53 446.64L356.78 446.71L357.03 446.59L357.29 446.61L357.54 446.63L357.79 446.60L358.05 446.61L358.30 446.62L358.55 446.70L358.81 446.64L359.06 446.59L359.31 446.56L359.57 446.72L359.82 446.69L360.07 446.68L360.33 446.56L360.58 446.55L360.83 446.61L361.09 446.55L361.34 446.59L361.59 446.74L361.85 446.64L362.10 446.70L362.35 446.73L362.61 446.65L362.86 446.70L363.11 446.67L363.37 446.64L363.62 446.70L363.87 446.59L364.13 446.60L364.38 446.66L364.63 446.60L364.89 446.57L365.14 446.66L365.39 446.69L365.65 446.62L365.90 446.63L366.15 446.67L366.41 446.60L366.66 446.61L366.91 446.58L367.17 446.69L367.42 446.64L367.67 446.70L367.93 446.65L368.18 446.71L368.43 446.68L368.69 446.64L368.94 446.67L369.19 446.68L369.45 446.58L369.70 446.64L369.95 446.58L370.21 446.70L370.46 446.65L370.71 446.71L370.97 446.62L371.22 446.72L371.47 446.56L371.73 446.56L371.98 446.61L372.23 446.59L372.49 446.64L372.74 446.60L372.99 446.69L373.25 446.71L373.50 446.71L373.75 446.71L374.01 446.57L374.26 446.59L374.51 446.72L374.77 446.73L375.02 446.74L375.27 446.73L375.53 446.65L375.78 446.60L376.03 446.55L376.29 446.65L376.54 446.56L376.79 446.66L377.05 446.57L377.30 446.58L377.55 446.59L377.81 446.64L378.06 446.59L378.31 446.63L378.57 446.73L378.82 446.63L379.07 446.72L379.33 446.63L379.58 446.58L379.83 446.62L380.09 446.72L380.34 446.67L380.59 446.62L380.85 446.59L381.10 446.68L381.35 446.63L381.61 446.71L381.86 446.58L382.11 446.73L382.37 446.70L382.62 446.70L382.87 446.66L383.13 446.68L383.38 446.59L383.63 446.65L383.89 446.67L384.14 446.62L384.39 446.66L384.65 446.73L384.90 446.63L385.15 446.61L385.41 446.64L385.66 446.72L385.91 446.58L386.17 446.63L386.42 446.68L386.67 446.61L386.93 446.65L387.18 446.73L387.43 446.61L387.69 446.64L387.94 446.56L388.19 446.67L388.45 446.57L388.70 446.57L388.95 446.68L389.21 446.66L389.46 446.70L389.71 446.59L389.97 446.55L390.22 446.72L390.47 446.71L390.73 446.62L390.98 446.58L391.23 446.68L391.49 446.66L391.74 446.65L391.99 446.56L392.25 446.57L392.50 446.62L392.75 446.62L393.01 446.72L393.26 446.57L393.51 446.70L393.77 446.58L394.02 446.66L394.27 446.72L394.53 446.57L394.78 446.72L395.03 446.69L395.29 446.69L395.54 446.65L395.79 446.56L396.05 446.72L396.30 446.72L396.55 446.57L396.81 446.65L397.06 446.59L397.31 446.71L397.57 446.60L397.82 446.63L398.07 446.70L398.33 446.61L398.58 446.56L398.83 446.60L399.09 446.61L399.34 446.57L399.59 446.72L399.85 446.62L400.10 446.61L400.35 446.68L400.61 446.61L400.86 446.67L401.11 446.69L401.37 446.66L401.62 446.56L401.87 446.74L402.13 446.74L402.38 446.64L402.63 446.63L402.89 446.68L403.14 446.62L403.39 446.61L403.65 446.60L403.90 446.56L404.15 446.72L404.41 446.57L404.66 446.61L404.91 446.71L405.17 446.70L405.42 446.72L405.67 446.55L405.93 446.61L406.18 446.64L406.43 446.68L406.69 446.61L406.94 446.64L407.19 446.74L407.45 446.63L407.70 446.71L407.95 446.66L408.21 446.74L408.46 446.70L408.71 446.57L408.97 446.69L409.22 446.68L409.47 446.72L409.73 446.64L409.98 446.58L410.23 446.74L410.49 446.59L410.74 446.61L410.99 446.61L411.25 446.63L411.50 446.63L411.75 446.63L412.01 446.65L412.26 446.72L412.51 446.73L412.77 446.64L413.02 446.62L413.27 446.60L413.53 446.68L413.78 446.72L414.03 446.65L414.29 446.71L414.54 446.61L414.79 446.67L415.05 446.57L415.30 446.63L415.55 446.62L415.81 446.65L416.06 446.61L416.31 446.65L416.57 446.62L416.82 446.59L417.07 446.58L417.33 446.60L417.58 446.70L417.83 446.63L418.09 446.60L418.34 446.70L418.59 446.67L418.85 446.66L419.10 446.73L419.35 446.66L419.61 446.68L419.86 446.65L420.11 446.57L420.37 446.62L420.62 446.71L420.87 446.73L421.13 446.60L421.38 446.58L421.63 446.65L421.89 446.68L422.14 446.73L422.39 446.58L422.65 446.73L422.90 446.74L423.15 446.74L423.41 446.60L423.66 446.66L423.91 446.61L424.17 446.69L424.42 446.57L424.67 446.70L424.93 446.59L425.18 446.57L425.43 446.57L425.69 446.56L425.94 446.61L426.19 446.61L426.45 446.72L426.70 446.62L426.95 446.69L427.21 446.59L427.46 446.61L427.71 446.68L427.97 446.59L428.22 446.75L428.47 446.60L428.73 446.70L428.98 446.74L429.23 446.61L429.49 446.62L429.74 446.65L429.99 446.68L430.25 446.73L430.50 446.58L430.75 446.70L431.01 446.74L431.26 446.55L431.51 446.59L431.77 446.62L432.02 446.73L432.27 446.56L432.53 446.62L432.78 446.68L433.03 446.68L433.29 446.66L433.54 446.75L433.79 446.61L434.05 446.58L434.30 446.61L434.55 446.56L434.81 446.57L435.06 446.61L435.31 446.68L435.57 446.57L435.82 446.67L436.07 446.66L436.33 446.63L436.58 446.72L436.83 446.66L437.09 446.55L437.34 446.72L437.59 446.71L437.85 446.58L438.10 446.64L438.35 446.62L438.61 446.67L438.86 446.75L439.11 446.66L439.37 446.55L439.62 446.58L439.87 446.74L440.13 446.73L440.38 446.64L440.63 446.74L440.89 446.56L441.14 446.72L441.39 446.73L441.65 446.71L441.90 446.63L442.15 446.70L442.41 446.68L442.66 446.65L442.91 446.64L443.17 446.73L443.42 446.67L443.67 446.56L443.93 446.70L444.18 446.68L444.43 446.59L444.69 446.66L444.94 446.62L445.19 446.58L445.45 446.56L445.70 446.56" fill="none" stroke="#f0403c" stroke-width="1.10" stroke-linejoin="round"/>
<path d="M255.70 462.37L255.95 446.63L256.21 446.66L256.46 446.65L256.71 446.66L256.97 446.66L257.22 446.72L257.47 446.56L257.73 446.70L257.98 446.71L258.23 446.69L258.49 446.63L258.74 446.74L258.99 446.55L259.25 446.71L259.50 446.67L259.75 446.56L260.01 446.61L260.26 446.62L260.51 446.58L260.77 446.68L261.02 446.64L261.27 446.69L261.53 446.62L261.78 446.56L262.03 446.69L262.29 446.69L262.54 446.56L262.79 446.64L263.05 446.64L263.30 446.73L263.55 446.67L263.81 446.61L264.06 446.72L264.31 446.61L264.57 446.69L264.82 446.59L265.07 446.59L265.33 446.58L265.58 446.71L265.83 446.59L266.09 446.60L266.34 446.59L266.59 446.71L266.85 446.65L267.10 446.59L267.35 446.73L267.61 446.71L267.86 446.61L268.11 446.61L268.37 446.57L268.62 446.57L268.87 446.69L269.13 446.71L269.38 446.68L269.63 446.60L269.89 446.72L270.14 446.60L270.39 446.60L270.65 446.68L270.90 446.60L271.15 446.71L271.41 446.61L271.66 446.72L271.91 446.72L272.17 446.67L272.42 446.72L272.67 446.68L272.93 446.62L273.18 446.60L273.43 446.70L273.69 446.58L273.94 446.69L274.19 446.66L274.45 446.55L274.70 446.59L274.95 446.65L275.21 446.59L275.46 446.68L275.71 446.69L275.97 446.74L276.22 446.73L276.47 446.67L276.73 446.68L276.98 446.69L277.23 446.57L277.49 446.56L277.74 446.72L277.99 446.71L278.25 446.64L278.50 446.59L278.75 446.57L279.01 446.70L279.26 446.61L279.51 446.67L279.77 446.63L280.02 446.64L280.27 446.63L280.53 446.61L280.78 446.67L281.03 446.65L281.29 446.58L281.54 446.70L281.79 446.71L282.05 446.65L282.30 446.69L282.55 446.69L282.81 446.67L283.06 446.60L283.31 446.63L283.57 446.62L283.82 446.62L284.07 446.63L284.33 446.51L284.58 446.31L284.83 446.47L285.09 446.77L285.34 446.54L285.59 446.85L285.85 446.96L286.10 446.55L286.35 446.57L286.61 446.44L286.86 446.34L287.11 446.68L287.37 446.94L287.62 446.87L287.87 446.59L288.13 446.63L288.38 446.61L288.63 446.68L288.89 446.27L289.14 446.71L289.39 446.44L289.65 446.37L289.90 446.31L290.15 447.03L290.41 446.93L290.66 446.75L290.91 446.27L291.17 446.55L291.42 446.76L291.67 446.34L291.93 446.73L292.18 446.42L292.43 447.00L292.69 446.51L292.94 446.34L293.19 446.27L293.45 446.39L293.70 446.81L293.95 446.37L294.21 446.59L294.46 446.52L294.71 446.99L294.97 446.97L295.22 446.55L295.47 446.53L295.73 446.67L295.98 446.98L296.23 446.96L296.49 446.37L296.74 446.92L296.99 446.86L297.25 446.75L297.50 446.82L297.75 446.65L298.01 446.79L298.26 446.72L298.51 446.73L298.77 446.84L299.02 446.77L299.27 446.41L299.53 446.58L299.78 446.87L300.03 446.51L300.29 446.55L300.54 446.56L300.79 446.30L301.05 446.62L301.30 446.94L301.55 446.47L301.81 446.99L302.06 446.53L302.31 446.51L302.57 446.33L302.82 446.37L303.07 446.36L303.33 446.53L303.58 446.81L303.83 446.45L304.09 446.48L304.34 446.27L304.59 446.61L304.85 446.26L305.10 446.26L305.35 446.86L305.61 446.90L305.86 446.49L306.11 446.70L306.37 446.36L306.62 446.94L306.87 446.92L307.13 446.82L307.38 446.49L307.63 446.71L307.89 446.76L308.14 447.01L308.39 446.34L308.65 446.99L308.90 446.55L309.15 446.80L309.41 446.33L309.66 446.57L309.91 446.55L310.17 447.04L310.42 446.28L310.67 446.44L310.93 447.01L311.18 446.95L311.43 446.37L311.69 447.01L311.94 446.71L312.19 446.94L312.45 446.98L312.70 446.92L312.95 446.65L313.21 446.32L313.46 446.30L313.71 446.79L313.97 446.65L314.22 446.44L314.47 446.29L314.73 446.41L314.98 446.65L315.23 446.42L315.49 446.72L315.74 446.76L315.99 446.34L316.25 446.93L316.50 446.93L316.75 446.97L317.01 447.01L317.26 446.74L317.51 446.41L317.77 446.91L318.02 447.01L318.27 446.47L318.53 446.86L318.78 446.45L319.03 446.74L319.29 446.70L319.54 446.57L319.79 446.67L320.05 446.72L320.30 446.73L320.55 446.73L320.81 446.68L321.06 446.61L321.31 446.67L321.57 446.57L321.82 446.64L322.07 446.60L322.33 446.58L322.58 446.65L322.83 446.74L323.09 446.66L323.34 446.57L323.59 446.66L323.85 446.66L324.10 446.65L324.35 446.65L324.61 446.68L324.86 446.57L325.11 446.72L325.37 446.61L325.62 446.69L325.87 446.64L326.13 446.73L326.38 446.56L326.63 446.72L326.89 446.75L327.14 446.59L327.39 446.69L327.65 446.55L327.90 446.56L328.15 446.65L328.41 446.68L328.66 446.58L328.91 446.56L329.17 446.64L329.42 446.73L329.67 446.68L329.93 446.58L330.18 446.62L330.43 446.55L330.69 446.68L330.94 446.59L331.19 446.56L331.45 446.60L331.70 446.57L331.95 446.71L332.21 446.59L332.46 446.68L332.71 446.60L332.97 446.57L333.22 446.62L333.47 446.65L333.73 446.68L333.98 446.73L334.23 446.63L334.49 446.62L334.74 446.70L334.99 446.59L335.25 446.57L335.50 446.60L335.75 446.61L336.01 446.72L336.26 446.68L336.51 446.68L336.77 446.56L337.02 446.60L337.27 446.60L337.53 446.56L337.78 446.55L338.03 446.74L338.29 446.63L338.54 446.72L338.79 446.67L339.05 446.64L339.30 446.71L339.55 446.62L339.81 446.65L340.06 446.70L340.31 446.56L340.57 446.69L340.82 446.72L341.07 446.67L341.33 446.69L341.58 446.68L341.83 446.57L342.09 446.60L342.34 446.63L342.59 446.68L342.85 446.56L343.10 446.63L343.35 446.73L343.61 446.62L343.86 446.70L344.11 446.73L344.37 446.70L344.62 446.63L344.87 446.69L345.13 446.70L345.38 446.59L345.63 446.69L345.89 446.73L346.14 446.59L346.39 446.67L346.65 446.70L346.90 446.56L347.15 446.61L347.41 446.56L347.66 446.70L347.91 446.58L348.17 446.60L348.42 446.63L348.67 446.67L348.93 446.69L349.18 446.56L349.43 446.68L349.69 446.65L349.94 446.58L350.19 446.67L350.45 446.61L350.70 446.66L350.95 446.64L351.21 446.60L351.46 446.71L351.71 446.64L351.97 446.74L352.22 446.69L352.47 446.58L352.73 446.61L352.98 446.63L353.23 446.70L353.49 446.62L353.74 446.70L353.99 446.68L354.25 446.55L354.50 446.75L354.75 446.73L355.01 446.63L355.26 446.73L355.51 446.72L355.77 446.63L356.02 446.67L356.27 446.61L356.53 446.58L356.78 446.55L357.03 446.64L357.29 446.65L357.54 446.73L357.79 446.63L358.05 446.65L358.30 446.66L358.55 446.66L358.81 446.58L359.06 446.67L359.31 446.71L359.57 446.65L359.82 446.60L360.07 446.63L360.33 446.60L360.58 446.60L360.83 446.67L361.09 446.69L361.34 446.61L361.59 446.61L361.85 446.61L362.10 446.73L362.35 446.60L362.61 446.61L362.86 446.68L363.11 446.66L363.37 446.58L363.62 446.59L363.87 446.62L364.13 446.69L364.38 446.64L364.63 446.64L364.89 446.61L365.14 446.56L365.39 446.74L365.65 446.59L365.90 446.61L366.15 446.73L366.41 446.59L366.66 446.72L366.91 446.63L367.17 446.64L367.42 446.58L367.67 446.58L367.93 446.60L368.18 446.61L368.43 446.67L368.69 446.64L368.94 446.61L369.19 446.59L369.45 446.70L369.70 446.59L369.95 446.74L370.21 446.62L370.46 446.61L370.71 446.59L370.97 446.68L371.22 446.65L371.47 446.58L371.73 446.72L371.98 446.73L372.23 446.55L372.49 446.56L372.74 446.70L372.99 446.64L373.25 446.76L373.50 446.96L373.75 446.60L374.01 446.49L374.26 446.84L374.51 446.89L374.77 446.44L375.02 446.84L375.27 446.92L375.53 446.47L375.78 446.90L376.03 446.81L376.29 446.54L376.54 446.55L376.79 446.77L377.05 446.41L377.30 446.31L377.55 446.26L377.81 446.25L378.06 446.76L378.31 446.76L378.57 446.57L378.82 446.44L379.07 446.76L379.33 446.67L379.58 446.32L379.83 446.40L380.09 446.43L380.34 446.67L380.59 446.53L380.85 446.58L381.10 446.44L381.35 446.28L381.61 446.67L381.86 446.74L382.11 446.46L382.37 446.61L382.62 446.93L382.87 446.97L383.13 446.94L383.38 446.37L383.63 446.59L383.89 446.92L384.14 446.42L384.39 447.01L384.65 446.81L384.90 446.43L385.15 446.31L385.41 447.04L385.66 446.93L385.91 446.95L386.17 446.84L386.42 446.38L386.67 446.52L386.93 447.04L387.18 446.98L387.43 446.76L387.69 446.59L387.94 446.29L388.19 446.26L388.45 446.91L388.70 446.56L388.95 446.98L389.21 446.58L389.46 446.81L389.71 446.73L389.97 446.65L390.22 446.63L390.47 446.44L390.73 446.30L390.98 446.77L391.23 446.33L391.49 446.64L391.74 446.42L391.99 446.70L392.25 446.94L392.50 446.91L392.75 446.76L393.01 446.43L393.26 446.79L393.51 446.66L393.77 446.57L394.02 446.73L394.27 446.74L394.53 446.30L394.78 446.25L395.03 446.74L395.29 446.86L395.54 446.96L395.79 446.83L396.05 446.97L396.30 446.88L396.55 446.78L396.81 446.83L397.06 446.69L397.31 446.42L397.57 446.27L397.82 446.81L398.07 446.57L398.33 446.46L398.58 446.56L398.83 446.88L399.09 446.48L399.34 446.66L399.59 446.42L399.85 446.42L400.10 446.61L400.35 446.85L400.61 446.91L400.86 446.51L401.11 447.00L401.37 446.79L401.62 446.92L401.87 446.68L402.13 446.76L402.38 446.31L402.63 446.48L402.89 446.52L403.14 446.88L403.39 446.61L403.65 446.79L403.90 446.30L404.15 446.59L404.41 446.25L404.66 446.26L404.91 446.59L405.17 446.70L405.42 446.28L405.67 446.75L405.93 446.88L406.18 447.03L406.43 446.57L406.69 446.92L406.94 446.26L407.19 446.78L407.45 446.61L407.70 446.83L407.95 446.93L408.21 446.69L408.46 446.39L408.71 447.03L408.97 446.48L409.22 446.58L409.47 446.79L409.73 446.40L409.98 446.32L410.23 446.44L410.49 446.80L410.74 446.99L410.99 446.30L411.25 446.49L411.50 446.25L411.75 446.73L412.01 446.43L412.26 446.79L412.51 446.64L412.77 446.67L413.02 446.69L413.27 446.74L413.53 446.70L413.78 446.62L414.03 446.66L414.29 446.60L414.54 446.61L414.79 446.65L415.05 446.57L415.30 446.68L415.55 446.60L415.81 446.68L416.06 446.62L416.31 446.56L416.57 446.73L416.82 446.67L417.07 446.64L417.33 446.57L417.58 446.68L417.83 446.74L418.09 446.68L418.34 446.70L418.59 446.72L418.85 446.73L419.10 446.58L419.35 446.59L419.61 446.69L419.86 446.66L420.11 446.58L420.37 446.56L420.62 446.71L420.87 446.65L421.13 446.71L421.38 446.73L421.63 446.60L421.89 446.68L422.14 446.57L422.39 446.70L422.65 446.65L422.90 446.74L423.15 446.55L423.41 446.73L423.66 446.57L423.91 446.57L424.17 446.68L424.42 446.58L424.67 446.70L424.93 446.65L425.18 446.58L425.43 446.74L425.69 446.69L425.94 446.65L426.19 446.59L426.45 446.61L426.70 446.70L426.95 446.68L427.21 446.68L427.46 446.62L427.71 446.63L427.97 446.57L428.22 446.67L428.47 446.62L428.73 446.69L428.98 446.74L429.23 446.72L429.49 446.72L429.74 446.72L429.99 446.63L430.25 446.56L430.50 446.57L430.75 446.61L431.01 446.61L431.26 446.73L431.51 446.69L431.77 446.64L432.02 446.72L432.27 446.71L432.53 446.60L432.78 446.55L433.03 446.61L433.29 446.61L433.54 446.56L433.79 446.74L434.05 446.65L434.30 446.60L434.55 446.70L434.81 446.58L435.06 446.73L435.31 446.59L435.57 446.69L435.82 446.58L436.07 446.63L436.33 446.59L436.58 446.71L436.83 446.72L437.09 446.63L437.34 446.57L437.59 446.65L437.85 446.62L438.10 446.74L438.35 446.67L438.61 446.58L438.86 446.66L439.11 446.65L439.37 446.68L439.62 446.64L439.87 446.55L440.13 446.56L440.38 446.71L440.63 446.68L440.89 446.74L441.14 446.58L441.39 446.61L441.65 446.63L441.90 446.73L442.15 446.66L442.41 446.63L442.66 446.62L442.91 446.57L443.17 446.62L443.42 446.74L443.67 446.74L443.93 446.69L444.18 446.72L444.43 446.72L444.69 446.65L444.94 446.67L445.19 446.72L445.45 446.71L445.70 446.71" fill="none" stroke="#7f00ff" stroke-width="1.40" stroke-linejoin="round"/>
</g>
<rect x="264.90" y="390.40" width="61" height="21" fill="#fff" stroke="#c8c8c8" stroke-width="0.7"/>
<line x1="265.50" y1="396.10" x2="283.50" y2="396.10" stroke="#f55050" stroke-width="1.00"/>
<text x="285.90" y="398.80" class="lg">Flat cutter</text>
<line x1="265.50" y1="405.80" x2="283.50" y2="405.80" stroke="#8a33ff" stroke-width="1.60"/>
<text x="285.90" y="408.50" class="lg">Dome cutter</text>
</g>
<g>
<rect x="489.20" y="386.30" width="189.70" height="152.20" fill="none" stroke="#555" stroke-width="1.2"/>
<path d="M520.82 538.50V535.90M552.43 538.50V535.90M584.05 538.50V535.90M615.67 538.50V535.90M647.28 538.50V535.90M489.20 523.28H491.80M489.20 508.06H491.80M489.20 492.84H491.80M489.20 477.62H491.80M489.20 462.40H491.80M489.20 447.18H491.80M489.20 431.96H491.80M489.20 416.74H491.80M489.20 401.52H491.80" stroke="#555" stroke-width="0.8" fill="none"/>
<text transform="translate(489.20 547.20) scale(1 1.10)" class="tk" text-anchor="middle">0.0</text>
<text transform="translate(520.82 547.20) scale(1 1.10)" class="tk" text-anchor="middle">0.5</text>
<text transform="translate(552.43 547.20) scale(1 1.10)" class="tk" text-anchor="middle">1.0</text>
<text transform="translate(584.05 547.20) scale(1 1.10)" class="tk" text-anchor="middle">1.5</text>
<text transform="translate(615.67 547.20) scale(1 1.10)" class="tk" text-anchor="middle">2.0</text>
<text transform="translate(647.28 547.20) scale(1 1.10)" class="tk" text-anchor="middle">2.5</text>
<text transform="translate(678.90 547.20) scale(1 1.10)" class="tk" text-anchor="middle">3.0</text>
<text transform="translate(485.70 541.10) scale(1 1.10)" class="tk" text-anchor="end">-10</text>
<text transform="translate(485.70 525.88) scale(1 1.10)" class="tk" text-anchor="end">-8</text>
<text transform="translate(485.70 510.66) scale(1 1.10)" class="tk" text-anchor="end">-6</text>
<text transform="translate(485.70 495.44) scale(1 1.10)" class="tk" text-anchor="end">-4</text>
<text transform="translate(485.70 480.22) scale(1 1.10)" class="tk" text-anchor="end">-2</text>
<text transform="translate(485.70 465.00) scale(1 1.10)" class="tk" text-anchor="end">0</text>
<text transform="translate(485.70 449.78) scale(1 1.10)" class="tk" text-anchor="end">2</text>
<text transform="translate(485.70 434.56) scale(1 1.10)" class="tk" text-anchor="end">4</text>
<text transform="translate(485.70 419.34) scale(1 1.10)" class="tk" text-anchor="end">6</text>
<text transform="translate(485.70 404.12) scale(1 1.10)" class="tk" text-anchor="end">8</text>
<text transform="translate(485.70 388.90) scale(1 1.10)" class="tk" text-anchor="end">10</text>
<text x="584.05" y="560.10" class="al" text-anchor="middle">Time (s)</text>
<text transform="translate(474.00 462.40) rotate(-90)" class="al" text-anchor="middle">Angular velocity (rad/s)</text>
<g clip-path="url(#c22)">
<path d="M489.20 462.30L489.45 461.90L489.71 461.61L489.96 461.31L490.21 460.85L490.46 460.56L490.72 460.45L490.97 460.04L491.22 459.49L491.48 459.17L491.73 458.98L491.98 458.67L492.24 458.16L492.49 457.93L492.74 457.39L492.99 457.16L493.25 456.83L493.50 456.54L493.75 456.03L494.01 455.72L494.26 455.36L494.51 454.94L494.76 454.75L495.02 454.37L495.27 454.00L495.52 453.69L495.78 453.33L496.03 452.82L496.28 452.54L496.54 452.22L496.79 451.80L497.04 451.61L497.29 451.25L497.55 450.93L497.80 450.35L498.05 450.03L498.31 449.72L498.56 449.46L498.81 448.97L499.06 448.88L499.32 448.26L499.57 448.09L499.82 447.78L500.08 447.37L500.33 446.96L500.58 446.76L500.83 446.24L501.09 445.85L501.34 445.61L501.59 445.13L501.85 444.77L502.10 444.68L502.35 444.19L502.61 443.76L502.86 443.56L503.11 443.26L503.36 442.67L503.62 442.42L503.87 442.04L504.12 441.86L504.38 441.30L504.63 440.97L504.88 440.56L505.13 440.37L505.39 439.90L505.64 439.69L505.89 439.21L506.15 439.04L506.40 438.65L506.65 438.37L506.91 437.87L507.16 437.44L507.41 437.32L507.66 436.88L507.92 436.62L508.17 436.14L508.42 435.88L508.68 435.44L508.93 435.05L509.18 434.82L509.43 434.31L509.69 433.91L509.94 433.67L510.19 433.18L510.45 432.83L510.70 432.68L510.95 432.26L511.21 431.80L511.46 431.59L511.71 431.19L511.96 430.78L512.22 430.44L512.47 430.24L512.72 429.74L512.98 429.34L513.23 429.25L513.48 428.71L513.73 428.46L513.99 428.09L514.24 427.90L514.49 427.33L514.75 427.03L515.00 426.80L515.25 426.46L515.51 426.25L515.76 426.16L516.01 425.90L516.26 425.59L516.52 425.40L516.77 424.86L517.02 424.34L517.28 421.56L517.53 417.37L517.78 416.83L518.03 417.41L518.29 417.96L518.54 418.25L518.79 418.26L519.05 417.82L519.30 417.18L519.55 416.62L519.80 416.50L520.06 416.16L520.31 415.92L520.56 415.69L520.82 415.47L521.07 415.55L521.32 415.39L521.58 415.21L521.83 415.43L522.08 422.07L522.33 431.91L522.59 439.97L522.84 441.03L523.09 440.05L523.35 438.64L523.60 436.75L523.85 434.49L524.10 432.39L524.36 429.14L524.61 427.09L524.86 425.81L525.12 423.56L525.37 423.73L525.62 422.26L525.88 421.82L526.13 421.37L526.38 420.48L526.63 420.30L526.89 419.95L527.14 420.17L527.39 419.18L527.65 419.78L527.90 419.43L528.15 418.77L528.40 418.82L528.66 419.19L528.91 418.90L529.16 418.52L529.42 418.80L529.67 419.03L529.92 417.94L530.18 418.65L530.43 417.95L530.68 418.42L530.93 418.12L531.19 417.47L531.44 417.77L531.69 418.11L531.95 418.01L532.20 418.36L532.45 417.91L532.70 417.48L532.96 417.09L533.21 417.20L533.46 417.48L533.72 417.53L533.97 417.42L534.22 417.40L534.48 417.91L534.73 418.07L534.98 417.43L535.23 417.44L535.49 417.72L535.74 418.06L535.99 417.37L536.25 417.72L536.50 417.39L536.75 417.53L537.00 417.39L537.26 417.73L537.51 417.87L537.76 417.54L538.02 417.82L538.27 418.01L538.52 418.08L538.77 417.84L539.03 417.66L539.28 417.51L539.53 417.99L539.79 418.10L540.04 417.24L540.29 417.77L540.55 417.00L540.80 417.58L541.05 417.40L541.30 417.44L541.56 417.99L541.81 417.05L542.06 417.99L542.32 417.45L542.57 418.11L542.82 417.68L543.07 417.46L543.33 417.37L543.58 417.79L543.83 418.21L544.09 418.23L544.34 418.00L544.59 418.12L544.85 418.38L545.10 418.63L545.35 418.61L545.60 418.83L545.86 418.00L546.11 418.34L546.36 418.70L546.62 419.13L546.87 418.89L547.12 419.50L547.37 419.41L547.63 419.50L547.88 419.58L548.13 419.75L548.39 420.23L548.64 419.76L548.89 419.77L549.15 420.17L549.40 420.83L549.65 419.87L549.90 420.04L550.16 421.21L550.41 421.02L550.66 420.71L550.92 421.30L551.17 420.86L551.42 421.97L551.67 421.91L551.93 421.19L552.18 421.56L552.43 422.32L552.69 422.29L552.94 422.29L553.19 422.66L553.45 423.26L553.70 423.14L553.95 423.31L554.20 423.66L554.46 423.76L554.71 423.27L554.96 423.41L555.22 423.98L555.47 423.92L555.72 424.57L555.97 425.18L556.23 424.37L556.48 425.73L556.73 425.01L556.99 426.17L557.24 426.35L557.49 426.33L557.74 426.24L558.00 426.84L558.25 426.40L558.50 426.97L558.76 427.33L559.01 427.42L559.26 427.97L559.52 428.03L559.77 428.33L560.02 428.73L560.27 428.95L560.53 429.16L560.78 429.44L561.03 429.80L561.29 430.16L561.54 430.22L561.79 430.60L562.04 430.87L562.30 431.02L562.55 431.52L562.80 431.66L563.06 432.18L563.31 432.22L563.56 432.66L563.82 433.07L564.07 433.22L564.32 433.61L564.57 433.85L564.83 434.24L565.08 434.41L565.33 434.82L565.59 435.04L565.84 435.31L566.09 435.83L566.34 435.85L566.60 436.24L566.85 436.72L567.10 436.99L567.36 437.26L567.61 437.68L567.86 437.95L568.12 438.21L568.37 438.56L568.62 438.86L568.87 439.04L569.13 439.38L569.38 439.93L569.63 440.00L569.89 440.38L570.14 440.89L570.39 441.28L570.64 441.50L570.90 441.90L571.15 442.45L571.40 442.66L571.66 442.98L571.91 443.56L572.16 443.80L572.42 444.39L572.67 444.55L572.92 444.98L573.17 445.59L573.43 445.83L573.68 446.11L573.93 446.71L574.19 447.18L574.44 447.29L574.69 447.86L574.94 448.13L575.20 448.67L575.45 448.93L575.70 449.51L575.96 449.71L576.21 450.22L576.46 450.41L576.71 450.90L576.97 451.22L577.22 451.64L577.47 451.89L577.73 452.46L577.98 452.73L578.23 452.93L578.49 453.31L578.74 453.86L578.99 454.04L579.24 454.67L579.50 454.87L579.75 455.34L580.00 455.60L580.26 456.19L580.51 456.47L580.76 456.74L581.01 457.40L581.27 457.62L581.52 458.11L581.77 458.49L582.03 459.07L582.28 459.37L582.53 459.88L582.79 460.19L583.04 460.87L583.29 461.37L583.54 461.85L583.80 462.59L584.05 463.14L584.30 463.95L584.56 464.65L584.81 465.14L585.06 466.02L585.31 466.48L585.57 467.09L585.82 467.60L586.07 468.32L586.33 468.60L586.58 469.00L586.83 469.36L587.09 469.68L587.34 469.50L587.59 469.53L587.84 468.58L588.10 467.59L588.35 466.50L588.60 466.12L588.86 466.51L589.11 467.04L589.36 467.82L589.61 468.53L589.87 469.30L590.12 469.63L590.37 470.27L590.63 470.57L590.88 471.00L591.13 471.49L591.39 471.89L591.64 472.45L591.89 472.74L592.14 473.20L592.40 473.47L592.65 473.88L592.90 474.40L593.16 474.91L593.41 475.23L593.66 475.57L593.91 476.02L594.17 476.56L594.42 476.99L594.67 477.43L594.93 477.76L595.18 478.24L595.43 478.55L595.68 479.16L595.94 479.55L596.19 479.81L596.44 480.28L596.70 480.52L596.95 480.97L597.20 481.31L597.46 481.73L597.71 482.30L597.96 482.69L598.21 482.96L598.47 483.26L598.72 483.83L598.97 483.95L599.23 484.53L599.48 484.91L599.73 485.12L599.98 485.69L600.24 486.06L600.49 486.32L600.74 486.77L601.00 486.88L601.25 487.41L601.50 487.66L601.76 488.19L602.01 488.52L602.26 488.81L602.51 489.23L602.77 489.62L603.02 489.92L603.27 490.24L603.53 490.67L603.78 490.96L604.03 491.43L604.28 491.50L604.54 492.07L604.79 492.38L605.04 492.68L605.30 492.83L605.55 493.12L605.80 493.47L606.06 493.96L606.31 494.24L606.56 494.56L606.81 494.88L607.07 494.93L607.32 495.20L607.57 495.44L607.83 495.89L608.08 496.19L608.33 496.38L608.58 496.67L608.84 496.68L609.09 496.98L609.34 497.27L609.60 497.27L609.85 497.51L610.10 497.77L610.36 498.13L610.61 498.39L610.86 498.03L611.11 498.72L611.37 499.15L611.62 498.66L611.87 499.17L612.13 499.79L612.38 499.38L612.63 500.13L612.88 500.51L613.14 500.13L613.39 500.18L613.64 500.74L613.90 500.55L614.15 501.46L614.40 501.08L614.65 501.19L614.91 501.77L615.16 502.03L615.41 501.95L615.67 502.35L615.92 502.73L616.17 503.05L616.43 502.54L616.68 502.41L616.93 503.33L617.18 503.00L617.44 503.02L617.69 503.72L617.94 503.71L618.20 503.87L618.45 503.81L618.70 504.35L618.95 504.31L619.21 504.52L619.46 504.96L619.71 504.37L619.97 505.04L620.22 504.83L620.47 505.07L620.73 505.70L620.98 505.62L621.23 505.66L621.48 506.04L621.74 505.94L621.99 506.16L622.24 505.51L622.50 506.17L622.75 506.25L623.00 506.28L623.25 506.13L623.51 506.53L623.76 506.31L624.01 506.13L624.27 506.65L624.52 506.67L624.77 506.96L625.03 506.89L625.28 507.32L625.53 506.99L625.78 507.19L626.04 507.60L626.29 507.24L626.54 507.82L626.80 507.78L627.05 507.18L627.30 507.87L627.55 507.91L627.81 507.57L628.06 507.96L628.31 508.28L628.57 507.74L628.82 507.86L629.07 507.90L629.33 507.77L629.58 507.88L629.83 508.18L630.08 507.62L630.34 507.92L630.59 508.35L630.84 508.38L631.10 508.50L631.35 508.50L631.60 507.75L631.85 507.83L632.11 507.80L632.36 508.09L632.61 507.60L632.87 508.29L633.12 507.94L633.37 507.45L633.62 507.53L633.88 507.72L634.13 507.62L634.38 508.19L634.64 507.50L634.89 507.43L635.14 507.34L635.40 507.93L635.65 508.02L635.90 507.93L636.15 507.04L636.41 507.82L636.66 507.12L636.91 507.46L637.17 506.76L637.42 507.37L637.67 507.23L637.92 507.40L638.18 506.46L638.43 506.76L638.68 506.84L638.94 506.73L639.19 507.07L639.44 506.76L639.70 506.61L639.95 506.55L640.20 506.40L640.45 506.11L640.71 505.65L640.96 505.32L641.21 505.41L641.47 504.69L641.72 504.93L641.97 504.04L642.22 503.85L642.48 503.71L642.73 503.81L642.98 503.68L643.24 502.85L643.49 502.63L643.74 502.86L644.00 502.44L644.25 502.18L644.50 502.08L644.75 502.69L645.01 502.43L645.26 502.67L645.51 502.38L645.77 503.32L646.02 503.75L646.27 504.19L646.52 504.74L646.78 504.94L647.03 505.97L647.28 506.04L647.54 506.95L647.79 507.30L648.04 508.06L648.30 508.62L648.55 509.34L648.80 509.82L649.05 510.21L649.31 510.43L649.56 510.97L649.81 511.08L650.07 511.14L650.32 511.03L650.57 510.55L650.82 509.83L651.08 508.85L651.33 507.64L651.58 506.82L651.84 505.89L652.09 505.13L652.34 504.71L652.59 504.26L652.85 504.27L653.10 503.83L653.35 503.85L653.61 503.47L653.86 503.06L654.11 502.80L654.37 502.00L654.62 499.26L654.87 491.80L655.12 483.64L655.38 479.85L655.63 480.22L655.88 481.06L656.14 482.38L656.39 483.75L656.64 485.32L656.89 487.03L657.15 488.65L657.40 489.88L657.65 491.03L657.91 491.69L658.16 491.62L658.41 491.58L658.67 491.45L658.92 491.42L659.17 491.29L659.42 490.98L659.68 490.80L659.93 490.60L660.18 490.21L660.44 489.92L660.69 489.40L660.94 489.19L661.19 488.82L661.45 488.28L661.70 487.76L661.95 487.34L662.21 487.09L662.46 486.60L662.71 486.21L662.97 485.68L663.22 485.15L663.47 484.82L663.72 484.47L663.98 484.15L664.23 483.72L664.48 483.31L664.74 483.02L664.99 482.57L665.24 482.10L665.49 481.77L665.75 481.65L666.00 481.13L666.25 480.75L666.51 480.39L666.76 480.18L667.01 479.95L667.27 479.49L667.52 479.12L667.77 478.80L668.02 478.28L668.28 478.09L668.53 477.84L668.78 477.42L669.04 476.85L669.29 476.50L669.54 476.30L669.79 475.92L670.05 475.65L670.30 475.34L670.55 474.76L670.81 474.36L671.06 474.10L671.31 473.89L671.56 473.28L671.82 473.01L672.07 472.80L672.32 472.35L672.58 472.11L672.83 471.74L673.08 471.18L673.34 470.77L673.59 470.65L673.84 470.14L674.09 469.69L674.35 469.33L674.60 469.15L674.85 468.84L675.11 468.43L675.36 467.99L675.61 467.47L675.86 467.22L676.12 466.82L676.37 466.64L676.62 465.98L676.88 465.77L677.13 465.36L677.38 465.09L677.64 464.75L677.89 464.17L678.14 464.05L678.39 463.48L678.65 463.10L678.90 462.68" fill="none" stroke="#f0403c" stroke-width="1.20" stroke-linejoin="round"/>
<path d="M489.20 462.40L489.45 461.98L489.71 461.58L489.96 461.38L490.21 461.05L490.46 460.63L490.72 460.30L490.97 459.83L491.22 459.56L491.48 459.12L491.73 458.84L491.98 458.44L492.24 458.24L492.49 457.77L492.74 457.34L492.99 457.00L493.25 456.71L493.50 456.43L493.75 455.95L494.01 455.73L494.26 455.21L494.51 455.02L494.76 454.62L495.02 454.31L495.27 453.96L495.52 453.41L495.78 453.19L496.03 452.72L496.28 452.46L496.54 452.01L496.79 451.71L497.04 451.33L497.29 450.90L497.55 450.68L497.80 450.33L498.05 450.03L498.31 449.63L498.56 449.15L498.81 448.90L499.06 448.50L499.32 448.10L499.57 447.70L499.82 447.34L500.08 447.16L500.33 446.68L500.58 446.32L500.83 446.08L501.09 445.71L501.34 445.24L501.59 445.01L501.85 444.64L502.10 444.23L502.35 443.89L502.61 443.63L502.86 443.19L503.11 442.93L503.36 442.48L503.62 442.10L503.87 441.69L504.12 441.39L504.38 441.11L504.63 440.56L504.88 440.25L505.13 440.08L505.39 439.59L505.64 439.34L505.89 438.86L506.15 438.60L506.40 438.23L506.65 437.76L506.91 437.37L507.16 437.05L507.41 436.76L507.66 436.48L507.92 435.97L508.17 435.65L508.42 435.40L508.68 434.87L508.93 434.67L509.18 434.40L509.43 434.00L509.69 433.66L509.94 433.19L510.19 432.95L510.45 432.57L510.70 432.39L510.95 431.90L511.21 431.58L511.46 431.26L511.71 431.03L511.96 430.59L512.22 430.31L512.47 429.88L512.72 429.53L512.98 429.30L513.23 428.97L513.48 428.58L513.73 428.06L513.99 427.63L514.24 427.26L514.49 426.84L514.75 426.63L515.00 426.18L515.25 425.60L515.51 425.38L515.76 424.98L516.01 424.69L516.26 424.24L516.52 423.65L516.77 422.96L517.02 421.95L517.28 415.40L517.53 406.24L517.78 405.01L518.03 408.08L518.29 411.86L518.54 414.42L518.79 414.29L519.05 413.64L519.30 412.73L519.55 412.20L519.80 411.86L520.06 411.69L520.31 411.49L520.56 411.12L520.82 410.93L521.07 410.93L521.32 410.75L521.58 410.65L521.83 410.99L522.08 418.42L522.33 429.81L522.59 439.00L522.84 440.16L523.09 439.36L523.35 437.72L523.60 435.75L523.85 433.30L524.10 430.64L524.36 427.87L524.61 425.40L524.86 423.26L525.12 421.74L525.37 420.93L525.62 420.05L525.88 419.36L526.13 418.77L526.38 418.24L526.63 417.68L526.89 417.45L527.14 417.01L527.39 416.97L527.65 416.93L527.90 416.62L528.15 416.67L528.40 416.41L528.66 416.25L528.91 416.09L529.16 416.20L529.42 416.00L529.67 415.80L529.92 415.90L530.18 415.63L530.43 415.62L530.68 415.65L530.93 415.56L531.19 415.50L531.44 415.27L531.69 415.24L531.95 415.25L532.20 415.16L532.45 415.18L532.70 415.18L532.96 414.91L533.21 414.95L533.46 414.97L533.72 414.97L533.97 414.97L534.22 414.99L534.48 414.96L534.73 414.91L534.98 414.78L535.23 414.87L535.49 414.90L535.74 414.76L535.99 414.79L536.25 414.84L536.50 414.85L536.75 414.79L537.00 414.78L537.26 414.83L537.51 414.99L537.76 415.00L538.02 414.95L538.27 415.01L538.52 414.84L538.77 414.93L539.03 414.90L539.28 414.96L539.53 415.11L539.79 415.04L540.04 415.05L540.29 415.11L540.55 415.04L540.80 415.06L541.05 415.08L541.30 415.06L541.56 415.19L541.81 415.23L542.06 415.26L542.32 415.28L542.57 415.42L542.82 415.31L543.07 415.46L543.33 415.47L543.58 415.51L543.83 415.58L544.09 415.79L544.34 415.84L544.59 415.93L544.85 415.90L545.10 416.16L545.35 416.24L545.60 416.37L545.86 416.36L546.11 416.62L546.36 416.66L546.62 416.68L546.87 416.85L547.12 416.93L547.37 417.08L547.63 417.27L547.88 417.39L548.13 417.71L548.39 417.68L548.64 417.92L548.89 417.98L549.15 418.20L549.40 418.42L549.65 418.47L549.90 418.74L550.16 418.70L550.41 419.02L550.66 419.15L550.92 419.32L551.17 419.39L551.42 419.61L551.67 419.79L551.93 419.79L552.18 420.02L552.43 420.27L552.69 420.25L552.94 420.42L553.19 420.69L553.45 420.95L553.70 421.00L553.95 421.26L554.20 421.52L554.46 421.65L554.71 421.79L554.96 422.15L555.22 422.21L555.47 422.57L555.72 422.83L555.97 423.03L556.23 423.22L556.48 423.49L556.73 423.58L556.99 423.89L557.24 424.12L557.49 424.51L557.74 424.68L558.00 425.02L558.25 425.08L558.50 425.54L558.76 425.69L559.01 426.03L559.26 426.34L559.52 426.50L559.77 426.67L560.02 427.04L560.27 427.24L560.53 427.52L560.78 427.82L561.03 428.17L561.29 428.54L561.54 428.88L561.79 429.07L562.04 429.48L562.30 429.67L562.55 430.08L562.80 430.28L563.06 430.65L563.31 430.95L563.56 431.25L563.82 431.53L564.07 431.82L564.32 432.22L564.57 432.41L564.83 432.75L565.08 433.16L565.33 433.47L565.59 433.81L565.84 434.16L566.09 434.29L566.34 434.65L566.60 435.11L566.85 435.35L567.10 435.68L567.36 436.11L567.61 436.27L567.86 436.59L568.12 437.02L568.37 437.29L568.62 437.77L568.87 438.07L569.13 438.39L569.38 438.78L569.63 438.97L569.89 439.48L570.14 439.81L570.39 440.25L570.64 440.54L570.90 441.08L571.15 441.42L571.40 441.87L571.66 442.23L571.91 442.65L572.16 443.00L572.42 443.48L572.67 444.06L572.92 444.38L573.17 444.75L573.43 445.25L573.68 445.66L573.93 446.02L574.19 446.60L574.44 447.03L574.69 447.38L574.94 447.61L575.20 448.23L575.45 448.64L575.70 448.97L575.96 449.35L576.21 449.79L576.46 450.13L576.71 450.74L576.97 451.09L577.22 451.72L577.47 452.20L577.73 452.72L577.98 453.31L578.23 453.60L578.49 454.14L578.74 454.78L578.99 455.23L579.24 455.75L579.50 456.05L579.75 456.53L580.00 456.97L580.26 457.29L580.51 457.68L580.76 458.17L581.01 458.42L581.27 458.58L581.52 458.87L581.77 459.04L582.03 459.31L582.28 459.37L582.53 459.36L582.79 459.42L583.04 459.28L583.29 459.13L583.54 459.06L583.80 459.16L584.05 459.53L584.30 460.17L584.56 460.66L584.81 461.33L585.06 462.25L585.31 462.98L585.57 463.71L585.82 464.66L586.07 465.30L586.33 465.99L586.58 466.64L586.83 467.06L587.09 467.51L587.34 467.52L587.59 467.25L587.84 466.43L588.10 465.26L588.35 464.17L588.60 463.78L588.86 464.07L589.11 465.18L589.36 466.37L589.61 467.89L589.87 468.72L590.12 469.48L590.37 469.90L590.63 470.54L590.88 470.90L591.13 471.36L591.39 471.80L591.64 472.34L591.89 472.79L592.14 473.07L592.40 473.52L592.65 474.02L592.90 474.50L593.16 475.08L593.41 475.54L593.66 475.89L593.91 476.44L594.17 476.93L594.42 477.34L594.67 477.71L594.93 478.33L595.18 478.58L595.43 479.05L595.68 479.66L595.94 480.07L596.19 480.45L596.44 480.79L596.70 481.34L596.95 481.86L597.20 482.11L597.46 482.62L597.71 482.91L597.96 483.36L598.21 483.72L598.47 484.25L598.72 484.62L598.97 484.98L599.23 485.40L599.48 485.82L599.73 486.14L599.98 486.56L600.24 487.01L600.49 487.26L600.74 487.75L601.00 488.05L601.25 488.42L601.50 488.97L601.76 489.30L602.01 489.53L602.26 490.08L602.51 490.48L602.77 490.73L603.02 491.24L603.27 491.52L603.53 491.97L603.78 492.23L604.03 492.65L604.28 492.99L604.54 493.27L604.79 493.52L605.04 493.88L605.30 494.39L605.55 494.72L605.80 494.98L606.06 495.20L606.31 495.46L606.56 495.94L606.81 496.05L607.07 496.34L607.32 496.84L607.57 497.04L607.83 497.34L608.08 497.43L608.33 497.72L608.58 498.10L608.84 498.36L609.09 498.41L609.34 498.85L609.60 498.96L609.85 499.34L610.10 499.55L610.36 499.78L610.61 499.86L610.86 500.10L611.11 500.27L611.37 500.63L611.62 500.71L611.87 501.12L612.13 501.22L612.38 501.55L612.63 501.75L612.88 501.96L613.14 502.05L613.39 502.35L613.64 502.54L613.90 502.66L614.15 502.91L614.40 503.13L614.65 503.46L614.91 503.65L615.16 503.70L615.41 503.98L615.67 504.07L615.92 504.15L616.17 504.19L616.43 504.55L616.68 504.68L616.93 504.70L617.18 504.94L617.44 505.12L617.69 505.83L617.94 505.47L618.20 505.80L618.45 506.44L618.70 505.86L618.95 506.71L619.21 506.56L619.46 506.77L619.71 506.66L619.97 507.33L620.22 507.24L620.47 506.94L620.73 507.01L620.98 507.34L621.23 507.41L621.48 507.84L621.74 508.00L621.99 507.85L622.24 508.27L622.50 507.94L622.75 508.12L623.00 508.28L623.25 508.52L623.51 508.39L623.76 509.13L624.01 508.77L624.27 508.69L624.52 508.90L624.77 509.19L625.03 509.58L625.28 509.73L625.53 509.36L625.78 509.78L626.04 509.70L626.29 509.42L626.54 509.90L626.80 509.86L627.05 510.23L627.30 509.69L627.55 510.43L627.81 510.45L628.06 510.56L628.31 510.31L628.57 510.23L628.82 510.68L629.07 510.45L629.33 510.34L629.58 510.58L629.83 510.29L630.08 510.52L630.34 510.83L630.59 510.69L630.84 510.21L631.10 510.45L631.35 510.83L631.60 510.40L631.85 510.26L632.11 510.19L632.36 510.33L632.61 510.37L632.87 510.00L633.12 510.60L633.37 510.33L633.62 510.68L633.88 510.35L634.13 509.91L634.38 509.99L634.64 510.45L634.89 510.04L635.14 510.04L635.40 509.81L635.65 510.36L635.90 509.77L636.15 509.88L636.41 509.93L636.66 509.57L636.91 510.05L637.17 509.79L637.42 509.79L637.67 509.45L637.92 509.24L638.18 509.23L638.43 509.18L638.68 509.32L638.94 508.68L639.19 508.97L639.44 508.57L639.70 508.47L639.95 508.58L640.20 508.08L640.45 507.76L640.71 508.28L640.96 508.05L641.21 507.80L641.47 507.36L641.72 507.16L641.97 507.14L642.22 506.84L642.48 506.52L642.73 506.02L642.98 505.89L643.24 506.03L643.49 505.87L643.74 505.14L644.00 504.83L644.25 504.91L644.50 504.79L644.75 504.64L645.01 504.48L645.26 504.29L645.51 504.19L645.77 504.30L646.02 504.30L646.27 504.12L646.52 504.43L646.78 504.82L647.03 505.48L647.28 506.04L647.54 507.04L647.79 508.02L648.04 508.95L648.30 509.92L648.55 511.00L648.80 511.99L649.05 512.82L649.31 513.42L649.56 514.05L649.81 514.44L650.07 514.77L650.32 514.43L650.57 514.07L650.82 513.12L651.08 511.92L651.33 510.81L651.58 509.60L651.84 508.53L652.09 507.59L652.34 507.15L652.59 506.62L652.85 506.43L653.10 506.26L653.35 506.02L653.61 505.72L653.86 505.08L654.11 504.52L654.37 503.80L654.62 497.84L654.87 485.60L655.12 483.05L655.38 483.54L655.63 484.18L655.88 485.06L656.14 486.09L656.39 487.35L656.64 488.71L656.89 489.94L657.15 491.28L657.40 492.18L657.65 493.25L657.91 493.85L658.16 494.18L658.41 494.19L658.67 494.14L658.92 494.04L659.17 493.85L659.42 493.73L659.68 493.38L659.93 493.30L660.18 492.78L660.44 492.58L660.69 492.15L660.94 491.64L661.19 491.24L661.45 490.91L661.70 490.35L661.95 489.98L662.21 489.35L662.46 489.00L662.71 488.51L662.97 487.99L663.22 487.37L663.47 487.01L663.72 486.58L663.98 486.14L664.23 485.71L664.48 485.34L664.74 484.89L664.99 484.47L665.24 484.22L665.49 483.76L665.75 483.35L666.00 482.95L666.25 482.54L666.51 482.15L666.76 481.90L667.01 481.57L667.27 481.06L667.52 480.68L667.77 480.23L668.02 479.95L668.28 479.44L668.53 479.11L668.78 478.77L669.04 478.38L669.29 478.04L669.54 477.73L669.79 477.16L670.05 476.85L670.30 476.43L670.55 476.11L670.81 475.70L671.06 475.32L671.31 474.94L671.56 474.50L671.82 474.25L672.07 473.80L672.32 473.28L672.58 473.00L672.83 472.60L673.08 472.12L673.34 471.82L673.59 471.45L673.84 470.94L674.09 470.59L674.35 470.12L674.60 469.87L674.85 469.52L675.11 468.99L675.36 468.56L675.61 468.17L675.86 467.72L676.12 467.52L676.37 467.13L676.62 466.71L676.88 466.18L677.13 465.91L677.38 465.48L677.64 464.96L677.89 464.62L678.14 464.28L678.39 463.87L678.65 463.31L678.90 463.05" fill="none" stroke="#7f00ff" stroke-width="1.40" stroke-linejoin="round"/>
</g>
<rect x="607.10" y="392.20" width="61" height="21" fill="#fff" stroke="#c8c8c8" stroke-width="0.7"/>
<line x1="607.70" y1="397.90" x2="625.70" y2="397.90" stroke="#f55050" stroke-width="1.00"/>
<text x="628.10" y="400.60" class="lg">Flat cutter</text>
<line x1="607.70" y1="407.60" x2="625.70" y2="407.60" stroke="#8a33ff" stroke-width="1.60"/>
<text x="628.10" y="410.30" class="lg">Dome cutter</text>
</g>
<g>
<rect x="26.30" y="581.70" width="185.50" height="149.10" fill="none" stroke="#555" stroke-width="1.2"/>
<path d="M57.22 730.80V728.20M88.13 730.80V728.20M119.05 730.80V728.20M149.97 730.80V728.20M180.88 730.80V728.20M26.30 722.52H28.90M26.30 705.95H28.90M26.30 689.38H28.90M26.30 672.82H28.90M26.30 656.25H28.90M26.30 639.68H28.90M26.30 623.12H28.90M26.30 606.55H28.90M26.30 589.98H28.90" stroke="#555" stroke-width="0.8" fill="none"/>
<text transform="translate(26.30 739.50) scale(1 1.10)" class="tk" text-anchor="middle">0.0</text>
<text transform="translate(57.22 739.50) scale(1 1.10)" class="tk" text-anchor="middle">0.5</text>
<text transform="translate(88.13 739.50) scale(1 1.10)" class="tk" text-anchor="middle">1.0</text>
<text transform="translate(119.05 739.50) scale(1 1.10)" class="tk" text-anchor="middle">1.5</text>
<text transform="translate(149.97 739.50) scale(1 1.10)" class="tk" text-anchor="middle">2.0</text>
<text transform="translate(180.88 739.50) scale(1 1.10)" class="tk" text-anchor="middle">2.5</text>
<text transform="translate(211.80 739.50) scale(1 1.10)" class="tk" text-anchor="middle">3.0</text>
<text transform="translate(22.80 725.12) scale(1 1.10)" class="tk" text-anchor="end">-160</text>
<text transform="translate(22.80 708.55) scale(1 1.10)" class="tk" text-anchor="end">-120</text>
<text transform="translate(22.80 691.98) scale(1 1.10)" class="tk" text-anchor="end">-80</text>
<text transform="translate(22.80 675.42) scale(1 1.10)" class="tk" text-anchor="end">-40</text>
<text transform="translate(22.80 658.85) scale(1 1.10)" class="tk" text-anchor="end">0</text>
<text transform="translate(22.80 642.28) scale(1 1.10)" class="tk" text-anchor="end">40</text>
<text transform="translate(22.80 625.72) scale(1 1.10)" class="tk" text-anchor="end">80</text>
<text transform="translate(22.80 609.15) scale(1 1.10)" class="tk" text-anchor="end">120</text>
<text transform="translate(22.80 592.58) scale(1 1.10)" class="tk" text-anchor="end">160</text>
<text x="119.05" y="752.40" class="al" text-anchor="middle">Time (s)</text>
<text transform="translate(8.10 656.25) rotate(-90)" class="al" text-anchor="middle">Angular acceleration (rad/s<tspan dy="-3" font-size="5.5">2</tspan><tspan dy="3">)</tspan></text>
<text x="26.90" y="580.30" class="mu">&#215;10<tspan dy="-2.4" font-size="4.2">3</tspan></text>
<g clip-path="url(#c30)">
<path d="M26.30 656.25L26.75 656.98L27.20 655.04L27.65 658.44L28.10 654.04L28.55 659.67L29.00 652.52L29.45 660.80L29.90 652.01L30.35 660.83L30.80 650.32L31.25 662.07L31.70 650.72L32.15 662.66L32.60 648.78L33.05 664.43L33.50 649.10L33.95 664.86L34.40 650.19L34.85 663.61L35.30 647.73L35.75 663.84L36.20 647.93L36.65 664.95L37.10 650.08L37.55 665.13L38.00 648.72L38.45 663.34L38.90 648.05L39.35 663.95L39.80 647.28L40.25 665.53L40.70 649.27L41.15 665.54L41.60 647.89L42.05 664.44L42.50 647.30L42.95 664.64L43.40 648.96L43.85 665.12L44.30 647.40L44.75 665.08L45.20 649.08L45.65 665.38L46.10 647.28L46.55 664.95L47.00 647.34L47.45 663.13L47.90 647.55L48.35 665.44L48.80 649.00L49.25 664.23L49.70 648.75L50.15 663.75L50.60 650.19L51.05 663.21L51.50 648.31L51.95 662.98L52.40 648.52L52.85 662.30L53.30 652.07L53.75 659.15L54.20 654.75L54.65 658.05L55.10 654.78L55.55 658.05L56.00 654.63L56.45 657.83L56.90 654.19L57.35 658.61L57.80 652.62L58.25 660.66L58.70 650.93L59.15 662.91L59.60 648.04L60.05 665.04L60.50 647.28L60.95 665.89L61.40 647.31L61.85 664.69L62.30 647.44L62.75 665.15L63.20 644.86L63.65 667.21L64.10 645.84L64.55 668.99L65.00 644.27L65.45 667.20L65.90 645.24L66.35 667.74L66.80 643.55L67.25 667.75L67.70 645.46L68.15 667.94L68.60 643.52L69.05 667.67L69.50 644.20L69.95 669.05L70.40 645.76L70.85 670.88L71.30 641.80L71.75 670.31L72.20 644.82L72.65 671.05L73.10 642.96L73.55 667.42L74.00 643.29L74.45 671.47L74.90 642.49L75.35 668.64L75.80 643.83L76.25 670.33L76.70 642.42L77.15 668.22L77.60 644.15L78.05 668.08L78.50 644.09L78.95 667.92L79.40 644.60L79.85 667.83L80.30 646.68L80.75 666.56L81.20 647.73L81.65 664.75L82.10 647.16L82.55 663.68L83.00 647.98L83.45 664.54L83.90 648.71L84.35 663.42L84.80 648.95L85.25 663.06L85.70 649.35L86.15 663.23L86.60 649.98L87.05 662.42L87.50 649.87L87.95 662.59L88.40 650.05L88.85 661.16L89.30 651.12L89.75 662.44L90.20 651.54L90.65 662.60L91.10 650.11L91.55 662.35L92.00 651.04L92.45 661.58L92.90 651.56L93.35 661.57L93.80 649.79L94.25 661.16L94.70 651.25L95.15 662.71L95.60 649.69L96.05 663.31L96.50 650.46L96.95 662.70L97.40 649.72L97.85 661.91L98.30 651.09L98.75 662.08L99.20 649.81L99.65 663.00L100.10 649.07L100.55 662.39L101.00 649.15L101.45 662.43L101.90 650.77L102.35 662.88L102.80 649.62L103.25 663.22" fill="none" stroke="#7f00ff" stroke-width="0.65"/>
<path d="M26.61 655.61V656.84M27.21 655.31V657.79M27.83 654.30V659.71M31.19 650.40V665.11M31.64 645.58V663.59M31.81 647.82V666.17M32.02 646.17V662.39M36.26 647.52V659.98M37.50 647.29V665.89M37.61 647.70V668.71M40.31 643.78V660.32M40.71 648.54V664.05M40.71 647.02V669.13M41.18 645.76V668.58M41.26 650.02V668.75M41.88 650.97V666.31M46.00 646.37V660.88M48.79 646.05V664.26M49.39 646.71V666.42M49.88 646.97V668.33M51.09 645.46V660.61M53.45 652.31V661.66M53.85 652.73V660.56M54.11 653.04V659.19M54.59 654.49V657.73M56.09 654.45V658.80M59.19 645.68V669.33M61.46 646.52V667.84M61.54 641.84V672.11M61.69 638.03V664.47M61.94 646.13V665.47M62.25 647.91V668.46M62.28 641.01V668.32M62.35 649.91V670.47M62.92 642.46V663.58M68.03 640.34V669.76M68.57 636.62V668.35M69.52 646.37V676.99M69.93 633.57V672.28M72.79 633.83V670.94M73.64 648.31V664.65M74.58 646.34V670.06M75.75 636.17V674.15M76.25 637.67V669.04M76.81 647.16V676.58M80.19 640.81V667.50M82.64 649.62V671.89M82.71 648.01V671.48M85.16 642.93V669.26M85.59 649.51V671.38M85.90 641.22V663.78M86.18 651.06V664.80M88.79 649.46V670.11M89.01 643.53V663.52M90.98 649.10V667.79M91.20 641.63V663.55M91.65 641.82V664.89M92.17 642.01V670.97M93.54 645.86V671.16M94.02 643.34V664.40M96.48 640.09V662.44M97.01 647.95V662.90M98.44 644.33V670.64M98.82 641.13V670.77M100.24 645.47V670.94M100.32 643.64V671.27M100.57 645.51V665.32M101.70 642.88V667.56M101.73 649.34V665.72" fill="none" stroke="#7f00ff" stroke-width="0.75"/>
<path d="M103.34 627.61L103.79 698.26L104.24 603.84L104.69 706.95L105.14 604.42L105.59 719.91L106.04 602.38L106.49 717.24L106.94 594.83L107.39 713.05L107.84 602.74L108.29 718.46L108.74 601.90L109.19 717.67L109.64 594.98L110.09 719.07L110.54 595.68L110.99 712.42L111.44 594.87L111.89 713.59L112.34 597.36L112.79 716.40L113.24 595.88L113.69 718.34L114.14 599.02L114.59 712.68L115.04 596.30L115.49 719.46L115.94 597.03L116.39 713.65L116.84 597.96L117.29 720.13L117.74 598.63L118.19 716.64L118.64 613.91L119.09 664.05" fill="none" stroke="#7f00ff" stroke-width="0.65"/>
<path d="M105.90 597.17V701.05M106.32 615.51V691.63M109.16 593.32V717.50M109.43 587.93V693.51M109.79 613.40V711.94M111.00 629.92V717.17M112.14 603.88V701.02M113.77 620.74V691.38M114.16 625.90V721.71M114.83 589.72V688.71M115.61 616.37V697.28M117.46 625.50V703.57M117.60 604.75V685.27M117.61 590.44V678.55M117.72 616.43V691.95M117.96 610.79V680.62M118.51 596.93V703.24M118.57 617.86V705.22" fill="none" stroke="#7f00ff" stroke-width="0.75"/>
<path d="M119.17 653.62L119.62 658.47L120.07 654.04L120.52 658.66L120.97 653.10L121.42 662.45L121.87 646.77L122.32 668.15L122.77 644.09L123.22 669.00L123.67 643.76L124.12 667.53L124.57 642.86L125.02 668.83L125.47 645.28L125.92 668.49L126.37 644.77L126.82 668.72L127.27 641.86L127.72 671.70L128.17 640.96L128.62 671.71L129.07 644.09L129.52 668.30L129.97 640.65L130.42 672.38L130.87 640.79L131.32 669.38L131.77 640.25L132.22 668.85L132.67 644.44L133.12 670.15L133.57 644.62L134.02 670.36L134.47 644.87L134.92 672.07L135.37 642.64L135.82 671.62L136.27 641.11L136.72 670.07L137.17 641.53L137.62 669.66L138.07 645.42L138.52 668.76L138.97 645.09L139.42 668.74L139.87 643.14L140.32 669.04L140.77 643.74L141.22 667.45L141.67 645.57L142.12 669.94L142.57 644.54L143.02 669.25L143.47 643.37L143.92 668.34L144.37 646.32L144.82 666.26L145.27 645.50L145.72 666.93L146.17 645.86L146.62 666.23L147.07 644.74L147.52 667.40L147.97 647.30L148.42 665.86L148.87 647.33L149.32 664.26L149.77 647.66L150.22 663.92L150.67 647.21L151.12 663.76L151.57 647.33L152.02 664.46L152.47 647.43L152.92 663.74L153.37 648.41L153.82 665.08L154.27 646.69L154.72 665.13L155.17 647.48L155.62 667.60L156.07 645.76L156.52 666.06L156.97 646.27L157.42 667.39L157.87 644.82L158.32 669.57L158.77 643.22L159.22 672.35L159.67 644.47L160.12 670.99L160.57 644.78L161.02 668.30L161.47 641.06L161.92 671.28L162.37 642.24L162.82 670.73L163.27 641.44L163.72 671.91L164.17 639.49L164.62 670.35L165.07 641.81L165.52 671.72L165.97 642.97L166.42 672.41L166.87 641.16L167.32 671.27L167.77 642.30L168.22 670.79L168.67 639.10L169.12 671.36L169.57 640.45L170.02 669.96L170.47 642.46L170.92 669.86L171.37 643.30L171.82 671.16L172.27 643.60L172.72 668.89L173.17 642.24L173.62 668.54L174.07 639.72L174.52 668.35L174.97 639.76L175.42 668.78L175.87 640.50L176.32 672.22L176.77 641.83L177.22 668.28L177.67 643.03L178.12 669.77L178.57 647.20L179.02 664.09L179.47 652.14L179.92 659.76L180.37 652.19" fill="none" stroke="#7f00ff" stroke-width="0.65"/>
<path d="M119.31 653.47V660.39M119.53 652.22V658.77M120.71 652.17V658.95M122.08 624.49V673.03M122.88 625.73V676.05M123.88 641.27V678.20M124.01 624.17V683.92M125.75 625.98V681.85M126.03 636.37V682.45M126.25 637.52V689.83M126.49 638.03V670.51M130.78 636.16V675.90M132.62 621.29V682.93M135.21 641.19V680.21M136.13 635.15V688.42M137.08 621.46V677.77M137.30 622.39V675.94M138.16 633.39V675.37M138.81 637.62V682.45M142.95 626.32V676.37M143.05 633.05V688.77M146.52 642.67V680.27M147.10 627.79V680.97M147.58 632.24V677.22M147.97 638.08V674.80M147.97 636.98V682.36M148.47 631.93V674.71M149.13 635.57V670.88M149.73 642.32V667.28M150.14 638.27V665.09M151.34 643.78V673.47M151.68 645.20V669.91M152.22 642.10V674.50M152.44 645.60V672.72M152.95 639.17V674.13M153.37 645.95V673.84M154.25 641.33V669.85M154.75 639.00V671.20M157.87 628.91V684.52M159.50 629.21V685.38M159.78 625.45V683.46M159.95 638.50V687.31M160.10 640.37V671.99M160.63 637.37V683.95M167.70 629.22V693.24M168.31 640.88V672.49M168.32 635.21V684.27M168.76 639.28V692.69M169.09 622.66V692.61M169.12 628.37V692.57M169.19 630.87V693.47M169.36 620.48V676.64M169.67 625.22V690.24M171.24 623.56V670.17M171.27 641.46V691.78M171.52 629.77V680.22M172.98 632.28V686.23M176.75 636.07V680.80M178.05 645.14V675.43M178.49 636.66V676.50M178.93 643.45V666.24" fill="none" stroke="#7f00ff" stroke-width="0.75"/>
<path d="M180.70 630.13L181.15 682.73L181.60 631.12L182.05 685.85L182.50 628.08L182.95 681.72L183.40 624.23L183.85 686.89L184.30 628.10L184.75 684.29L185.20 623.46L185.65 684.85L186.10 624.11L186.55 689.96L187.00 622.99L187.45 687.32L187.90 625.87L188.35 691.67L188.80 623.39L189.25 693.13L189.70 625.51L190.15 688.25L190.60 622.73L191.05 688.10L191.50 626.86L191.95 691.65L192.40 617.91L192.85 691.74L193.30 620.24L193.75 687.07L194.20 625.39L194.65 687.97L195.10 618.13L195.55 693.58L196.00 613.93L196.45 690.72L196.90 619.75L197.35 697.94L197.80 623.19L198.25 704.10L198.70 618.88L199.15 702.00L199.60 608.29L200.05 702.00L200.50 619.38L200.95 700.59L201.40 614.53L201.85 698.24L202.30 609.80L202.75 697.66L203.20 617.73L203.65 708.20L204.10 605.33L204.55 701.91L205.00 612.37L205.45 706.94L205.90 612.36L206.35 703.13L206.80 612.91L207.25 699.35L207.70 615.81L208.15 694.63L208.60 616.01L209.05 694.13L209.50 625.86L209.95 676.43L210.40 636.90L210.85 672.84L211.30 641.21L211.75 668.50" fill="none" stroke="#7f00ff" stroke-width="0.65"/>
<path d="M182.50 614.16V690.16M183.10 621.73V676.62M183.60 625.93V681.64M183.70 613.18V670.61M183.93 640.04V698.87M183.95 636.46V682.12M184.01 635.10V697.25M184.35 620.44V686.21M184.48 628.59V702.84M184.54 617.88V680.81M186.99 615.96V686.77M189.15 602.65V690.19M189.37 610.62V696.03M193.61 614.43V717.84M194.51 622.64V686.92M194.77 615.24V687.66M196.04 599.20V722.22M196.14 597.01V681.35M197.28 615.31V682.03M199.38 619.92V714.23M199.56 609.46V723.29M200.79 587.84V724.69M202.74 599.49V701.81M203.27 606.79V707.58M203.81 614.39V700.28M205.13 608.48V722.93M206.67 603.16V695.25M207.74 623.24V704.25M209.85 618.91V673.01M210.26 622.07V671.38M210.39 638.24V686.83M210.53 635.43V667.79M210.91 630.58V684.81M210.99 633.91V667.87" fill="none" stroke="#7f00ff" stroke-width="0.75"/>
<path d="M26.30 656.25L26.65 656.46L27.00 655.69L27.35 656.98L27.70 655.37L28.05 657.40L28.40 654.62L28.75 657.87L29.10 654.76L29.45 657.97L29.80 653.85L30.15 658.99L30.50 653.77L30.85 657.84L31.20 654.39L31.55 658.39L31.90 653.76L32.25 658.35L32.60 654.25L32.95 658.59L33.30 653.93L33.65 657.95L34.00 654.38L34.35 658.11L34.70 653.65L35.05 658.91L35.40 653.64L35.75 658.28L36.10 654.31L36.45 658.19L36.80 653.78L37.15 658.72L37.50 654.39L37.85 658.86L38.20 653.70L38.55 657.93L38.90 654.54L39.25 657.98L39.60 654.53L39.95 658.22L40.30 653.81L40.65 658.54L41.00 653.46L41.35 658.34L41.70 653.86L42.05 659.00L42.40 653.83L42.75 659.12L43.10 654.29L43.45 658.40L43.80 653.54L44.15 659.21L44.50 654.20L44.85 658.25L45.20 654.08L45.55 658.92L45.90 653.88L46.25 658.45L46.60 654.28L46.95 658.37L47.30 653.70L47.65 658.54L48.00 653.88L48.35 659.58L48.70 653.95L49.05 658.32L49.40 653.83L49.75 658.34L50.10 653.58L50.45 659.34L50.80 654.23L51.15 658.51L51.50 653.77L51.85 658.77L52.20 653.33L52.55 658.61L52.90 653.91L53.25 658.67L53.60 653.51L53.95 659.51L54.30 654.25L54.65 658.39L55.00 654.36L55.35 658.82L55.70 654.12L56.05 658.69L56.40 654.32L56.75 658.21L57.10 654.28L57.45 657.70L57.80 654.53L58.15 659.17L58.50 654.11L58.85 658.75L59.20 653.84L59.55 660.28L59.90 652.64L60.25 659.93L60.60 650.70L60.95 660.93L61.30 651.08L61.65 662.49L62.00 652.26L62.35 661.13L62.70 651.45L63.05 661.59L63.40 651.99L63.75 660.67L64.10 651.56L64.45 661.08L64.80 651.69L65.15 660.70L65.50 649.75L65.85 660.82L66.20 650.80L66.55 662.23L66.90 650.47L67.25 662.03L67.60 648.20L67.95 663.38L68.30 646.94L68.65 661.66L69.00 646.68L69.35 664.37L69.70 648.03L70.05 665.16L70.40 648.33L70.75 662.46L71.10 649.28L71.45 663.45L71.80 645.26L72.15 663.23L72.50 648.89L72.85 662.32L73.20 646.95L73.55 665.58L73.90 650.60L74.25 665.34L74.60 649.16L74.95 662.02L75.30 648.66L75.65 661.96L76.00 648.60L76.35 661.95L76.70 650.37L77.05 662.16L77.40 649.05L77.75 663.39L78.10 649.78L78.45 662.42L78.80 651.29L79.15 661.77L79.50 651.29L79.85 659.88L80.20 651.43L80.55 661.17L80.90 651.47L81.25 660.86L81.60 652.44L81.95 660.22L82.30 652.34L82.65 660.62L83.00 652.13L83.35 659.96L83.70 653.51L84.05 658.71L84.40 653.04L84.75 658.73L85.10 652.87L85.45 659.25L85.80 653.12L86.15 659.41L86.50 653.21L86.85 658.80L87.20 653.15L87.55 658.95L87.90 653.68L88.25 659.45L88.60 653.86L88.95 658.55L89.30 653.60L89.65 658.79L90.00 653.39L90.35 658.07L90.70 653.63L91.05 658.41L91.40 653.85L91.75 658.88L92.10 653.98L92.45 658.18L92.80 653.83L93.15 658.38L93.50 653.48L93.85 658.27L94.20 653.93L94.55 658.39L94.90 653.57L95.25 658.14L95.60 654.07L95.95 658.06L96.30 653.58L96.65 659.03L97.00 653.83L97.35 658.34L97.70 654.10L98.05 658.15L98.40 653.77L98.75 658.40L99.10 653.53L99.45 658.11L99.80 653.99L100.15 658.75L100.50 654.29L100.85 658.44L101.20 653.69L101.55 658.77L101.90 653.54L102.25 658.13L102.60 653.65L102.95 658.18L103.30 654.02L103.65 658.09L104.00 654.60L104.35 657.93L104.70 654.64L105.05 658.76L105.40 653.88L105.75 658.05L106.10 654.09L106.45 658.79L106.80 654.00L107.15 658.74L107.50 654.37L107.85 659.26L108.20 654.24L108.55 658.30L108.90 654.27L109.25 658.18L109.60 654.10L109.95 658.78L110.30 654.40L110.65 658.36L111.00 654.47L111.35 658.25L111.70 654.56L112.05 658.35L112.40 653.92L112.75 658.65L113.10 654.24L113.45 658.44L113.80 653.84L114.15 658.63L114.50 653.99L114.85 657.80L115.20 654.64L115.55 657.99L115.90 653.97L116.25 658.46L116.60 654.67L116.95 658.54L117.30 654.46L117.65 658.34L118.00 653.83L118.35 658.63L118.70 654.06L119.05 658.64L119.40 654.28L119.75 657.72L120.10 655.52L120.45 657.05L120.80 655.53L121.15 657.09L121.50 655.00L121.85 657.32L122.20 655.17L122.55 657.30L122.90 654.62L123.25 657.98L123.60 654.40L123.95 658.06L124.30 654.85L124.65 658.04L125.00 653.92L125.35 658.13L125.70 654.64L126.05 658.08L126.40 654.19L126.75 657.83L127.10 653.99L127.45 658.48L127.80 654.42L128.15 658.69L128.50 654.40L128.85 657.91L129.20 654.42L129.55 658.14L129.90 654.56L130.25 658.65L130.60 654.47L130.95 658.45L131.30 653.45L131.65 658.17L132.00 654.03L132.35 658.38L132.70 653.09L133.05 659.11L133.40 653.60L133.75 658.77L134.10 653.73L134.45 658.56L134.80 654.17L135.15 658.49L135.50 653.29L135.85 659.63L136.20 654.01L136.55 658.37L136.90 654.06L137.25 658.65L137.60 653.55L137.95 658.50L138.30 654.32L138.65 658.44L139.00 654.10L139.35 659.67L139.70 653.58L140.05 658.43L140.40 653.90L140.75 659.23L141.10 654.04L141.45 658.45L141.80 652.86L142.15 658.87L142.50 652.90L142.85 658.23L143.20 653.71L143.55 659.04L143.90 654.31L144.25 658.85L144.60 652.59L144.95 659.15L145.30 653.54L145.65 658.83L146.00 653.90L146.35 658.66L146.70 653.63L147.05 659.23L147.40 653.14L147.75 658.27L148.10 653.15L148.45 658.60L148.80 654.03L149.15 659.07L149.50 654.12L149.85 658.58L150.20 652.94L150.55 658.83L150.90 652.87L151.25 659.29L151.60 653.46L151.95 658.97L152.30 651.73L152.65 659.90L153.00 653.51L153.35 660.41L153.70 651.36L154.05 659.50L154.40 652.16L154.75 659.25L155.10 652.27L155.45 660.70L155.80 652.09L156.15 660.28L156.50 650.58L156.85 660.54L157.20 652.85L157.55 661.77L157.90 652.56L158.25 660.31L158.60 651.84L158.95 662.35L159.30 651.24L159.65 660.37L160.00 649.82L160.35 662.65L160.70 650.87L161.05 664.66L161.40 649.16L161.75 661.90L162.10 648.43L162.45 661.11L162.80 649.48L163.15 662.83L163.50 649.37L163.85 664.17L164.20 648.94L164.55 662.30L164.90 649.86L165.25 662.28L165.60 647.19L165.95 662.73L166.30 650.11L166.65 666.07L167.00 646.99L167.35 666.32L167.70 648.73L168.05 665.27L168.40 649.81L168.75 665.18L169.10 649.60L169.45 663.63L169.80 647.92L170.15 664.03L170.50 650.17L170.85 662.09L171.20 650.22L171.55 662.44L171.90 651.41L172.25 663.14L172.60 651.77L172.95 661.10L173.30 650.20L173.65 660.25L174.00 650.67L174.35 660.80L174.70 651.31L175.05 662.47L175.40 651.31L175.75 661.13L176.10 652.68L176.45 660.01L176.80 652.10L177.15 660.00L177.50 651.99L177.85 659.86L178.20 653.20L178.55 659.88L178.90 653.81L179.25 659.24L179.60 653.83L179.95 657.98L180.30 654.42L180.65 658.17L181.00 654.86L181.35 657.57L181.70 654.25L182.05 657.99L182.40 654.63L182.75 658.29L183.10 654.47L183.45 657.95L183.80 654.54L184.15 657.63L184.50 654.44L184.85 658.06L185.20 654.97L185.55 658.23L185.90 654.86L186.25 658.24L186.60 654.72L186.95 658.29L187.30 654.96L187.65 657.89L188.00 654.95L188.35 658.16L188.70 654.37L189.05 657.73L189.40 654.70L189.75 657.58L190.10 654.55L190.45 658.00L190.80 654.37L191.15 657.72L191.50 654.20L191.85 657.69L192.20 654.55L192.55 657.97L192.90 654.92L193.25 658.22L193.60 654.83L193.95 657.83L194.30 654.46L194.65 657.56L195.00 654.87L195.35 658.18L195.70 654.81L196.05 658.26L196.40 654.90L196.75 657.82L197.10 654.58L197.45 657.88L197.80 654.83L198.15 658.56L198.50 654.39L198.85 657.54L199.20 654.84L199.55 657.86L199.90 654.58L200.25 657.55L200.60 654.43L200.95 657.57L201.30 654.27L201.65 658.32L202.00 654.35L202.35 657.81L202.70 654.65L203.05 658.25L203.40 654.85L203.75 658.16L204.10 654.96L204.45 657.90L204.80 654.58L205.15 658.21L205.50 654.91L205.85 657.82L206.20 654.41L206.55 658.20L206.90 654.45L207.25 657.52L207.60 654.86L207.95 658.00L208.30 654.74L208.65 658.08L209.00 654.54L209.35 658.11L209.70 654.23L210.05 658.17L210.40 654.67L210.75 657.85L211.10 654.95L211.45 658.59" fill="none" stroke="#f0403c" stroke-width="0.90"/>
</g>
<rect x="35.50" y="585.80" width="61" height="21" fill="#fff" stroke="#c8c8c8" stroke-width="0.7"/>
<line x1="36.10" y1="591.50" x2="54.10" y2="591.50" stroke="#9a55ff" stroke-width="1.20"/>
<text x="56.50" y="594.20" class="lg">Dome cutter</text>
<line x1="36.10" y1="601.20" x2="54.10" y2="601.20" stroke="#ff7070" stroke-width="1.60"/>
<text x="56.50" y="603.90" class="lg">Flat cutter</text>
</g>
<g>
<rect x="259.40" y="581.70" width="186.20" height="149.10" fill="none" stroke="#555" stroke-width="1.2"/>
<path d="M290.43 730.80V728.20M321.47 730.80V728.20M352.50 730.80V728.20M383.53 730.80V728.20M414.57 730.80V728.20M259.40 722.52H262.00M259.40 705.95H262.00M259.40 689.38H262.00M259.40 672.82H262.00M259.40 656.25H262.00M259.40 639.68H262.00M259.40 623.12H262.00M259.40 606.55H262.00M259.40 589.98H262.00" stroke="#555" stroke-width="0.8" fill="none"/>
<text transform="translate(259.40 739.50) scale(1 1.10)" class="tk" text-anchor="middle">0.0</text>
<text transform="translate(290.43 739.50) scale(1 1.10)" class="tk" text-anchor="middle">0.5</text>
<text transform="translate(321.47 739.50) scale(1 1.10)" class="tk" text-anchor="middle">1.0</text>
<text transform="translate(352.50 739.50) scale(1 1.10)" class="tk" text-anchor="middle">1.5</text>
<text transform="translate(383.53 739.50) scale(1 1.10)" class="tk" text-anchor="middle">2.0</text>
<text transform="translate(414.57 739.50) scale(1 1.10)" class="tk" text-anchor="middle">2.5</text>
<text transform="translate(445.60 739.50) scale(1 1.10)" class="tk" text-anchor="middle">3.0</text>
<text transform="translate(255.90 725.12) scale(1 1.10)" class="tk" text-anchor="end">-160</text>
<text transform="translate(255.90 708.55) scale(1 1.10)" class="tk" text-anchor="end">-120</text>
<text transform="translate(255.90 691.98) scale(1 1.10)" class="tk" text-anchor="end">-80</text>
<text transform="translate(255.90 675.42) scale(1 1.10)" class="tk" text-anchor="end">-40</text>
<text transform="translate(255.90 658.85) scale(1 1.10)" class="tk" text-anchor="end">0</text>
<text transform="translate(255.90 642.28) scale(1 1.10)" class="tk" text-anchor="end">40</text>
<text transform="translate(255.90 625.72) scale(1 1.10)" class="tk" text-anchor="end">80</text>
<text transform="translate(255.90 609.15) scale(1 1.10)" class="tk" text-anchor="end">120</text>
<text transform="translate(255.90 592.58) scale(1 1.10)" class="tk" text-anchor="end">160</text>
<text x="352.50" y="752.40" class="al" text-anchor="middle">Time (s)</text>
<text transform="translate(241.20 656.25) rotate(-90)" class="al" text-anchor="middle">Angular acceleration (rad/s<tspan dy="-3" font-size="5.5">2</tspan><tspan dy="3">)</tspan></text>
<text x="260.00" y="580.30" class="mu">&#215;10<tspan dy="-2.4" font-size="4.2">3</tspan></text>
<g clip-path="url(#c31)">
<path d="M259.40 656.25L259.82 656.48L260.24 655.77L260.66 657.01L261.08 655.24L261.50 657.32L261.92 654.82L262.34 658.16L262.76 654.56L263.18 658.46L263.60 654.09L264.02 658.82L264.44 653.34L264.86 659.24L265.28 652.39L265.70 660.37L266.12 652.58L266.54 660.66L266.96 651.46L267.38 660.77L267.80 651.16L268.22 661.88L268.64 650.96L269.06 661.86L269.48 651.56L269.90 661.20L270.32 650.49L270.74 662.06L271.16 649.56L271.58 663.36L272.00 649.76L272.42 664.10L272.84 649.48L273.26 664.20L273.68 648.47L274.10 663.62L274.52 648.47L274.94 664.51L275.36 649.38L275.78 664.11L276.20 648.74L276.62 664.81L277.04 648.20L277.46 664.70L277.88 647.18L278.30 665.99L278.72 647.35L279.14 665.25L279.56 646.01L279.98 664.95L280.40 648.52L280.82 666.51L281.24 647.93L281.66 664.59L282.08 647.13L282.50 666.34L282.92 647.14L283.34 667.56L283.76 647.73L284.18 666.77L284.60 646.70L285.02 667.09L285.44 646.33L285.86 665.24L286.28 645.01L286.70 668.77L287.12 643.80L287.54 667.54L287.96 644.22L288.38 669.94L288.80 644.29L289.22 667.42L289.64 642.52L290.06 668.36L290.48 643.41L290.90 671.71L291.32 643.36L291.74 670.89L292.16 638.67L292.58 669.76L293.00 637.96L293.42 672.11L293.84 640.53L294.26 672.56L294.68 640.20L295.10 672.01L295.52 637.41L295.94 672.66L296.36 640.98L296.78 671.19L297.20 640.28L297.62 672.83L298.04 638.79L298.46 673.76L298.88 635.27L299.30 671.25L299.72 635.08L300.14 671.70L300.56 635.98L300.98 672.18L301.40 639.33L301.82 675.37L302.24 638.03L302.66 675.41L303.08 638.67L303.50 674.33L303.92 636.22L304.34 675.53L304.76 634.37L305.18 675.05L305.60 638.29L306.02 675.32L306.44 636.60L306.86 671.27L307.28 637.27L307.70 674.30L308.12 637.26L308.54 676.80L308.96 636.78L309.38 676.56L309.80 637.17L310.22 673.31L310.64 638.06L311.06 671.63L311.48 634.82L311.90 675.09L312.32 636.71L312.74 672.06L313.16 635.45L313.58 674.87L314.00 635.12L314.42 673.00L314.84 636.75L315.26 677.45L315.68 638.97L316.10 672.14L316.52 636.71L316.94 674.53L317.36 638.27L317.78 672.06L318.20 638.86L318.62 675.08L319.04 636.15L319.46 672.65L319.88 638.80L320.30 670.61L320.72 641.57L321.14 669.80L321.56 637.91L321.98 671.05L322.40 640.09L322.82 672.34L323.24 637.58L323.66 670.89L324.08 641.74L324.50 671.45L324.92 640.21L325.34 668.19L325.76 640.45L326.18 668.03L326.60 640.48L327.02 668.16L327.44 639.83L327.86 670.12L328.28 641.11L328.70 669.82L329.12 641.51L329.54 668.06L329.96 642.67L330.38 669.99L330.80 644.30L331.22 669.83L331.64 641.68L332.06 666.77L332.48 643.95L332.90 665.62L333.32 644.39L333.74 667.89L334.16 645.90L334.58 666.65L335.00 647.54L335.42 666.28L335.84 647.59L336.26 664.62L336.68 647.22L337.10 663.94L337.52 647.59L337.94 664.98L338.36 649.16L338.78 665.73L339.20 648.89L339.62 665.22L340.04 647.88L340.46 664.12L340.88 648.41L341.30 664.08L341.72 647.61L342.14 664.40L342.56 649.26L342.98 663.95L343.40 649.45L343.82 663.13L344.24 649.25L344.66 661.95L345.08 650.24L345.50 662.71L345.92 649.34L346.34 661.64L346.76 650.62L347.18 662.60L347.60 649.84L348.02 661.62L348.44 649.78L348.86 662.44L349.28 650.83L349.70 659.95L350.12 652.89L350.54 659.36L350.96 654.31L351.38 657.97L351.80 655.13L352.22 657.16L352.64 654.96L353.06 657.62L353.48 654.17L353.90 657.82L354.32 653.76L354.74 658.52L355.16 653.61L355.58 659.10L356.00 653.29L356.42 658.94L356.84 652.81L357.26 659.24L357.68 652.14L358.10 660.27L358.52 651.24L358.94 660.07L359.36 651.74L359.78 660.10L360.20 651.32L360.62 661.09L361.04 650.96L361.46 661.30L361.88 650.36L362.30 660.90L362.72 650.26L363.14 662.19L363.56 650.66L363.98 662.05L364.40 649.96L364.82 661.85L365.24 648.76L365.66 662.83L366.08 648.16L366.50 661.71L366.92 648.19L367.34 662.53L367.76 648.44L368.18 663.57L368.60 647.80L369.02 664.31L369.44 647.90L369.86 664.34L370.28 646.46L370.70 664.35L371.12 644.97L371.54 664.09L371.96 645.33L372.38 664.52L372.80 644.07L373.22 666.03L373.64 646.73L374.06 665.27L374.48 645.76L374.90 665.05L375.32 645.73L375.74 667.47L376.16 642.09L376.58 666.62L377.00 644.33L377.42 667.36L377.84 644.67L378.26 669.13L378.68 640.58L379.10 668.23L379.52 642.10L379.94 670.88L380.36 639.00L380.78 670.28L381.20 635.63L381.62 672.26L382.04 636.67L382.46 672.56L382.88 633.53L383.30 677.43L383.72 635.93L384.14 671.96L384.56 633.33L384.98 675.32L385.40 637.87L385.82 675.34L386.24 632.43L386.66 672.50L387.08 631.37L387.50 673.56L387.92 635.21L388.34 678.22L388.76 634.94L389.18 675.33L389.60 631.91L390.02 678.50L390.44 631.47L390.86 676.42L391.28 636.46L391.70 675.68L392.12 634.33L392.54 677.65L392.96 630.42L393.38 673.48L393.80 636.58L394.22 677.99L394.64 633.72L395.06 676.39L395.48 631.95L395.90 675.27L396.32 629.41L396.74 678.06L397.16 636.43L397.58 675.07L398.00 634.17L398.42 674.73L398.84 633.20L399.26 677.53L399.68 630.38L400.10 679.15L400.52 631.28L400.94 677.82L401.36 636.42L401.78 675.83L402.20 635.92L402.62 677.71L403.04 636.30L403.46 674.35L403.88 635.21L404.30 673.59L404.72 633.58L405.14 672.98L405.56 633.83L405.98 672.57L406.40 636.40L406.82 677.09L407.24 636.10L407.66 678.37L408.08 631.36L408.50 672.83L408.92 637.86L409.34 672.61L409.76 636.52L410.18 675.94L410.60 631.55L411.02 678.06L411.44 635.69L411.86 674.20L412.28 634.44L412.70 672.96L413.12 637.65L413.54 677.53L413.96 637.99L414.38 673.17L414.80 635.39L415.22 671.26L415.64 639.75L416.06 670.28L416.48 640.80L416.90 670.48L417.32 642.85L417.74 669.24L418.16 641.21L418.58 666.77L419.00 642.33L419.42 666.74L419.84 641.41L420.26 666.92L420.68 644.21L421.10 666.81L421.52 645.61L421.94 666.58L422.36 643.42L422.78 663.80L423.20 643.45L423.62 663.35L424.04 644.80L424.46 665.47L424.88 646.94L425.30 662.94L425.72 644.19L426.14 664.10L426.56 645.01L426.98 664.07L427.40 644.96L427.82 663.15L428.24 647.40L428.66 664.25L429.08 648.13L429.50 662.75L429.92 648.18L430.34 663.91L430.76 648.12L431.18 661.92L431.60 648.26L432.02 661.83L432.44 648.35L432.86 661.42L433.28 649.78L433.70 661.59L434.12 649.91L434.54 661.21L434.96 649.09L435.38 661.12L435.80 649.29L436.22 661.75L436.64 651.06L437.06 661.11L437.48 651.29L437.90 661.02L438.32 651.12L438.74 661.06L439.16 651.19L439.58 659.59L440.00 652.54L440.42 660.22L440.84 652.05L441.26 659.68L441.68 653.34L442.10 659.21L442.52 653.73L442.94 658.42L443.36 654.04L443.78 658.29L444.20 654.70L444.62 657.74L445.04 654.78L445.46 657.37" fill="none" stroke="#7f00ff" stroke-width="0.70"/>
<path d="M259.42 656.24V656.26M259.89 655.90V656.71M259.97 655.76V656.47M260.02 656.03V656.79M260.60 655.74V656.82M260.86 654.96V657.43M262.52 655.20V658.04M262.97 653.18V658.88M264.50 652.78V659.78M266.08 652.30V659.41M266.64 649.96V662.63M270.38 649.75V660.19M271.14 647.34V659.72M271.34 650.27V664.44M271.90 648.53V664.01M272.18 648.72V664.14M272.55 649.30V663.87M273.02 646.34V665.98M273.96 650.02V664.15M275.28 649.85V660.77M276.54 652.03V664.70M278.22 649.42V665.20M279.18 643.42V661.28M279.28 646.08V664.52M280.00 643.66V664.58M282.95 644.66V664.64M282.95 646.10V666.97M283.26 645.03V666.20M284.29 646.01V666.32M285.32 645.51V670.92M285.41 643.86V671.08M285.68 651.22V665.23M285.97 647.73V666.44M287.78 645.85V669.42M288.31 642.00V670.07M288.88 643.66V670.35M289.46 641.66V668.93M290.67 644.27V671.85M291.15 646.68V672.54M292.21 630.27V677.16M292.30 633.76V673.41M292.91 627.07V670.38M293.43 628.89V671.74M294.44 645.68V674.59M294.59 638.17V679.33M296.20 628.36V673.28M297.81 626.06V671.98M297.83 632.79V675.37M299.27 631.57V677.52M300.44 629.81V666.16M303.64 627.11V666.12M303.95 641.14V664.14M304.78 643.92V674.15M305.83 628.12V665.49M305.96 625.24V675.19M306.92 628.84V681.52M306.96 635.16V672.68M308.23 639.09V667.11M309.02 628.95V674.17M309.23 625.36V679.36M309.27 635.09V679.54M310.12 633.28V671.54M310.76 640.59V674.76M311.35 639.37V675.04M311.71 636.90V668.38M312.28 628.12V676.64M313.41 631.90V677.23M314.19 631.75V668.12M314.38 626.36V667.35M315.07 635.72V675.38M315.22 644.87V682.82M315.27 638.42V682.21M315.67 635.20V668.83M316.01 633.75V679.68M316.86 642.34V667.39M317.91 645.84V674.46M318.67 628.45V672.24M321.30 638.60V665.74M321.42 630.09V669.55M321.60 642.72V672.75M323.87 639.63V671.38M323.97 631.61V666.93M324.11 636.83V671.35M324.61 632.75V669.99M324.64 636.54V663.74M326.51 641.73V663.40M326.52 647.07V671.86M327.38 643.45V671.77M327.80 639.39V663.68M327.83 636.98V669.06M330.47 646.41V669.33M330.51 636.76V669.82M331.36 634.37V674.58M331.96 635.97V663.22M332.86 648.45V670.91M333.44 643.90V671.41M334.78 650.34V663.78M335.64 645.52V661.09M336.15 648.15V660.95M336.93 643.54V664.80M337.46 642.76V667.25M337.95 648.96V660.85M338.15 650.47V664.35M338.35 644.83V666.33M339.01 644.04V667.56M339.87 645.59V666.74M341.47 649.48V663.36M342.49 651.92V661.43M344.60 651.80V664.71M345.07 651.08V662.97M348.08 652.63V664.62M348.30 647.74V660.88M348.76 651.47V662.83M349.94 653.80V660.87M350.36 654.29V658.69M350.60 653.77V659.62M351.43 654.95V658.12M351.44 654.26V657.26M351.67 654.57V658.08M352.12 654.76V657.17M353.74 653.34V659.07M354.14 653.69V657.74M354.37 652.99V658.02M354.63 654.03V659.94M356.06 652.53V660.42M356.55 653.95V661.11M356.99 652.17V659.86M357.07 649.44V660.50M358.52 650.77V659.54M359.45 651.68V662.41M360.95 652.37V660.02M361.27 647.73V661.26M363.08 646.46V662.01M363.35 646.34V662.45M363.71 650.73V660.85M364.13 646.33V660.63M364.86 647.97V664.30M365.74 648.11V661.94M366.53 650.86V660.60M367.16 652.05V665.39M369.45 650.90V660.73M371.09 646.85V665.11M371.13 646.57V661.12M372.96 647.78V668.93M373.90 649.49V669.68M374.07 639.76V671.55M374.77 645.05V671.25M374.89 650.24V664.43M375.54 645.96V671.95M375.98 646.30V662.74M376.90 637.53V662.76M377.10 643.41V667.38M377.31 642.01V673.68M378.37 644.52V669.43M379.17 638.17V667.84M379.34 634.29V675.07M379.38 635.30V676.87M379.44 636.34V673.11M379.64 640.54V674.23M381.23 644.67V674.82M381.25 631.37V673.16M381.43 644.05V668.26M384.34 635.35V679.90M385.52 625.50V672.10M386.84 628.32V679.77M387.03 630.77V673.15M387.05 627.72V687.26M388.98 621.45V667.61M391.51 620.96V671.62M391.88 622.13V684.93M392.09 629.43V680.12M392.63 625.47V676.74M392.64 628.12V686.42M393.52 636.81V672.68M393.54 624.44V670.63M394.63 629.42V687.02M394.90 623.10V689.03M395.97 629.51V681.53M395.99 640.79V667.24M396.73 638.45V686.85M396.83 623.17V672.59M397.40 623.30V687.15M397.47 627.43V686.77M398.66 626.60V684.79M398.76 638.03V675.52M399.89 619.60V682.54M400.40 635.25V682.09M401.59 635.10V674.45M403.32 630.97V680.47M404.02 633.75V682.01M407.80 631.44V682.93M408.06 633.69V666.40M408.67 627.47V683.76M409.22 622.46V669.17M409.23 622.12V678.75M409.28 634.33V668.16M409.57 632.87V682.31M410.02 645.17V686.69M412.81 636.41V669.54M412.90 622.48V678.98M413.18 643.97V670.43M413.95 624.92V684.49M414.00 638.39V677.62M414.10 640.13V670.75M416.59 643.28V672.23M416.63 634.99V675.59M416.69 633.39V668.09M416.69 639.58V672.24M416.82 637.23V664.94M418.49 643.47V671.56M420.32 640.79V666.09M421.59 638.90V666.50M423.08 644.63V664.00M423.54 641.36V669.15M424.65 642.45V662.99M425.86 650.47V660.13M427.39 642.16V664.79M428.89 649.30V665.53M429.91 646.11V662.85M429.94 651.18V666.58M431.09 652.14V659.91M431.29 648.27V661.46M431.65 646.50V659.81M431.67 651.26V666.02M432.83 646.63V663.17M434.09 648.82V662.20M436.09 650.98V659.76M436.25 648.22V662.35M436.46 651.45V662.35M436.76 649.21V662.83M437.09 650.37V661.91M437.15 652.89V662.04M437.58 650.61V661.95M438.94 652.43V660.35M439.27 649.04V661.42M439.42 652.78V661.14M440.85 653.64V660.49M441.08 653.06V660.60M441.52 653.75V660.43M441.72 653.53V660.39M442.63 654.21V659.45M443.12 653.16V658.58" fill="none" stroke="#7f00ff" stroke-width="0.75"/>
<path d="M259.40 656.25L259.75 656.41L260.10 655.90L260.45 656.79L260.80 655.51L261.15 657.08L261.50 655.45L261.85 657.56L262.20 655.22L262.55 657.89L262.90 654.83L263.25 658.04L263.60 654.23L263.95 659.01L264.30 654.53L264.65 658.46L265.00 653.81L265.35 658.75L265.70 653.89L266.05 659.60L266.40 652.37L266.75 659.07L267.10 653.16L267.45 658.74L267.80 653.05L268.15 659.25L268.50 653.42L268.85 659.19L269.20 653.02L269.55 660.47L269.90 653.40L270.25 659.59L270.60 652.92L270.95 659.57L271.30 651.70L271.65 660.71L272.00 651.48L272.35 660.53L272.70 652.27L273.05 661.25L273.40 652.27L273.75 660.50L274.10 651.80L274.45 661.40L274.80 651.39L275.15 660.90L275.50 652.24L275.85 661.34L276.20 651.06L276.55 660.10L276.90 651.56L277.25 661.19L277.60 650.65L277.95 661.47L278.30 650.98L278.65 662.52L279.00 649.97L279.35 660.55L279.70 649.82L280.05 660.69L280.40 651.61L280.75 660.73L281.10 651.21L281.45 662.42L281.80 649.33L282.15 662.24L282.50 649.11L282.85 661.36L283.20 651.38L283.55 664.31L283.90 649.06L284.25 661.80L284.60 649.88L284.95 662.93L285.30 649.11L285.65 663.85L286.00 649.35L286.35 661.90L286.70 648.37L287.05 663.97L287.40 649.05L287.75 663.50L288.10 648.83L288.45 663.00L288.80 649.48L289.15 662.16L289.50 649.50L289.85 662.85L290.20 649.06L290.55 662.50L290.90 648.20L291.25 663.12L291.60 648.09L291.95 662.89L292.30 649.50L292.65 663.45L293.00 648.51L293.35 662.64L293.70 647.50L294.05 663.41L294.40 645.51L294.75 664.53L295.10 648.01L295.45 664.03L295.80 647.80L296.15 662.73L296.50 647.73L296.85 663.96L297.20 649.16L297.55 663.88L297.90 649.31L298.25 662.78L298.60 645.46L298.95 665.76L299.30 647.92L299.65 663.28L300.00 648.46L300.35 664.86L300.70 649.32L301.05 663.95L301.40 646.17L301.75 665.82L302.10 648.85L302.45 663.22L302.80 646.26L303.15 665.83L303.50 647.10L303.85 665.48L304.20 648.19L304.55 665.22L304.90 648.84L305.25 664.59L305.60 647.54L305.95 664.41L306.30 644.53L306.65 663.94L307.00 649.31L307.35 663.30L307.70 648.21L308.05 666.64L308.40 648.67L308.75 664.66L309.10 646.35L309.45 666.31L309.80 648.61L310.15 664.26L310.50 648.66L310.85 663.42L311.20 646.71L311.55 664.41L311.90 648.37L312.25 666.00L312.60 646.36L312.95 665.31L313.30 649.43L313.65 664.76L314.00 648.03L314.35 665.00L314.70 644.99L315.05 663.46L315.40 646.31L315.75 663.55L316.10 647.43L316.45 664.29L316.80 648.63L317.15 665.34L317.50 646.78L317.85 665.78L318.20 648.48L318.55 663.80L318.90 649.29L319.25 663.50L319.60 648.01L319.95 666.79L320.30 648.51L320.65 664.10L321.00 648.43L321.35 664.99L321.70 647.60L322.05 664.93L322.40 647.87L322.75 665.91L323.10 648.35L323.45 664.46L323.80 647.93L324.15 663.96L324.50 647.73L324.85 664.57L325.20 648.78L325.55 663.23L325.90 648.58L326.25 662.54L326.60 650.12L326.95 662.63L327.30 647.83L327.65 662.14L328.00 648.64L328.35 663.23L328.70 646.54L329.05 662.72L329.40 650.15L329.75 661.97L330.10 649.11L330.45 664.17L330.80 650.18L331.15 661.88L331.50 649.29L331.85 662.89L332.20 649.97L332.55 661.40L332.90 648.84L333.25 662.53L333.60 650.90L333.95 662.21L334.30 649.31L334.65 661.69L335.00 651.31L335.35 663.16L335.70 648.40L336.05 661.87L336.40 650.23L336.75 661.34L337.10 650.24L337.45 662.32L337.80 651.20L338.15 662.16L338.50 651.32L338.85 661.21L339.20 651.83L339.55 662.11L339.90 652.42L340.25 660.98L340.60 652.83L340.95 660.09L341.30 651.33L341.65 661.01L342.00 653.09L342.35 659.62L342.70 653.02L343.05 659.44L343.40 652.88L343.75 659.70L344.10 651.99L344.45 659.70L344.80 652.97L345.15 659.68L345.50 653.84L345.85 658.97L346.20 653.42L346.55 658.93L346.90 654.02L347.25 658.85L347.60 653.98L347.95 657.98L348.30 653.64L348.65 658.22L349.00 654.89L349.35 657.48L349.70 654.74L350.05 657.53L350.40 655.25L350.75 657.14L351.10 655.66L351.45 656.85L351.80 655.84L352.15 656.60L352.50 655.65L352.85 656.76L353.20 655.56L353.55 657.00L353.90 655.41L354.25 657.27L354.60 654.95L354.95 657.61L355.30 654.79L355.65 657.75L356.00 654.91L356.35 658.07L356.70 654.50L357.05 658.02L357.40 654.08L357.75 658.08L358.10 654.10L358.45 658.68L358.80 653.56L359.15 658.82L359.50 654.09L359.85 658.64L360.20 653.50L360.55 659.21L360.90 653.89L361.25 658.92L361.60 652.16L361.95 659.92L362.30 652.81L362.65 659.55L363.00 653.12L363.35 660.28L363.70 652.48L364.05 659.35L364.40 651.83L364.75 660.63L365.10 652.21L365.45 661.29L365.80 651.38L366.15 661.20L366.50 651.22L366.85 660.94L367.20 650.77L367.55 661.45L367.90 651.61L368.25 660.96L368.60 652.37L368.95 661.66L369.30 651.43L369.65 662.20L370.00 651.59L370.35 662.11L370.70 650.78L371.05 662.31L371.40 649.97L371.75 662.60L372.10 651.61L372.45 662.05L372.80 651.28L373.15 663.19L373.50 651.03L373.85 662.03L374.20 650.17L374.55 661.23L374.90 649.31L375.25 663.79L375.60 650.70L375.95 663.43L376.30 649.31L376.65 663.28L377.00 649.27L377.35 662.93L377.70 650.45L378.05 662.56L378.40 649.83L378.75 663.78L379.10 650.04L379.45 664.77L379.80 647.72L380.15 664.25L380.50 649.05L380.85 662.88L381.20 647.46L381.55 664.39L381.90 648.71L382.25 662.52L382.60 647.73L382.95 663.20L383.30 649.85L383.65 664.19L384.00 648.75L384.35 665.11L384.70 648.14L385.05 664.22L385.40 647.12L385.75 663.05L386.10 649.08L386.45 662.94L386.80 647.11L387.15 664.55L387.50 648.53L387.85 665.45L388.20 647.45L388.55 663.91L388.90 649.16L389.25 664.05L389.60 648.96L389.95 664.82L390.30 648.26L390.65 666.62L391.00 646.54L391.35 664.84L391.70 647.53L392.05 665.28L392.40 648.08L392.75 664.97L393.10 648.40L393.45 664.65L393.80 646.97L394.15 663.28L394.50 647.96L394.85 666.67L395.20 645.19L395.55 666.00L395.90 649.36L396.25 666.43L396.60 649.35L396.95 664.71L397.30 644.66L397.65 664.94L398.00 646.72L398.35 662.85L398.70 647.64L399.05 665.32L399.40 647.34L399.75 664.63L400.10 647.88L400.45 664.76L400.80 646.74L401.15 665.95L401.50 648.51L401.85 663.01L402.20 649.54L402.55 665.84L402.90 647.23L403.25 663.16L403.60 647.44L403.95 662.71L404.30 650.03L404.65 665.48L405.00 647.86L405.35 665.01L405.70 647.23L406.05 663.85L406.40 649.62L406.75 662.48L407.10 647.45L407.45 664.84L407.80 649.15L408.15 663.98L408.50 649.20L408.85 663.84L409.20 650.34L409.55 665.01L409.90 647.82L410.25 662.51L410.60 650.02L410.95 663.40L411.30 648.84L411.65 662.83L412.00 650.20L412.35 663.25L412.70 648.66L413.05 663.77L413.40 648.40L413.75 662.41L414.10 649.83L414.45 662.26L414.80 650.57L415.15 662.48L415.50 650.38L415.85 662.69L416.20 651.31L416.55 662.78L416.90 649.90L417.25 661.80L417.60 651.08L417.95 662.73L418.30 650.44L418.65 662.93L419.00 650.40L419.35 662.70L419.70 651.82L420.05 661.23L420.40 651.59L420.75 661.61L421.10 652.18L421.45 661.91L421.80 650.33L422.15 661.77L422.50 651.38L422.85 660.27L423.20 651.12L423.55 661.26L423.90 650.86L424.25 660.09L424.60 651.96L424.95 661.04L425.30 652.50L425.65 661.14L426.00 651.74L426.35 660.33L426.70 652.07L427.05 660.01L427.40 652.75L427.75 660.72L428.10 653.12L428.45 660.40L428.80 652.79L429.15 659.89L429.50 653.43L429.85 660.18L430.20 653.52L430.55 659.99L430.90 653.23L431.25 660.01L431.60 652.58L431.95 659.76L432.30 653.50L432.65 659.33L433.00 653.01L433.35 658.67L433.70 653.41L434.05 659.16L434.40 653.83L434.75 658.21L435.10 653.53L435.45 658.68L435.80 654.45L436.15 658.59L436.50 654.09L436.85 657.87L437.20 654.61L437.55 657.86L437.90 654.49L438.25 658.13L438.60 654.47L438.95 658.20L439.30 654.55L439.65 658.02L440.00 654.61L440.35 657.51L440.70 654.71L441.05 657.40L441.40 655.07L441.75 657.54L442.10 655.39L442.45 657.23L442.80 655.30L443.15 657.12L443.50 655.53L443.85 656.84L444.20 655.72L444.55 656.86L444.90 655.75L445.25 656.65L445.60 655.91" fill="none" stroke="#f0403c" stroke-width="0.90"/>
<path d="M259.70 581.70V656.25" stroke="#f0403c" stroke-width="0.9" fill="none"/>
</g>
<rect x="268.60" y="585.80" width="61" height="21" fill="#fff" stroke="#c8c8c8" stroke-width="0.7"/>
<line x1="269.20" y1="591.50" x2="287.20" y2="591.50" stroke="#9a55ff" stroke-width="1.20"/>
<text x="289.60" y="594.20" class="lg">Dome cutter</text>
<line x1="269.20" y1="601.20" x2="287.20" y2="601.20" stroke="#ff7070" stroke-width="1.60"/>
<text x="289.60" y="603.90" class="lg">Flat cutter</text>
</g>
<g>
<rect x="492.70" y="581.70" width="185.70" height="149.10" fill="none" stroke="#555" stroke-width="1.2"/>
<path d="M523.65 730.80V728.20M554.60 730.80V728.20M585.55 730.80V728.20M616.50 730.80V728.20M647.45 730.80V728.20M492.70 722.52H495.30M492.70 705.95H495.30M492.70 689.38H495.30M492.70 672.82H495.30M492.70 656.25H495.30M492.70 639.68H495.30M492.70 623.12H495.30M492.70 606.55H495.30M492.70 589.98H495.30" stroke="#555" stroke-width="0.8" fill="none"/>
<text transform="translate(492.70 739.50) scale(1 1.10)" class="tk" text-anchor="middle">0.0</text>
<text transform="translate(523.65 739.50) scale(1 1.10)" class="tk" text-anchor="middle">0.5</text>
<text transform="translate(554.60 739.50) scale(1 1.10)" class="tk" text-anchor="middle">1.0</text>
<text transform="translate(585.55 739.50) scale(1 1.10)" class="tk" text-anchor="middle">1.5</text>
<text transform="translate(616.50 739.50) scale(1 1.10)" class="tk" text-anchor="middle">2.0</text>
<text transform="translate(647.45 739.50) scale(1 1.10)" class="tk" text-anchor="middle">2.5</text>
<text transform="translate(678.40 739.50) scale(1 1.10)" class="tk" text-anchor="middle">3.0</text>
<text transform="translate(489.20 725.12) scale(1 1.10)" class="tk" text-anchor="end">-160</text>
<text transform="translate(489.20 708.55) scale(1 1.10)" class="tk" text-anchor="end">-120</text>
<text transform="translate(489.20 691.98) scale(1 1.10)" class="tk" text-anchor="end">-80</text>
<text transform="translate(489.20 675.42) scale(1 1.10)" class="tk" text-anchor="end">-40</text>
<text transform="translate(489.20 658.85) scale(1 1.10)" class="tk" text-anchor="end">0</text>
<text transform="translate(489.20 642.28) scale(1 1.10)" class="tk" text-anchor="end">40</text>
<text transform="translate(489.20 625.72) scale(1 1.10)" class="tk" text-anchor="end">80</text>
<text transform="translate(489.20 609.15) scale(1 1.10)" class="tk" text-anchor="end">120</text>
<text transform="translate(489.20 592.58) scale(1 1.10)" class="tk" text-anchor="end">160</text>
<text x="585.55" y="752.40" class="al" text-anchor="middle">Time (s)</text>
<text transform="translate(474.50 656.25) rotate(-90)" class="al" text-anchor="middle">Angular acceleration (rad/s<tspan dy="-3" font-size="5.5">2</tspan><tspan dy="3">)</tspan></text>
<text x="493.30" y="580.30" class="mu">&#215;10<tspan dy="-2.4" font-size="4.2">3</tspan></text>
<g clip-path="url(#c32)">
<path d="M492.70 656.25L493.15 656.68L493.60 655.15L494.05 657.26L494.50 653.91L494.95 658.20L495.40 653.46L495.85 659.43L496.30 652.89L496.75 659.14L497.20 653.02L497.65 659.12L498.10 652.41L498.55 658.93L499.00 652.01L499.45 660.02L499.90 652.09L500.35 659.35L500.80 652.59L501.25 659.96L501.70 652.48L502.15 659.36L502.60 652.05L503.05 659.93L503.50 652.34L503.95 660.65L504.40 652.53L504.85 659.46L505.30 652.12L505.75 659.66L506.20 652.41L506.65 659.49L507.10 651.16L507.55 660.44L508.00 652.08L508.45 660.64L508.90 651.30L509.35 659.40L509.80 651.93L510.25 660.11L510.70 651.30L511.15 659.92L511.60 651.84L512.05 660.46L512.50 651.61L512.95 659.80L513.40 652.11L513.85 659.66L514.30 651.94L514.75 659.40L515.20 651.94L515.65 659.52L516.10 651.91L516.55 659.67L517.00 651.79L517.45 659.60L517.90 652.71L518.35 660.16L518.80 651.64L519.25 659.25L519.70 652.00L520.15 659.81L520.60 652.13L521.05 659.07L521.50 652.97L521.95 659.05L522.40 653.69L522.85 658.06" fill="none" stroke="#7f00ff" stroke-width="0.65"/>
<path d="M494.78 654.77V659.32M495.37 651.08V658.95M496.83 653.46V661.18M497.87 651.47V660.22M500.54 649.04V660.33M501.32 648.44V661.20M503.06 648.07V662.10M504.48 651.52V660.90M504.59 648.46V663.07M506.32 649.78V659.66M506.49 649.51V660.53M506.64 652.93V660.19M510.25 649.28V659.09M510.98 647.84V661.38M511.85 647.79V660.99M511.96 651.48V660.77M515.33 652.36V662.40M519.45 651.91V662.35M519.52 649.85V662.09M519.87 650.71V659.97M520.78 649.76V660.93M521.06 651.46V661.65M522.31 653.91V660.23M522.86 654.55V658.23" fill="none" stroke="#7f00ff" stroke-width="0.75"/>
<path d="M523.03 654.84L523.48 665.50L523.93 650.43L524.38 669.60L524.83 645.68L525.28 667.94L525.73 645.60L526.18 667.82L526.63 642.82L527.08 671.54L527.53 641.93L527.98 670.87L528.43 639.12L528.88 667.67L529.33 642.18L529.78 669.41L530.23 642.29L530.68 672.11L531.13 638.63L531.58 672.42L532.03 638.82L532.48 669.21L532.93 640.58L533.38 669.15L533.83 642.09L534.28 668.93L534.73 642.08L535.18 671.06L535.63 644.14L536.08 669.31L536.53 642.93L536.98 669.90L537.43 644.51L537.88 670.44L538.33 642.31L538.78 670.73L539.23 644.54L539.68 670.94L540.13 642.61L540.58 668.52L541.03 645.36L541.48 669.42L541.93 644.80L542.38 668.59L542.83 646.21L543.28 671.59L543.73 643.20L544.18 670.45L544.63 645.98L545.08 669.66L545.53 646.01L545.98 669.88L546.43 645.70L546.88 669.27L547.33 646.74L547.78 668.13L548.23 644.41L548.68 669.50L549.13 644.71L549.58 671.00L550.03 644.30L550.48 667.49L550.93 646.85L551.38 670.77L551.83 644.49L552.28 669.34L552.73 647.12L553.18 670.43L553.63 645.25L554.08 669.27L554.53 645.35L554.98 668.58L555.43 646.21L555.88 667.45L556.33 645.71L556.78 667.37L557.23 647.23L557.68 666.87L558.13 644.54L558.58 668.51L559.03 645.99L559.48 666.62L559.93 645.71L560.38 666.16L560.83 644.76L561.28 668.29L561.73 646.53L562.18 667.20L562.63 645.94L563.08 666.96L563.53 646.19L563.98 668.16L564.43 648.27L564.88 668.97L565.33 646.28L565.78 665.81L566.23 647.53L566.68 668.52L567.13 646.62L567.58 667.40L568.03 647.21L568.48 663.85L568.93 649.51L569.38 662.16" fill="none" stroke="#7f00ff" stroke-width="0.65"/>
<path d="M523.89 646.53V668.61M523.95 644.39V672.65M524.11 650.22V676.30M525.09 642.75V673.71M529.43 637.21V664.94M531.76 633.97V669.54M532.15 631.30V673.62M533.03 633.49V671.16M533.12 638.84V670.76M533.38 631.15V664.36M535.11 635.35V679.75M535.24 647.24V666.72M535.70 643.95V669.24M536.11 635.66V665.28M539.76 643.63V671.65M539.99 647.34V672.45M540.00 647.92V665.00M540.51 643.43V669.29M540.67 647.96V666.70M540.87 646.36V677.62M541.81 643.42V669.51M542.39 637.86V676.55M542.75 647.86V678.63M543.46 648.45V673.98M543.53 647.71V674.42M543.64 641.56V680.48M545.69 645.10V670.48M547.43 646.09V676.24M547.59 643.57V677.54M548.45 647.75V669.86M549.99 644.15V670.64M550.88 647.28V668.39M552.04 640.66V669.43M552.07 649.51V668.27M552.16 649.41V671.17M552.73 647.71V674.71M555.23 643.74V674.02M556.10 641.48V668.01M557.99 643.25V667.85M558.88 639.43V668.43M560.90 643.41V673.56M564.40 641.21V673.91M564.76 639.80V667.07M564.87 649.27V671.44M566.76 640.00V669.31M569.72 646.33V662.53" fill="none" stroke="#7f00ff" stroke-width="0.75"/>
<path d="M569.77 632.78L570.22 678.03L570.67 632.92L571.12 679.12L571.57 633.69L572.02 676.92L572.47 631.19L572.92 678.85L573.37 632.54L573.82 677.41L574.27 637.02L574.72 673.07L575.17 635.92L575.62 674.46L576.07 639.27L576.52 671.87L576.97 640.61L577.42 670.39L577.87 640.66L578.32 669.31L578.77 643.98L579.22 669.34L579.67 643.78L580.12 667.55L580.57 645.62L581.02 665.11L581.47 647.42L581.92 664.54L582.37 649.85L582.82 662.57L583.27 651.35L583.72 660.87L584.17 652.34L584.62 659.40L585.07 653.74L585.52 658.21" fill="none" stroke="#7f00ff" stroke-width="0.65"/>
<path d="M571.15 644.16V665.85M571.31 644.41V672.44M571.99 637.00V670.08M573.10 629.96V668.78M573.91 633.67V680.75M574.10 645.68V674.47M574.38 635.66V667.82M574.68 637.32V672.19M575.59 637.60V665.96M576.95 634.11V672.26M576.99 638.84V672.90M577.66 645.08V675.94M579.14 648.28V663.84M579.39 641.48V666.86M579.99 647.11V666.23M580.39 649.19V667.54M583.33 649.24V664.04M584.16 653.47V661.72" fill="none" stroke="#7f00ff" stroke-width="0.75"/>
<path d="M585.55 654.77L586.00 658.44L586.45 654.30L586.90 659.15L587.35 653.83L587.80 659.07L588.25 653.47L588.70 659.79L589.15 652.95L589.60 659.96L590.05 650.71L590.50 662.14L590.95 651.34L591.40 661.77L591.85 649.20L592.30 663.52L592.75 650.37L593.20 661.94L593.65 649.92L594.10 663.97L594.55 648.05L595.00 663.76L595.45 649.21L595.90 663.19L596.35 647.36L596.80 665.05L597.25 648.42L597.70 665.39L598.15 647.59L598.60 666.17L599.05 646.16L599.50 666.57L599.95 646.27L600.40 666.80L600.85 648.26L601.30 665.59L601.75 645.12L602.20 665.03L602.65 645.24L603.10 667.04L603.55 645.94L604.00 667.34L604.45 642.20L604.90 667.42L605.35 645.37L605.80 668.07L606.25 640.97L606.70 673.52L607.15 641.68L607.60 674.97L608.05 639.58L608.50 671.62L608.95 637.35L609.40 671.47L609.85 641.85L610.30 678.36L610.75 638.68L611.20 676.82L611.65 638.11L612.10 676.28L612.55 637.59L613.00 678.95L613.45 635.96L613.90 680.24L614.35 638.06L614.80 674.36L615.25 637.30L615.70 674.17L616.15 639.61L616.60 674.16L617.05 638.39L617.50 675.67L617.95 639.86L618.40 676.86L618.85 636.66L619.30 676.41L619.75 634.00L620.20 676.54L620.65 637.99L621.10 681.46L621.55 636.77L622.00 676.20L622.45 637.62L622.90 680.53L623.35 637.61L623.80 681.56L624.25 633.31L624.70 677.93L625.15 633.50L625.60 677.65L626.05 635.44L626.50 682.71L626.95 637.79L627.40 677.49L627.85 631.22L628.30 678.75L628.75 632.76L629.20 677.04L629.65 630.74L630.10 678.12L630.55 633.88L631.00 683.45L631.45 630.45L631.90 677.24L632.35 630.11L632.80 678.68L633.25 631.90L633.70 681.98L634.15 633.45L634.60 684.08L635.05 632.35L635.50 680.05L635.95 634.38L636.40 682.91L636.85 633.62L637.30 683.16L637.75 635.38L638.20 680.16L638.65 629.16L639.10 680.70L639.55 636.68L640.00 679.43L640.45 633.10L640.90 677.96L641.35 631.85L641.80 680.36L642.25 628.82L642.70 681.02L643.15 631.96L643.60 678.67L644.05 633.58L644.50 679.88L644.95 630.96L645.40 678.91L645.85 636.24L646.30 680.65L646.75 638.57" fill="none" stroke="#7f00ff" stroke-width="0.65"/>
<path d="M586.21 653.90V660.24M586.53 653.32V659.62M586.77 653.88V659.03M586.88 654.58V659.32M587.79 653.16V661.21M589.48 646.71V665.52M592.34 649.03V667.86M592.87 644.39V668.82M593.04 644.17V662.93M594.08 649.25V670.77M596.11 650.04V662.64M600.59 642.72V667.73M601.92 647.74V669.41M604.46 646.03V666.14M604.95 634.19V666.21M605.82 632.65V680.51M605.91 632.68V670.46M609.77 625.41V688.28M610.39 630.28V683.72M610.53 623.12V685.00M610.67 630.85V692.92M612.38 629.24V681.58M613.70 634.87V691.21M614.91 642.46V685.78M616.26 628.60V677.81M616.29 632.44V680.82M617.12 619.62V682.86M618.55 628.10V684.31M619.83 636.43V687.29M621.88 624.10V695.50M622.66 634.15V670.70M623.79 637.76V679.72M626.48 620.92V680.03M627.56 641.44V690.51M629.42 628.53V696.11M629.88 638.13V685.30M629.89 619.15V694.85M630.21 614.45V684.92M630.50 618.49V675.78M631.86 643.11V698.41M632.03 617.30V685.05M632.22 622.25V681.21M632.24 624.18V679.25M632.29 622.79V689.53M633.47 614.62V679.06M633.78 629.45V678.37M634.45 615.16V686.49M635.46 640.08V701.16M635.95 619.32V687.67M636.67 618.56V673.03M639.18 619.70V687.11M641.14 622.07V683.50M641.39 620.50V687.73M641.54 628.70V675.01M642.47 619.57V683.54M643.53 615.57V677.19M643.80 619.62V693.97M644.21 612.63V673.27M644.42 622.42V674.18M645.38 632.03V677.53M645.78 637.38V686.43" fill="none" stroke="#7f00ff" stroke-width="0.75"/>
<path d="M646.83 595.83L647.28 719.57L647.73 595.24L648.18 716.30L648.63 594.15L649.08 717.21L649.53 597.26L649.98 713.31L650.43 595.51L650.88 708.64" fill="none" stroke="#7f00ff" stroke-width="0.65"/>
<path d="M646.87 610.18V691.18M647.07 604.27V710.67M647.50 634.86V722.31M647.61 602.89V713.98M649.82 610.40V679.25M649.85 618.30V715.97" fill="none" stroke="#7f00ff" stroke-width="0.75"/>
<path d="M651.16 622.47L651.61 687.01L652.06 630.09L652.51 682.23L652.96 623.05L653.41 688.39L653.86 628.21L654.31 688.60L654.76 626.91L655.21 688.93L655.66 625.50L656.11 685.34L656.56 629.76L657.01 684.03L657.46 626.96L657.91 678.66L658.36 634.09L658.81 677.14L659.26 628.85L659.71 679.96L660.16 631.27L660.61 680.53L661.06 637.28L661.51 680.40L661.96 632.62L662.41 675.83L662.86 635.99L663.31 677.37L663.76 633.26L664.21 679.02L664.66 639.67L665.11 675.14L665.56 639.48L666.01 672.37L666.46 636.26L666.91 675.62L667.36 641.81L667.81 672.26L668.26 641.99L668.71 671.94L669.16 638.55L669.61 668.75L670.06 638.94L670.51 668.33L670.96 643.65L671.41 667.98L671.86 643.35L672.31 667.44L672.76 645.27L673.21 664.49L673.66 649.18L674.11 662.53L674.56 648.53L675.01 662.89L675.46 651.44L675.91 661.54L676.36 651.36L676.81 659.44L677.26 653.29L677.71 659.15L678.16 653.52" fill="none" stroke="#7f00ff" stroke-width="0.65"/>
<path d="M652.37 626.35V685.73M652.95 614.67V692.58M653.17 624.80V704.72M654.11 612.56V674.22M655.84 612.37V685.88M656.70 635.93V699.85M659.28 629.39V678.15M659.67 629.63V699.70M661.16 622.41V680.42M663.60 626.05V678.77M664.41 642.56V690.11M664.62 627.73V668.30M664.69 622.11V689.90M664.77 622.66V686.50M666.13 642.92V675.91M668.22 642.29V673.54M668.25 641.96V670.99M668.30 633.05V674.19M668.84 633.58V681.52M669.28 644.33V682.80M670.13 635.96V681.27M670.59 641.72V676.14M670.79 647.09V680.32M671.04 640.23V665.41M671.84 639.17V663.13M672.03 644.45V675.95M673.63 639.82V668.22M674.20 641.49V664.21M675.12 644.42V662.97" fill="none" stroke="#7f00ff" stroke-width="0.75"/>
<path d="M646.71 610.69V697.67" stroke="#fff" stroke-width="0.8" fill="none"/>
<path d="M492.70 656.25L493.05 656.56L493.40 655.60L493.75 657.37L494.10 655.16L494.45 657.80L494.80 654.20L495.15 657.85L495.50 654.46L495.85 658.29L496.20 654.27L496.55 658.78L496.90 654.49L497.25 658.17L497.60 654.59L497.95 658.55L498.30 654.06L498.65 658.71L499.00 653.70L499.35 658.35L499.70 654.35L500.05 658.57L500.40 653.91L500.75 658.52L501.10 654.06L501.45 658.64L501.80 653.44L502.15 658.53L502.50 654.13L502.85 658.58L503.20 654.22L503.55 659.34L503.90 653.16L504.25 658.57L504.60 653.96L504.95 659.24L505.30 653.71L505.65 659.25L506.00 652.86L506.35 659.44L506.70 652.84L507.05 659.00L507.40 653.65L507.75 659.88L508.10 653.59L508.45 659.48L508.80 652.93L509.15 658.90L509.50 653.67L509.85 658.97L510.20 653.79L510.55 658.80L510.90 653.70L511.25 658.41L511.60 654.08L511.95 658.98L512.30 653.18L512.65 658.79L513.00 654.08L513.35 658.57L513.70 654.30L514.05 658.74L514.40 653.46L514.75 658.97L515.10 654.03L515.45 658.38L515.80 653.80L516.15 658.68L516.50 653.47L516.85 658.43L517.20 653.89L517.55 659.37L517.90 653.93L518.25 658.86L518.60 654.01L518.95 658.40L519.30 654.03L519.65 658.32L520.00 653.71L520.35 658.43L520.70 654.08L521.05 658.92L521.40 653.70L521.75 658.13L522.10 654.10L522.45 658.47L522.80 654.34L523.15 658.10L523.50 653.94L523.85 658.21L524.20 653.90L524.55 658.53L524.90 654.29L525.25 658.31L525.60 654.02L525.95 658.93L526.30 653.73L526.65 658.18L527.00 653.63L527.35 658.75L527.70 653.95L528.05 658.31L528.40 654.44L528.75 658.31L529.10 653.72L529.45 658.35L529.80 654.16L530.15 658.36L530.50 653.83L530.85 658.45L531.20 654.13L531.55 658.35L531.90 654.22L532.25 658.84L532.60 653.89L532.95 658.41L533.30 653.92L533.65 658.22L534.00 654.33L534.35 658.04L534.70 654.11L535.05 658.21L535.40 654.45L535.75 658.06L536.10 654.29L536.45 658.84L536.80 653.84L537.15 658.60L537.50 654.42L537.85 658.78L538.20 654.26L538.55 658.85L538.90 653.69L539.25 658.68L539.60 653.99L539.95 658.62L540.30 654.17L540.65 658.75L541.00 653.64L541.35 658.16L541.70 653.95L542.05 657.99L542.40 653.86L542.75 658.85L543.10 654.32L543.45 658.59L543.80 653.80L544.15 658.00L544.50 654.44L544.85 658.68L545.20 653.99L545.55 658.76L545.90 653.91L546.25 657.93L546.60 653.90L546.95 658.16L547.30 654.19L547.65 658.60L548.00 653.90L548.35 658.36L548.70 654.50L549.05 658.31L549.40 653.33L549.75 659.02L550.10 653.84L550.45 658.00L550.80 654.12L551.15 658.27L551.50 654.44L551.85 658.02L552.20 654.29L552.55 658.08L552.90 654.12L553.25 658.29L553.60 654.58L553.95 658.39L554.30 654.59L554.65 658.27L555.00 654.38L555.35 657.95L555.70 653.73L556.05 658.75L556.40 653.83L556.75 658.50L557.10 653.82L557.45 658.15L557.80 654.43L558.15 658.34L558.50 654.29L558.85 658.73L559.20 653.70L559.55 658.76L559.90 654.14L560.25 659.03L560.60 653.69L560.95 658.38L561.30 654.28L561.65 659.10L562.00 653.45L562.35 659.13L562.70 652.88L563.05 659.20L563.40 653.53L563.75 658.63L564.10 653.16L564.45 659.27L564.80 653.86L565.15 659.04L565.50 653.73L565.85 659.31L566.20 652.83L566.55 658.88L566.90 653.03L567.25 659.12L567.60 653.63L567.95 658.68L568.30 653.67L568.65 658.98L569.00 653.65L569.35 659.67L569.70 653.05L570.05 659.52L570.40 652.57L570.75 659.54L571.10 652.88L571.45 658.87L571.80 653.52L572.15 658.62L572.50 653.75L572.85 659.74L573.20 653.74L573.55 658.64L573.90 652.98L574.25 659.17L574.60 653.46L574.95 659.23L575.30 653.84L575.65 659.28L576.00 653.45L576.35 659.36L576.70 653.27L577.05 658.59L577.40 653.83L577.75 658.42L578.10 653.27L578.45 658.72L578.80 654.15L579.15 658.35L579.50 653.98L579.85 658.33L580.20 653.72L580.55 659.13L580.90 653.49L581.25 658.81L581.60 654.10L581.95 659.15L582.30 653.96L582.65 658.19L583.00 653.43L583.35 658.83L583.70 654.16L584.05 659.10L584.40 653.35L584.75 659.04L585.10 654.20L585.45 658.99L585.80 654.32L586.15 658.87L586.50 653.61L586.85 658.44L587.20 653.02L587.55 658.81L587.90 653.87L588.25 659.10L588.60 653.53L588.95 658.68L589.30 654.35L589.65 658.87L590.00 654.26L590.35 659.06L590.70 654.36L591.05 658.23L591.40 653.47L591.75 658.75L592.10 653.98L592.45 658.94L592.80 654.05L593.15 658.52L593.50 653.45L593.85 658.60L594.20 653.49L594.55 659.14L594.90 654.13L595.25 658.54L595.60 653.88L595.95 658.55L596.30 653.95L596.65 658.98L597.00 653.74L597.35 658.41L597.70 653.39L598.05 658.56L598.40 653.97L598.75 659.06L599.10 653.63L599.45 658.35L599.80 653.31L600.15 659.20L600.50 653.67L600.85 659.02L601.20 653.58L601.55 659.17L601.90 653.34L602.25 658.61L602.60 652.62L602.95 659.14L603.30 654.08L603.65 659.08L604.00 653.56L604.35 659.40L604.70 653.02L605.05 659.46L605.40 653.51L605.75 658.92L606.10 653.54L606.45 658.82L606.80 652.82L607.15 658.73L607.50 653.65L607.85 659.13L608.20 653.25L608.55 659.22L608.90 652.79L609.25 659.24L609.60 652.49L609.95 658.87L610.30 653.37L610.65 659.01L611.00 652.56L611.35 659.18L611.70 653.27L612.05 660.05L612.40 653.12L612.75 660.21L613.10 653.12L613.45 659.01L613.80 652.39L614.15 658.90L614.50 653.45L614.85 659.13L615.20 653.02L615.55 659.25L615.90 652.93L616.25 659.59L616.60 653.36L616.95 658.76L617.30 653.38L617.65 658.52L618.00 653.14L618.35 659.44L618.70 653.16L619.05 659.21L619.40 653.56L619.75 658.69L620.10 653.72L620.45 658.50L620.80 653.82L621.15 658.22L621.50 653.65L621.85 658.17L622.20 653.82L622.55 658.19L622.90 654.31L623.25 658.16L623.60 654.11L623.95 658.18L624.30 654.41L624.65 658.17L625.00 654.41L625.35 658.25L625.70 654.28L626.05 659.08L626.40 654.33L626.75 657.89L627.10 654.25L627.45 658.22L627.80 654.13L628.15 658.64L628.50 654.57L628.85 658.10L629.20 654.15L629.55 658.41L629.90 654.62L630.25 658.60L630.60 654.27L630.95 658.65L631.30 654.48L631.65 657.92L632.00 653.43L632.35 658.14L632.70 654.20L633.05 658.52L633.40 653.40L633.75 658.43L634.10 654.31L634.45 658.51L634.80 653.95L635.15 658.69L635.50 654.15L635.85 658.39L636.20 654.14L636.55 658.53L636.90 653.83L637.25 658.03L637.60 653.82L637.95 658.72L638.30 654.10L638.65 658.56L639.00 654.56L639.35 658.11L639.70 654.62L640.05 658.64L640.40 654.02L640.75 658.52L641.10 653.87L641.45 658.16L641.80 654.58L642.15 658.56L642.50 653.84L642.85 657.96L643.20 654.62L643.55 658.68L643.90 654.54L644.25 658.60L644.60 654.52L644.95 658.41L645.30 654.01L645.65 658.00L646.00 653.97L646.35 658.41L646.70 654.30L647.05 658.01L647.40 653.46L647.75 658.12L648.10 653.77L648.45 658.18L648.80 654.17L649.15 658.61L649.50 653.87L649.85 658.57L650.20 654.50L650.55 658.42L650.90 654.12L651.25 658.82L651.60 653.98L651.95 658.85L652.30 654.41L652.65 658.33L653.00 654.09L653.35 658.63L653.70 654.24L654.05 658.22L654.40 653.90L654.75 658.52L655.10 653.82L655.45 658.62L655.80 654.14L656.15 658.68L656.50 653.62L656.85 658.57L657.20 654.39L657.55 658.36L657.90 654.31L658.25 658.37L658.60 654.01L658.95 658.96L659.30 653.69L659.65 658.62L660.00 653.46L660.35 659.36L660.70 653.40L661.05 659.01L661.40 654.26L661.75 658.60L662.10 653.59L662.45 658.51L662.80 653.54L663.15 658.72L663.50 653.95L663.85 658.75L664.20 653.97L664.55 658.51L664.90 653.65L665.25 658.74L665.60 653.80L665.95 658.41L666.30 654.01L666.65 658.30L667.00 654.05L667.35 658.50L667.70 653.76L668.05 658.90L668.40 653.78L668.75 659.39L669.10 652.80L669.45 658.91L669.80 653.88L670.15 659.44L670.50 653.06L670.85 658.69L671.20 653.08L671.55 659.05L671.90 653.29L672.25 659.25L672.60 653.94L672.95 659.54L673.30 653.12L673.65 659.20L674.00 653.00L674.35 659.15L674.70 652.98L675.05 658.58L675.40 653.42L675.75 658.49L676.10 653.90L676.45 659.47L676.80 653.71L677.15 658.68L677.50 653.05L677.85 658.67L678.20 652.94" fill="none" stroke="#f0403c" stroke-width="0.90"/>
<path d="M493.00 656.25V724.59" stroke="#7f00ff" stroke-width="0.9" fill="none"/>
</g>
<rect x="501.90" y="585.80" width="61" height="21" fill="#fff" stroke="#c8c8c8" stroke-width="0.7"/>
<line x1="502.50" y1="591.50" x2="520.50" y2="591.50" stroke="#9a55ff" stroke-width="1.20"/>
<text x="522.90" y="594.20" class="lg">Dome cutter</text>
<line x1="502.50" y1="601.20" x2="520.50" y2="601.20" stroke="#ff7070" stroke-width="1.60"/>
<text x="522.90" y="603.90" class="lg">Flat cutter</text>
</g>
<text x="105.35" y="777.6" class="pl" text-anchor="middle">a</text>
<path d="M100.45 767.9Q94.25 773.5 100.45 779.1M109.95 767.9Q116.55 773.5 109.95 779.1" stroke="#555" stroke-width="0.75" fill="none"/>
<text x="339.45" y="777.6" class="pl" text-anchor="middle">b</text>
<path d="M334.55 767.9Q328.35 773.5 334.55 779.1M344.05 767.9Q350.65 773.5 344.05 779.1" stroke="#555" stroke-width="0.75" fill="none"/>
<text x="572.35" y="777.6" class="pl" text-anchor="middle">c</text>
<path d="M567.45 767.9Q561.25 773.5 567.45 779.1M576.95 767.9Q583.55 773.5 576.95 779.1" stroke="#555" stroke-width="0.75" fill="none"/>
</svg></body></html>
